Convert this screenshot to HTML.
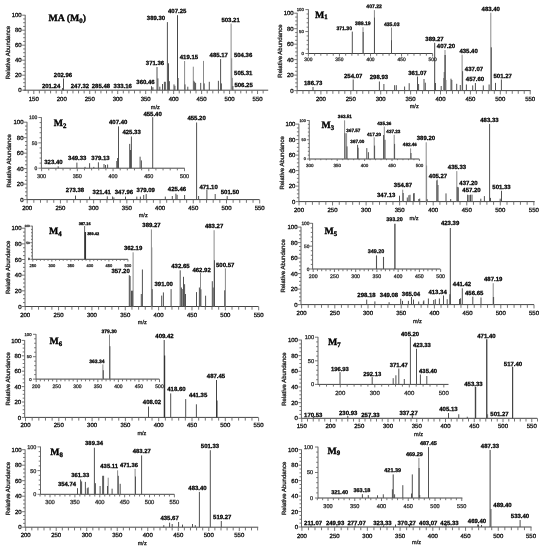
<!DOCTYPE html>
<html><head><meta charset="utf-8"><style>
html,body{margin:0;padding:0;background:#fff;}
svg{display:block;filter:blur(0.3px);}
text{font-family:"Liberation Sans",sans-serif;text-rendering:geometricPrecision;}
</style></head><body>
<svg width="544" height="550" viewBox="0 0 544 550">
<rect width="544" height="550" fill="#fff"/>
<line x1="25.20" y1="14.90" x2="25.20" y2="90.60" stroke="#666" stroke-width="1.0"/>
<line x1="23.50" y1="90.20" x2="268.20" y2="90.20" stroke="#444" stroke-width="1.0"/>
<line x1="22.20" y1="90.20" x2="25.20" y2="90.20" stroke="#666" stroke-width="0.9"/>
<line x1="23.20" y1="86.45" x2="25.20" y2="86.45" stroke="#666" stroke-width="0.9"/>
<line x1="23.20" y1="82.70" x2="25.20" y2="82.70" stroke="#666" stroke-width="0.9"/>
<line x1="23.20" y1="78.95" x2="25.20" y2="78.95" stroke="#666" stroke-width="0.9"/>
<line x1="22.20" y1="75.20" x2="25.20" y2="75.20" stroke="#666" stroke-width="0.9"/>
<line x1="23.20" y1="71.45" x2="25.20" y2="71.45" stroke="#666" stroke-width="0.9"/>
<line x1="23.20" y1="67.70" x2="25.20" y2="67.70" stroke="#666" stroke-width="0.9"/>
<line x1="23.20" y1="63.95" x2="25.20" y2="63.95" stroke="#666" stroke-width="0.9"/>
<line x1="22.20" y1="60.20" x2="25.20" y2="60.20" stroke="#666" stroke-width="0.9"/>
<line x1="23.20" y1="56.45" x2="25.20" y2="56.45" stroke="#666" stroke-width="0.9"/>
<line x1="23.20" y1="52.70" x2="25.20" y2="52.70" stroke="#666" stroke-width="0.9"/>
<line x1="23.20" y1="48.95" x2="25.20" y2="48.95" stroke="#666" stroke-width="0.9"/>
<line x1="22.20" y1="45.20" x2="25.20" y2="45.20" stroke="#666" stroke-width="0.9"/>
<line x1="23.20" y1="41.45" x2="25.20" y2="41.45" stroke="#666" stroke-width="0.9"/>
<line x1="23.20" y1="37.70" x2="25.20" y2="37.70" stroke="#666" stroke-width="0.9"/>
<line x1="23.20" y1="33.95" x2="25.20" y2="33.95" stroke="#666" stroke-width="0.9"/>
<line x1="22.20" y1="30.20" x2="25.20" y2="30.20" stroke="#666" stroke-width="0.9"/>
<line x1="23.20" y1="26.45" x2="25.20" y2="26.45" stroke="#666" stroke-width="0.9"/>
<line x1="23.20" y1="22.70" x2="25.20" y2="22.70" stroke="#666" stroke-width="0.9"/>
<line x1="23.20" y1="18.95" x2="25.20" y2="18.95" stroke="#666" stroke-width="0.9"/>
<line x1="22.20" y1="15.20" x2="25.20" y2="15.20" stroke="#666" stroke-width="0.9"/>
<text x="21.70" y="92.36" font-size="6.0" text-anchor="end" fill="#111" stroke="#111" stroke-width="0.3">0</text>
<text x="21.70" y="77.36" font-size="6.0" text-anchor="end" fill="#111" stroke="#111" stroke-width="0.3">20</text>
<text x="21.70" y="62.36" font-size="6.0" text-anchor="end" fill="#111" stroke="#111" stroke-width="0.3">40</text>
<text x="21.70" y="47.36" font-size="6.0" text-anchor="end" fill="#111" stroke="#111" stroke-width="0.3">60</text>
<text x="21.70" y="32.36" font-size="6.0" text-anchor="end" fill="#111" stroke="#111" stroke-width="0.3">80</text>
<text x="21.70" y="17.36" font-size="6.0" text-anchor="end" fill="#111" stroke="#111" stroke-width="0.3">100</text>
<line x1="28.21" y1="90.20" x2="28.21" y2="93.40" stroke="#666" stroke-width="0.9"/>
<line x1="33.80" y1="90.20" x2="33.80" y2="94.00" stroke="#666" stroke-width="0.9"/>
<line x1="39.39" y1="90.20" x2="39.39" y2="93.40" stroke="#666" stroke-width="0.9"/>
<line x1="44.99" y1="90.20" x2="44.99" y2="93.40" stroke="#666" stroke-width="0.9"/>
<line x1="50.58" y1="90.20" x2="50.58" y2="93.40" stroke="#666" stroke-width="0.9"/>
<line x1="56.18" y1="90.20" x2="56.18" y2="93.40" stroke="#666" stroke-width="0.9"/>
<line x1="61.77" y1="90.20" x2="61.77" y2="94.00" stroke="#666" stroke-width="0.9"/>
<line x1="67.36" y1="90.20" x2="67.36" y2="93.40" stroke="#666" stroke-width="0.9"/>
<line x1="72.96" y1="90.20" x2="72.96" y2="93.40" stroke="#666" stroke-width="0.9"/>
<line x1="78.55" y1="90.20" x2="78.55" y2="93.40" stroke="#666" stroke-width="0.9"/>
<line x1="84.15" y1="90.20" x2="84.15" y2="93.40" stroke="#666" stroke-width="0.9"/>
<line x1="89.74" y1="90.20" x2="89.74" y2="94.00" stroke="#666" stroke-width="0.9"/>
<line x1="95.33" y1="90.20" x2="95.33" y2="93.40" stroke="#666" stroke-width="0.9"/>
<line x1="100.93" y1="90.20" x2="100.93" y2="93.40" stroke="#666" stroke-width="0.9"/>
<line x1="106.52" y1="90.20" x2="106.52" y2="93.40" stroke="#666" stroke-width="0.9"/>
<line x1="112.12" y1="90.20" x2="112.12" y2="93.40" stroke="#666" stroke-width="0.9"/>
<line x1="117.71" y1="90.20" x2="117.71" y2="94.00" stroke="#666" stroke-width="0.9"/>
<line x1="123.30" y1="90.20" x2="123.30" y2="93.40" stroke="#666" stroke-width="0.9"/>
<line x1="128.90" y1="90.20" x2="128.90" y2="93.40" stroke="#666" stroke-width="0.9"/>
<line x1="134.49" y1="90.20" x2="134.49" y2="93.40" stroke="#666" stroke-width="0.9"/>
<line x1="140.09" y1="90.20" x2="140.09" y2="93.40" stroke="#666" stroke-width="0.9"/>
<line x1="145.68" y1="90.20" x2="145.68" y2="94.00" stroke="#666" stroke-width="0.9"/>
<line x1="151.27" y1="90.20" x2="151.27" y2="93.40" stroke="#666" stroke-width="0.9"/>
<line x1="156.87" y1="90.20" x2="156.87" y2="93.40" stroke="#666" stroke-width="0.9"/>
<line x1="162.46" y1="90.20" x2="162.46" y2="93.40" stroke="#666" stroke-width="0.9"/>
<line x1="168.06" y1="90.20" x2="168.06" y2="93.40" stroke="#666" stroke-width="0.9"/>
<line x1="173.65" y1="90.20" x2="173.65" y2="94.00" stroke="#666" stroke-width="0.9"/>
<line x1="179.24" y1="90.20" x2="179.24" y2="93.40" stroke="#666" stroke-width="0.9"/>
<line x1="184.84" y1="90.20" x2="184.84" y2="93.40" stroke="#666" stroke-width="0.9"/>
<line x1="190.43" y1="90.20" x2="190.43" y2="93.40" stroke="#666" stroke-width="0.9"/>
<line x1="196.03" y1="90.20" x2="196.03" y2="93.40" stroke="#666" stroke-width="0.9"/>
<line x1="201.62" y1="90.20" x2="201.62" y2="94.00" stroke="#666" stroke-width="0.9"/>
<line x1="207.21" y1="90.20" x2="207.21" y2="93.40" stroke="#666" stroke-width="0.9"/>
<line x1="212.81" y1="90.20" x2="212.81" y2="93.40" stroke="#666" stroke-width="0.9"/>
<line x1="218.40" y1="90.20" x2="218.40" y2="93.40" stroke="#666" stroke-width="0.9"/>
<line x1="224.00" y1="90.20" x2="224.00" y2="93.40" stroke="#666" stroke-width="0.9"/>
<line x1="229.59" y1="90.20" x2="229.59" y2="94.00" stroke="#666" stroke-width="0.9"/>
<line x1="235.18" y1="90.20" x2="235.18" y2="93.40" stroke="#666" stroke-width="0.9"/>
<line x1="240.78" y1="90.20" x2="240.78" y2="93.40" stroke="#666" stroke-width="0.9"/>
<line x1="246.37" y1="90.20" x2="246.37" y2="93.40" stroke="#666" stroke-width="0.9"/>
<line x1="251.97" y1="90.20" x2="251.97" y2="93.40" stroke="#666" stroke-width="0.9"/>
<line x1="257.56" y1="90.20" x2="257.56" y2="94.00" stroke="#666" stroke-width="0.9"/>
<line x1="263.15" y1="90.20" x2="263.15" y2="93.40" stroke="#666" stroke-width="0.9"/>
<text x="33.80" y="100.66" font-size="6.0" text-anchor="middle" fill="#111" stroke="#111" stroke-width="0.3">150</text>
<text x="61.77" y="100.66" font-size="6.0" text-anchor="middle" fill="#111" stroke="#111" stroke-width="0.3">200</text>
<text x="89.74" y="100.66" font-size="6.0" text-anchor="middle" fill="#111" stroke="#111" stroke-width="0.3">250</text>
<text x="117.71" y="100.66" font-size="6.0" text-anchor="middle" fill="#111" stroke="#111" stroke-width="0.3">300</text>
<text x="145.68" y="100.66" font-size="6.0" text-anchor="middle" fill="#111" stroke="#111" stroke-width="0.3">350</text>
<text x="173.65" y="100.66" font-size="6.0" text-anchor="middle" fill="#111" stroke="#111" stroke-width="0.3">400</text>
<text x="201.62" y="100.66" font-size="6.0" text-anchor="middle" fill="#111" stroke="#111" stroke-width="0.3">450</text>
<text x="229.59" y="100.66" font-size="6.0" text-anchor="middle" fill="#111" stroke="#111" stroke-width="0.3">500</text>
<text x="257.56" y="100.66" font-size="6.0" text-anchor="middle" fill="#111" stroke="#111" stroke-width="0.3">550</text>
<text x="0" y="0" font-size="6.0" text-anchor="middle" fill="#222" stroke="#222" stroke-width="0.3" transform="translate(9.86,52.60) rotate(-90)">Relative Abundance</text>
<text x="155.30" y="108.96" font-size="5.6" text-anchor="middle" fill="#222" stroke="#222" stroke-width="0.3">m/z</text>
<line x1="184.60" y1="61.00" x2="184.60" y2="90.20" stroke="#8a8a8a" stroke-width="1.0"/>
<line x1="193.30" y1="66.70" x2="193.30" y2="90.20" stroke="#8a8a8a" stroke-width="1.0"/>
<line x1="203.50" y1="60.90" x2="203.50" y2="90.20" stroke="#8a8a8a" stroke-width="1.0"/>
<line x1="231.10" y1="23.60" x2="231.10" y2="90.20" stroke="#8a8a8a" stroke-width="1.0"/>
<line x1="231.70" y1="58.30" x2="231.70" y2="90.20" stroke="#8a8a8a" stroke-width="1.0"/>
<line x1="232.30" y1="77.90" x2="232.30" y2="90.20" stroke="#8a8a8a" stroke-width="1.0"/>
<line x1="63.50" y1="78.50" x2="63.50" y2="90.20" stroke="#525252" stroke-width="1.0"/>
<line x1="62.60" y1="88.00" x2="62.60" y2="90.20" stroke="#525252" stroke-width="1.0"/>
<line x1="151.50" y1="86.20" x2="151.50" y2="90.20" stroke="#525252" stroke-width="1.0"/>
<line x1="152.90" y1="87.20" x2="152.90" y2="90.20" stroke="#525252" stroke-width="1.0"/>
<line x1="157.00" y1="67.00" x2="157.00" y2="90.20" stroke="#525252" stroke-width="1.0"/>
<line x1="157.90" y1="78.40" x2="157.90" y2="90.20" stroke="#525252" stroke-width="1.0"/>
<line x1="159.80" y1="86.70" x2="159.80" y2="90.20" stroke="#525252" stroke-width="1.0"/>
<line x1="162.50" y1="84.00" x2="162.50" y2="90.20" stroke="#525252" stroke-width="1.0"/>
<line x1="164.40" y1="81.80" x2="164.40" y2="90.20" stroke="#525252" stroke-width="1.0"/>
<line x1="165.30" y1="81.80" x2="165.30" y2="90.20" stroke="#525252" stroke-width="1.0"/>
<line x1="167.40" y1="22.10" x2="167.40" y2="90.20" stroke="#525252" stroke-width="1.0"/>
<line x1="168.50" y1="63.30" x2="168.50" y2="90.20" stroke="#525252" stroke-width="1.0"/>
<line x1="169.40" y1="81.20" x2="169.40" y2="90.20" stroke="#525252" stroke-width="1.0"/>
<line x1="174.00" y1="84.40" x2="174.00" y2="90.20" stroke="#525252" stroke-width="1.0"/>
<line x1="174.90" y1="85.80" x2="174.90" y2="90.20" stroke="#525252" stroke-width="1.0"/>
<line x1="177.50" y1="15.20" x2="177.50" y2="90.20" stroke="#484848" stroke-width="1.0"/>
<line x1="178.10" y1="78.00" x2="178.10" y2="90.20" stroke="#525252" stroke-width="1.0"/>
<line x1="185.00" y1="84.40" x2="185.00" y2="90.20" stroke="#525252" stroke-width="1.0"/>
<line x1="187.80" y1="86.70" x2="187.80" y2="90.20" stroke="#525252" stroke-width="1.0"/>
<line x1="193.90" y1="80.80" x2="193.90" y2="90.20" stroke="#525252" stroke-width="1.0"/>
<line x1="194.70" y1="82.00" x2="194.70" y2="90.20" stroke="#525252" stroke-width="1.0"/>
<line x1="195.60" y1="83.00" x2="195.60" y2="90.20" stroke="#525252" stroke-width="1.0"/>
<line x1="200.70" y1="82.90" x2="200.70" y2="90.20" stroke="#525252" stroke-width="1.0"/>
<line x1="204.20" y1="83.40" x2="204.20" y2="90.20" stroke="#525252" stroke-width="1.0"/>
<line x1="209.30" y1="81.80" x2="209.30" y2="90.20" stroke="#525252" stroke-width="1.0"/>
<line x1="218.40" y1="80.80" x2="218.40" y2="90.20" stroke="#525252" stroke-width="1.0"/>
<line x1="220.60" y1="59.10" x2="220.60" y2="90.20" stroke="#525252" stroke-width="1.0"/>
<line x1="221.40" y1="83.40" x2="221.40" y2="90.20" stroke="#525252" stroke-width="1.0"/>
<line x1="232.90" y1="86.00" x2="232.90" y2="90.20" stroke="#525252" stroke-width="1.0"/>
<text x="63.00" y="76.96" font-size="6" text-anchor="middle" font-weight="bold" fill="#000" stroke="#000" stroke-width="0.25">202.96</text>
<text x="51.10" y="88.06" font-size="6" text-anchor="middle" font-weight="bold" fill="#000" stroke="#000" stroke-width="0.25">201.24</text>
<text x="79.90" y="87.76" font-size="6" text-anchor="middle" font-weight="bold" fill="#000" stroke="#000" stroke-width="0.25">247.32</text>
<text x="100.90" y="87.76" font-size="6" text-anchor="middle" font-weight="bold" fill="#000" stroke="#000" stroke-width="0.25">285.48</text>
<text x="122.80" y="87.76" font-size="6" text-anchor="middle" font-weight="bold" fill="#000" stroke="#000" stroke-width="0.25">333.16</text>
<text x="145.50" y="84.46" font-size="6" text-anchor="middle" font-weight="bold" fill="#000" stroke="#000" stroke-width="0.25">360.46</text>
<text x="155.00" y="65.36" font-size="6" text-anchor="middle" font-weight="bold" fill="#000" stroke="#000" stroke-width="0.25">371.36</text>
<text x="156.00" y="20.16" font-size="6" text-anchor="middle" font-weight="bold" fill="#000" stroke="#000" stroke-width="0.25">389.30</text>
<text x="177.20" y="13.06" font-size="6" text-anchor="middle" font-weight="bold" fill="#000" stroke="#000" stroke-width="0.25">407.25</text>
<text x="188.90" y="59.26" font-size="6" text-anchor="middle" font-weight="bold" fill="#000" stroke="#000" stroke-width="0.25">419.15</text>
<text x="218.80" y="56.66" font-size="6" text-anchor="middle" font-weight="bold" fill="#000" stroke="#000" stroke-width="0.25">485.17</text>
<text x="230.60" y="21.66" font-size="6" text-anchor="middle" font-weight="bold" fill="#000" stroke="#000" stroke-width="0.25">503.21</text>
<text x="243.10" y="56.76" font-size="6" text-anchor="middle" font-weight="bold" fill="#000" stroke="#000" stroke-width="0.25">504.36</text>
<text x="243.30" y="75.26" font-size="6" text-anchor="middle" font-weight="bold" fill="#000" stroke="#000" stroke-width="0.25">505.31</text>
<text x="243.60" y="87.16" font-size="6" text-anchor="middle" font-weight="bold" fill="#000" stroke="#000" stroke-width="0.25">506.25</text>
<text x="48.6" y="20.7" font-size="9.8" font-weight="bold" font-family="Liberation Serif" fill="#000" stroke="#000" stroke-width="0.35" style="font-family:'Liberation Serif',serif">MA (M<tspan font-size="6.8" dy="1.8">0</tspan><tspan dy="-1.8">)</tspan></text>
<line x1="297.20" y1="12.90" x2="297.20" y2="91.00" stroke="#666" stroke-width="1.0"/>
<line x1="297.20" y1="90.60" x2="530.70" y2="90.60" stroke="#444" stroke-width="1.0"/>
<line x1="294.20" y1="90.60" x2="297.20" y2="90.60" stroke="#666" stroke-width="0.9"/>
<line x1="295.20" y1="86.73" x2="297.20" y2="86.73" stroke="#666" stroke-width="0.9"/>
<line x1="295.20" y1="82.86" x2="297.20" y2="82.86" stroke="#666" stroke-width="0.9"/>
<line x1="295.20" y1="78.99" x2="297.20" y2="78.99" stroke="#666" stroke-width="0.9"/>
<line x1="294.20" y1="75.12" x2="297.20" y2="75.12" stroke="#666" stroke-width="0.9"/>
<line x1="295.20" y1="71.25" x2="297.20" y2="71.25" stroke="#666" stroke-width="0.9"/>
<line x1="295.20" y1="67.38" x2="297.20" y2="67.38" stroke="#666" stroke-width="0.9"/>
<line x1="295.20" y1="63.51" x2="297.20" y2="63.51" stroke="#666" stroke-width="0.9"/>
<line x1="294.20" y1="59.64" x2="297.20" y2="59.64" stroke="#666" stroke-width="0.9"/>
<line x1="295.20" y1="55.77" x2="297.20" y2="55.77" stroke="#666" stroke-width="0.9"/>
<line x1="295.20" y1="51.90" x2="297.20" y2="51.90" stroke="#666" stroke-width="0.9"/>
<line x1="295.20" y1="48.03" x2="297.20" y2="48.03" stroke="#666" stroke-width="0.9"/>
<line x1="294.20" y1="44.16" x2="297.20" y2="44.16" stroke="#666" stroke-width="0.9"/>
<line x1="295.20" y1="40.29" x2="297.20" y2="40.29" stroke="#666" stroke-width="0.9"/>
<line x1="295.20" y1="36.42" x2="297.20" y2="36.42" stroke="#666" stroke-width="0.9"/>
<line x1="295.20" y1="32.55" x2="297.20" y2="32.55" stroke="#666" stroke-width="0.9"/>
<line x1="294.20" y1="28.68" x2="297.20" y2="28.68" stroke="#666" stroke-width="0.9"/>
<line x1="295.20" y1="24.81" x2="297.20" y2="24.81" stroke="#666" stroke-width="0.9"/>
<line x1="295.20" y1="20.94" x2="297.20" y2="20.94" stroke="#666" stroke-width="0.9"/>
<line x1="295.20" y1="17.07" x2="297.20" y2="17.07" stroke="#666" stroke-width="0.9"/>
<line x1="294.20" y1="13.20" x2="297.20" y2="13.20" stroke="#666" stroke-width="0.9"/>
<text x="293.70" y="92.76" font-size="6.0" text-anchor="end" fill="#111" stroke="#111" stroke-width="0.3">0</text>
<text x="293.70" y="77.28" font-size="6.0" text-anchor="end" fill="#111" stroke="#111" stroke-width="0.3">20</text>
<text x="293.70" y="61.80" font-size="6.0" text-anchor="end" fill="#111" stroke="#111" stroke-width="0.3">40</text>
<text x="293.70" y="46.32" font-size="6.0" text-anchor="end" fill="#111" stroke="#111" stroke-width="0.3">60</text>
<text x="293.70" y="30.84" font-size="6.0" text-anchor="end" fill="#111" stroke="#111" stroke-width="0.3">80</text>
<text x="293.70" y="15.36" font-size="6.0" text-anchor="end" fill="#111" stroke="#111" stroke-width="0.3">100</text>
<line x1="296.98" y1="90.60" x2="296.98" y2="93.80" stroke="#666" stroke-width="0.9"/>
<line x1="302.96" y1="90.60" x2="302.96" y2="93.80" stroke="#666" stroke-width="0.9"/>
<line x1="308.94" y1="90.60" x2="308.94" y2="93.80" stroke="#666" stroke-width="0.9"/>
<line x1="314.92" y1="90.60" x2="314.92" y2="93.80" stroke="#666" stroke-width="0.9"/>
<line x1="320.90" y1="90.60" x2="320.90" y2="94.40" stroke="#666" stroke-width="0.9"/>
<line x1="326.88" y1="90.60" x2="326.88" y2="93.80" stroke="#666" stroke-width="0.9"/>
<line x1="332.86" y1="90.60" x2="332.86" y2="93.80" stroke="#666" stroke-width="0.9"/>
<line x1="338.84" y1="90.60" x2="338.84" y2="93.80" stroke="#666" stroke-width="0.9"/>
<line x1="344.82" y1="90.60" x2="344.82" y2="93.80" stroke="#666" stroke-width="0.9"/>
<line x1="350.80" y1="90.60" x2="350.80" y2="94.40" stroke="#666" stroke-width="0.9"/>
<line x1="356.78" y1="90.60" x2="356.78" y2="93.80" stroke="#666" stroke-width="0.9"/>
<line x1="362.76" y1="90.60" x2="362.76" y2="93.80" stroke="#666" stroke-width="0.9"/>
<line x1="368.74" y1="90.60" x2="368.74" y2="93.80" stroke="#666" stroke-width="0.9"/>
<line x1="374.72" y1="90.60" x2="374.72" y2="93.80" stroke="#666" stroke-width="0.9"/>
<line x1="380.70" y1="90.60" x2="380.70" y2="94.40" stroke="#666" stroke-width="0.9"/>
<line x1="386.68" y1="90.60" x2="386.68" y2="93.80" stroke="#666" stroke-width="0.9"/>
<line x1="392.66" y1="90.60" x2="392.66" y2="93.80" stroke="#666" stroke-width="0.9"/>
<line x1="398.64" y1="90.60" x2="398.64" y2="93.80" stroke="#666" stroke-width="0.9"/>
<line x1="404.62" y1="90.60" x2="404.62" y2="93.80" stroke="#666" stroke-width="0.9"/>
<line x1="410.60" y1="90.60" x2="410.60" y2="94.40" stroke="#666" stroke-width="0.9"/>
<line x1="416.58" y1="90.60" x2="416.58" y2="93.80" stroke="#666" stroke-width="0.9"/>
<line x1="422.56" y1="90.60" x2="422.56" y2="93.80" stroke="#666" stroke-width="0.9"/>
<line x1="428.54" y1="90.60" x2="428.54" y2="93.80" stroke="#666" stroke-width="0.9"/>
<line x1="434.52" y1="90.60" x2="434.52" y2="93.80" stroke="#666" stroke-width="0.9"/>
<line x1="440.50" y1="90.60" x2="440.50" y2="94.40" stroke="#666" stroke-width="0.9"/>
<line x1="446.48" y1="90.60" x2="446.48" y2="93.80" stroke="#666" stroke-width="0.9"/>
<line x1="452.46" y1="90.60" x2="452.46" y2="93.80" stroke="#666" stroke-width="0.9"/>
<line x1="458.44" y1="90.60" x2="458.44" y2="93.80" stroke="#666" stroke-width="0.9"/>
<line x1="464.42" y1="90.60" x2="464.42" y2="93.80" stroke="#666" stroke-width="0.9"/>
<line x1="470.40" y1="90.60" x2="470.40" y2="94.40" stroke="#666" stroke-width="0.9"/>
<line x1="476.38" y1="90.60" x2="476.38" y2="93.80" stroke="#666" stroke-width="0.9"/>
<line x1="482.36" y1="90.60" x2="482.36" y2="93.80" stroke="#666" stroke-width="0.9"/>
<line x1="488.34" y1="90.60" x2="488.34" y2="93.80" stroke="#666" stroke-width="0.9"/>
<line x1="494.32" y1="90.60" x2="494.32" y2="93.80" stroke="#666" stroke-width="0.9"/>
<line x1="500.30" y1="90.60" x2="500.30" y2="94.40" stroke="#666" stroke-width="0.9"/>
<line x1="506.28" y1="90.60" x2="506.28" y2="93.80" stroke="#666" stroke-width="0.9"/>
<line x1="512.26" y1="90.60" x2="512.26" y2="93.80" stroke="#666" stroke-width="0.9"/>
<line x1="518.24" y1="90.60" x2="518.24" y2="93.80" stroke="#666" stroke-width="0.9"/>
<line x1="524.22" y1="90.60" x2="524.22" y2="93.80" stroke="#666" stroke-width="0.9"/>
<line x1="530.20" y1="90.60" x2="530.20" y2="94.40" stroke="#666" stroke-width="0.9"/>
<text x="320.90" y="101.06" font-size="6.0" text-anchor="middle" fill="#111" stroke="#111" stroke-width="0.3">200</text>
<text x="350.80" y="101.06" font-size="6.0" text-anchor="middle" fill="#111" stroke="#111" stroke-width="0.3">250</text>
<text x="380.70" y="101.06" font-size="6.0" text-anchor="middle" fill="#111" stroke="#111" stroke-width="0.3">300</text>
<text x="410.60" y="101.06" font-size="6.0" text-anchor="middle" fill="#111" stroke="#111" stroke-width="0.3">350</text>
<text x="440.50" y="101.06" font-size="6.0" text-anchor="middle" fill="#111" stroke="#111" stroke-width="0.3">400</text>
<text x="470.40" y="101.06" font-size="6.0" text-anchor="middle" fill="#111" stroke="#111" stroke-width="0.3">450</text>
<text x="500.30" y="101.06" font-size="6.0" text-anchor="middle" fill="#111" stroke="#111" stroke-width="0.3">500</text>
<text x="530.20" y="101.06" font-size="6.0" text-anchor="middle" fill="#111" stroke="#111" stroke-width="0.3">550</text>
<text x="0" y="0" font-size="6.0" text-anchor="middle" fill="#222" stroke="#222" stroke-width="0.3" transform="translate(281.86,51.00) rotate(-90)">Relative Abundance</text>
<text x="414.20" y="107.96" font-size="5.6" text-anchor="middle" fill="#222" stroke="#222" stroke-width="0.3">m/z</text>
<line x1="443.60" y1="78.00" x2="443.60" y2="90.60" stroke="#888" stroke-width="1"/>
<line x1="445.00" y1="50.00" x2="445.00" y2="90.60" stroke="#8a8a8a" stroke-width="1"/>
<line x1="462.10" y1="54.60" x2="462.10" y2="90.60" stroke="#8a8a8a" stroke-width="1.0"/>
<line x1="490.80" y1="12.70" x2="490.80" y2="90.60" stroke="#8a8a8a" stroke-width="1.0"/>
<line x1="313.00" y1="87.00" x2="313.00" y2="90.60" stroke="#525252" stroke-width="1.0"/>
<line x1="353.20" y1="79.50" x2="353.20" y2="90.60" stroke="#525252" stroke-width="1.0"/>
<line x1="379.40" y1="81.50" x2="379.40" y2="90.60" stroke="#525252" stroke-width="1.0"/>
<line x1="383.90" y1="84.00" x2="383.90" y2="90.60" stroke="#525252" stroke-width="1.0"/>
<line x1="394.60" y1="85.20" x2="394.60" y2="90.60" stroke="#525252" stroke-width="1.0"/>
<line x1="396.30" y1="85.20" x2="396.30" y2="90.60" stroke="#525252" stroke-width="1.0"/>
<line x1="404.60" y1="86.50" x2="404.60" y2="90.60" stroke="#525252" stroke-width="1.0"/>
<line x1="409.20" y1="83.20" x2="409.20" y2="90.60" stroke="#525252" stroke-width="1.0"/>
<line x1="417.50" y1="76.60" x2="417.50" y2="90.60" stroke="#525252" stroke-width="1.0"/>
<line x1="418.60" y1="84.00" x2="418.60" y2="90.60" stroke="#525252" stroke-width="1.0"/>
<line x1="424.00" y1="79.00" x2="424.00" y2="90.60" stroke="#525252" stroke-width="1.0"/>
<line x1="425.30" y1="82.70" x2="425.30" y2="90.60" stroke="#525252" stroke-width="1.0"/>
<line x1="434.70" y1="42.80" x2="434.70" y2="90.60" stroke="#444" stroke-width="1.0"/>
<line x1="435.50" y1="83.00" x2="435.50" y2="90.60" stroke="#525252" stroke-width="1.0"/>
<line x1="441.20" y1="86.00" x2="441.20" y2="90.60" stroke="#525252" stroke-width="1.0"/>
<line x1="444.20" y1="72.00" x2="444.20" y2="90.60" stroke="#777" stroke-width="1"/>
<line x1="445.10" y1="55.00" x2="445.10" y2="90.60" stroke="#333" stroke-width="1"/>
<line x1="445.90" y1="80.00" x2="445.90" y2="90.60" stroke="#777" stroke-width="1"/>
<line x1="451.00" y1="78.70" x2="451.00" y2="90.60" stroke="#525252" stroke-width="1.0"/>
<line x1="451.80" y1="80.00" x2="451.80" y2="90.60" stroke="#525252" stroke-width="1.0"/>
<line x1="456.70" y1="83.80" x2="456.70" y2="90.60" stroke="#525252" stroke-width="1.0"/>
<line x1="460.30" y1="85.00" x2="460.30" y2="90.60" stroke="#525252" stroke-width="1.0"/>
<line x1="462.60" y1="71.20" x2="462.60" y2="90.60" stroke="#525252" stroke-width="1.0"/>
<line x1="466.40" y1="84.50" x2="466.40" y2="90.60" stroke="#525252" stroke-width="1.0"/>
<line x1="472.70" y1="85.40" x2="472.70" y2="90.60" stroke="#525252" stroke-width="1.0"/>
<line x1="475.40" y1="83.00" x2="475.40" y2="90.60" stroke="#525252" stroke-width="1.0"/>
<line x1="483.30" y1="85.40" x2="483.30" y2="90.60" stroke="#525252" stroke-width="1.0"/>
<line x1="489.10" y1="84.50" x2="489.10" y2="90.60" stroke="#525252" stroke-width="1.0"/>
<line x1="491.30" y1="47.30" x2="491.30" y2="90.60" stroke="#525252" stroke-width="1.0"/>
<line x1="495.50" y1="82.90" x2="495.50" y2="90.60" stroke="#525252" stroke-width="1.0"/>
<line x1="501.40" y1="79.50" x2="501.40" y2="90.60" stroke="#525252" stroke-width="1.0"/>
<text x="313.20" y="84.96" font-size="6" text-anchor="middle" font-weight="bold" fill="#000" stroke="#000" stroke-width="0.25">186.73</text>
<text x="353.20" y="77.86" font-size="6" text-anchor="middle" font-weight="bold" fill="#000" stroke="#000" stroke-width="0.25">254.07</text>
<text x="378.90" y="79.16" font-size="6" text-anchor="middle" font-weight="bold" fill="#000" stroke="#000" stroke-width="0.25">298.93</text>
<text x="417.40" y="74.56" font-size="6" text-anchor="middle" font-weight="bold" fill="#000" stroke="#000" stroke-width="0.25">361.07</text>
<text x="434.50" y="40.76" font-size="6" text-anchor="middle" font-weight="bold" fill="#000" stroke="#000" stroke-width="0.25">389.27</text>
<text x="446.00" y="48.16" font-size="6" text-anchor="middle" font-weight="bold" fill="#000" stroke="#000" stroke-width="0.25">407.20</text>
<text x="468.60" y="52.76" font-size="6" text-anchor="middle" font-weight="bold" fill="#000" stroke="#000" stroke-width="0.25">435.40</text>
<text x="474.00" y="70.86" font-size="6" text-anchor="middle" font-weight="bold" fill="#000" stroke="#000" stroke-width="0.25">437.07</text>
<text x="475.00" y="80.96" font-size="6" text-anchor="middle" font-weight="bold" fill="#000" stroke="#000" stroke-width="0.25">457.60</text>
<text x="490.80" y="10.96" font-size="6" text-anchor="middle" font-weight="bold" fill="#000" stroke="#000" stroke-width="0.25">483.40</text>
<text x="502.70" y="77.91" font-size="6" text-anchor="middle" font-weight="bold" fill="#000" stroke="#000" stroke-width="0.25">501.27</text>
<text x="315.1" y="17.5" font-size="9.8" font-weight="bold" font-family="Liberation Serif" fill="#000" stroke="#000" stroke-width="0.35" style="font-family:'Liberation Serif',serif">M<tspan font-size="6.8" dy="1.8">1</tspan></text>
<line x1="308.40" y1="9.30" x2="308.40" y2="53.90" stroke="#666" stroke-width="1.0"/>
<line x1="308.40" y1="53.50" x2="432.60" y2="53.50" stroke="#444" stroke-width="1.0"/>
<line x1="305.40" y1="53.50" x2="308.40" y2="53.50" stroke="#666" stroke-width="0.9"/>
<line x1="306.60" y1="49.11" x2="308.40" y2="49.11" stroke="#666" stroke-width="0.9"/>
<line x1="306.60" y1="44.72" x2="308.40" y2="44.72" stroke="#666" stroke-width="0.9"/>
<line x1="306.60" y1="40.33" x2="308.40" y2="40.33" stroke="#666" stroke-width="0.9"/>
<line x1="306.60" y1="35.94" x2="308.40" y2="35.94" stroke="#666" stroke-width="0.9"/>
<line x1="305.40" y1="31.55" x2="308.40" y2="31.55" stroke="#666" stroke-width="0.9"/>
<line x1="306.60" y1="27.16" x2="308.40" y2="27.16" stroke="#666" stroke-width="0.9"/>
<line x1="306.60" y1="22.77" x2="308.40" y2="22.77" stroke="#666" stroke-width="0.9"/>
<line x1="306.60" y1="18.38" x2="308.40" y2="18.38" stroke="#666" stroke-width="0.9"/>
<line x1="306.60" y1="13.99" x2="308.40" y2="13.99" stroke="#666" stroke-width="0.9"/>
<line x1="305.40" y1="9.60" x2="308.40" y2="9.60" stroke="#666" stroke-width="0.9"/>
<text x="303.90" y="55.05" font-size="4.3" text-anchor="end" fill="#333" stroke="#333" stroke-width="0.3">0</text>
<text x="303.90" y="33.10" font-size="4.3" text-anchor="end" fill="#333" stroke="#333" stroke-width="0.3">50</text>
<text x="303.90" y="11.15" font-size="4.3" text-anchor="end" fill="#333" stroke="#333" stroke-width="0.3">100</text>
<line x1="308.40" y1="53.50" x2="308.40" y2="56.50" stroke="#666" stroke-width="0.9"/>
<line x1="314.61" y1="53.50" x2="314.61" y2="55.70" stroke="#666" stroke-width="0.9"/>
<line x1="320.82" y1="53.50" x2="320.82" y2="55.70" stroke="#666" stroke-width="0.9"/>
<line x1="327.03" y1="53.50" x2="327.03" y2="55.70" stroke="#666" stroke-width="0.9"/>
<line x1="333.24" y1="53.50" x2="333.24" y2="55.70" stroke="#666" stroke-width="0.9"/>
<line x1="339.45" y1="53.50" x2="339.45" y2="56.50" stroke="#666" stroke-width="0.9"/>
<line x1="345.66" y1="53.50" x2="345.66" y2="55.70" stroke="#666" stroke-width="0.9"/>
<line x1="351.87" y1="53.50" x2="351.87" y2="55.70" stroke="#666" stroke-width="0.9"/>
<line x1="358.08" y1="53.50" x2="358.08" y2="55.70" stroke="#666" stroke-width="0.9"/>
<line x1="364.29" y1="53.50" x2="364.29" y2="55.70" stroke="#666" stroke-width="0.9"/>
<line x1="370.50" y1="53.50" x2="370.50" y2="56.50" stroke="#666" stroke-width="0.9"/>
<line x1="376.71" y1="53.50" x2="376.71" y2="55.70" stroke="#666" stroke-width="0.9"/>
<line x1="382.92" y1="53.50" x2="382.92" y2="55.70" stroke="#666" stroke-width="0.9"/>
<line x1="389.13" y1="53.50" x2="389.13" y2="55.70" stroke="#666" stroke-width="0.9"/>
<line x1="395.34" y1="53.50" x2="395.34" y2="55.70" stroke="#666" stroke-width="0.9"/>
<line x1="401.55" y1="53.50" x2="401.55" y2="56.50" stroke="#666" stroke-width="0.9"/>
<line x1="407.76" y1="53.50" x2="407.76" y2="55.70" stroke="#666" stroke-width="0.9"/>
<line x1="413.97" y1="53.50" x2="413.97" y2="55.70" stroke="#666" stroke-width="0.9"/>
<line x1="420.18" y1="53.50" x2="420.18" y2="55.70" stroke="#666" stroke-width="0.9"/>
<line x1="426.39" y1="53.50" x2="426.39" y2="55.70" stroke="#666" stroke-width="0.9"/>
<line x1="432.60" y1="53.50" x2="432.60" y2="56.50" stroke="#666" stroke-width="0.9"/>
<text x="308.40" y="61.46" font-size="4.9" text-anchor="middle" fill="#333" stroke="#333" stroke-width="0.3">300</text>
<text x="339.45" y="61.46" font-size="4.9" text-anchor="middle" fill="#333" stroke="#333" stroke-width="0.3">350</text>
<text x="370.50" y="61.46" font-size="4.9" text-anchor="middle" fill="#333" stroke="#333" stroke-width="0.3">400</text>
<text x="401.55" y="61.46" font-size="4.9" text-anchor="middle" fill="#333" stroke="#333" stroke-width="0.3">450</text>
<text x="432.60" y="61.46" font-size="4.9" text-anchor="middle" fill="#333" stroke="#333" stroke-width="0.3">500</text>
<line x1="363.00" y1="27.20" x2="363.00" y2="53.50" stroke="#8a8a8a" stroke-width="1.0"/>
<line x1="374.40" y1="10.10" x2="374.40" y2="53.50" stroke="#8a8a8a" stroke-width="1.0"/>
<line x1="391.50" y1="27.60" x2="391.50" y2="53.50" stroke="#8a8a8a" stroke-width="1.0"/>
<line x1="352.30" y1="31.60" x2="352.30" y2="53.50" stroke="#525252" stroke-width="1.0"/>
<line x1="363.20" y1="32.00" x2="363.20" y2="53.50" stroke="#525252" stroke-width="1.0"/>
<line x1="374.50" y1="17.60" x2="374.50" y2="53.50" stroke="#525252" stroke-width="1.0"/>
<line x1="391.50" y1="40.20" x2="391.50" y2="53.50" stroke="#525252" stroke-width="1.0"/>
<text x="344.20" y="29.84" font-size="5.1" text-anchor="middle" font-weight="bold" fill="#000" stroke="#000" stroke-width="0.25">371.30</text>
<text x="362.90" y="25.34" font-size="5.1" text-anchor="middle" font-weight="bold" fill="#000" stroke="#000" stroke-width="0.25">389.19</text>
<text x="374.10" y="7.94" font-size="5.1" text-anchor="middle" font-weight="bold" fill="#000" stroke="#000" stroke-width="0.25">407.22</text>
<text x="391.70" y="26.14" font-size="5.1" text-anchor="middle" font-weight="bold" fill="#000" stroke="#000" stroke-width="0.25">435.03</text>
<line x1="27.00" y1="121.90" x2="27.00" y2="200.00" stroke="#666" stroke-width="1.0"/>
<line x1="27.00" y1="199.60" x2="259.50" y2="199.60" stroke="#444" stroke-width="1.0"/>
<line x1="24.00" y1="199.60" x2="27.00" y2="199.60" stroke="#666" stroke-width="0.9"/>
<line x1="25.00" y1="195.73" x2="27.00" y2="195.73" stroke="#666" stroke-width="0.9"/>
<line x1="25.00" y1="191.86" x2="27.00" y2="191.86" stroke="#666" stroke-width="0.9"/>
<line x1="25.00" y1="187.99" x2="27.00" y2="187.99" stroke="#666" stroke-width="0.9"/>
<line x1="24.00" y1="184.12" x2="27.00" y2="184.12" stroke="#666" stroke-width="0.9"/>
<line x1="25.00" y1="180.25" x2="27.00" y2="180.25" stroke="#666" stroke-width="0.9"/>
<line x1="25.00" y1="176.38" x2="27.00" y2="176.38" stroke="#666" stroke-width="0.9"/>
<line x1="25.00" y1="172.51" x2="27.00" y2="172.51" stroke="#666" stroke-width="0.9"/>
<line x1="24.00" y1="168.64" x2="27.00" y2="168.64" stroke="#666" stroke-width="0.9"/>
<line x1="25.00" y1="164.77" x2="27.00" y2="164.77" stroke="#666" stroke-width="0.9"/>
<line x1="25.00" y1="160.90" x2="27.00" y2="160.90" stroke="#666" stroke-width="0.9"/>
<line x1="25.00" y1="157.03" x2="27.00" y2="157.03" stroke="#666" stroke-width="0.9"/>
<line x1="24.00" y1="153.16" x2="27.00" y2="153.16" stroke="#666" stroke-width="0.9"/>
<line x1="25.00" y1="149.29" x2="27.00" y2="149.29" stroke="#666" stroke-width="0.9"/>
<line x1="25.00" y1="145.42" x2="27.00" y2="145.42" stroke="#666" stroke-width="0.9"/>
<line x1="25.00" y1="141.55" x2="27.00" y2="141.55" stroke="#666" stroke-width="0.9"/>
<line x1="24.00" y1="137.68" x2="27.00" y2="137.68" stroke="#666" stroke-width="0.9"/>
<line x1="25.00" y1="133.81" x2="27.00" y2="133.81" stroke="#666" stroke-width="0.9"/>
<line x1="25.00" y1="129.94" x2="27.00" y2="129.94" stroke="#666" stroke-width="0.9"/>
<line x1="25.00" y1="126.07" x2="27.00" y2="126.07" stroke="#666" stroke-width="0.9"/>
<line x1="24.00" y1="122.20" x2="27.00" y2="122.20" stroke="#666" stroke-width="0.9"/>
<text x="23.50" y="201.76" font-size="6.0" text-anchor="end" fill="#111" stroke="#111" stroke-width="0.3">0</text>
<text x="23.50" y="186.28" font-size="6.0" text-anchor="end" fill="#111" stroke="#111" stroke-width="0.3">20</text>
<text x="23.50" y="170.80" font-size="6.0" text-anchor="end" fill="#111" stroke="#111" stroke-width="0.3">40</text>
<text x="23.50" y="155.32" font-size="6.0" text-anchor="end" fill="#111" stroke="#111" stroke-width="0.3">60</text>
<text x="23.50" y="139.84" font-size="6.0" text-anchor="end" fill="#111" stroke="#111" stroke-width="0.3">80</text>
<text x="23.50" y="124.36" font-size="6.0" text-anchor="end" fill="#111" stroke="#111" stroke-width="0.3">100</text>
<line x1="27.20" y1="199.60" x2="27.20" y2="203.40" stroke="#666" stroke-width="0.9"/>
<line x1="33.84" y1="199.60" x2="33.84" y2="202.80" stroke="#666" stroke-width="0.9"/>
<line x1="40.49" y1="199.60" x2="40.49" y2="202.80" stroke="#666" stroke-width="0.9"/>
<line x1="47.13" y1="199.60" x2="47.13" y2="202.80" stroke="#666" stroke-width="0.9"/>
<line x1="53.77" y1="199.60" x2="53.77" y2="202.80" stroke="#666" stroke-width="0.9"/>
<line x1="60.42" y1="199.60" x2="60.42" y2="203.40" stroke="#666" stroke-width="0.9"/>
<line x1="67.06" y1="199.60" x2="67.06" y2="202.80" stroke="#666" stroke-width="0.9"/>
<line x1="73.70" y1="199.60" x2="73.70" y2="202.80" stroke="#666" stroke-width="0.9"/>
<line x1="80.34" y1="199.60" x2="80.34" y2="202.80" stroke="#666" stroke-width="0.9"/>
<line x1="86.99" y1="199.60" x2="86.99" y2="202.80" stroke="#666" stroke-width="0.9"/>
<line x1="93.63" y1="199.60" x2="93.63" y2="203.40" stroke="#666" stroke-width="0.9"/>
<line x1="100.27" y1="199.60" x2="100.27" y2="202.80" stroke="#666" stroke-width="0.9"/>
<line x1="106.92" y1="199.60" x2="106.92" y2="202.80" stroke="#666" stroke-width="0.9"/>
<line x1="113.56" y1="199.60" x2="113.56" y2="202.80" stroke="#666" stroke-width="0.9"/>
<line x1="120.20" y1="199.60" x2="120.20" y2="202.80" stroke="#666" stroke-width="0.9"/>
<line x1="126.84" y1="199.60" x2="126.84" y2="203.40" stroke="#666" stroke-width="0.9"/>
<line x1="133.49" y1="199.60" x2="133.49" y2="202.80" stroke="#666" stroke-width="0.9"/>
<line x1="140.13" y1="199.60" x2="140.13" y2="202.80" stroke="#666" stroke-width="0.9"/>
<line x1="146.77" y1="199.60" x2="146.77" y2="202.80" stroke="#666" stroke-width="0.9"/>
<line x1="153.42" y1="199.60" x2="153.42" y2="202.80" stroke="#666" stroke-width="0.9"/>
<line x1="160.06" y1="199.60" x2="160.06" y2="203.40" stroke="#666" stroke-width="0.9"/>
<line x1="166.70" y1="199.60" x2="166.70" y2="202.80" stroke="#666" stroke-width="0.9"/>
<line x1="173.35" y1="199.60" x2="173.35" y2="202.80" stroke="#666" stroke-width="0.9"/>
<line x1="179.99" y1="199.60" x2="179.99" y2="202.80" stroke="#666" stroke-width="0.9"/>
<line x1="186.63" y1="199.60" x2="186.63" y2="202.80" stroke="#666" stroke-width="0.9"/>
<line x1="193.27" y1="199.60" x2="193.27" y2="203.40" stroke="#666" stroke-width="0.9"/>
<line x1="199.92" y1="199.60" x2="199.92" y2="202.80" stroke="#666" stroke-width="0.9"/>
<line x1="206.56" y1="199.60" x2="206.56" y2="202.80" stroke="#666" stroke-width="0.9"/>
<line x1="213.20" y1="199.60" x2="213.20" y2="202.80" stroke="#666" stroke-width="0.9"/>
<line x1="219.85" y1="199.60" x2="219.85" y2="202.80" stroke="#666" stroke-width="0.9"/>
<line x1="226.49" y1="199.60" x2="226.49" y2="203.40" stroke="#666" stroke-width="0.9"/>
<line x1="233.13" y1="199.60" x2="233.13" y2="202.80" stroke="#666" stroke-width="0.9"/>
<line x1="239.78" y1="199.60" x2="239.78" y2="202.80" stroke="#666" stroke-width="0.9"/>
<line x1="246.42" y1="199.60" x2="246.42" y2="202.80" stroke="#666" stroke-width="0.9"/>
<line x1="253.06" y1="199.60" x2="253.06" y2="202.80" stroke="#666" stroke-width="0.9"/>
<line x1="259.70" y1="199.60" x2="259.70" y2="203.40" stroke="#666" stroke-width="0.9"/>
<text x="27.20" y="209.86" font-size="6.0" text-anchor="middle" fill="#111" stroke="#111" stroke-width="0.3">200</text>
<text x="60.42" y="209.86" font-size="6.0" text-anchor="middle" fill="#111" stroke="#111" stroke-width="0.3">250</text>
<text x="93.63" y="209.86" font-size="6.0" text-anchor="middle" fill="#111" stroke="#111" stroke-width="0.3">300</text>
<text x="126.84" y="209.86" font-size="6.0" text-anchor="middle" fill="#111" stroke="#111" stroke-width="0.3">350</text>
<text x="160.06" y="209.86" font-size="6.0" text-anchor="middle" fill="#111" stroke="#111" stroke-width="0.3">400</text>
<text x="193.27" y="209.86" font-size="6.0" text-anchor="middle" fill="#111" stroke="#111" stroke-width="0.3">450</text>
<text x="226.49" y="209.86" font-size="6.0" text-anchor="middle" fill="#111" stroke="#111" stroke-width="0.3">500</text>
<text x="259.70" y="209.86" font-size="6.0" text-anchor="middle" fill="#111" stroke="#111" stroke-width="0.3">550</text>
<text x="0" y="0" font-size="6.0" text-anchor="middle" fill="#222" stroke="#222" stroke-width="0.3" transform="translate(11.16,160.90) rotate(-90)">Relative Abundance</text>
<text x="143.20" y="217.46" font-size="5.6" text-anchor="middle" fill="#222" stroke="#222" stroke-width="0.3">m/z</text>
<line x1="75.50" y1="195.60" x2="75.50" y2="199.60" stroke="#525252" stroke-width="1.0"/>
<line x1="89.60" y1="196.60" x2="89.60" y2="199.60" stroke="#525252" stroke-width="1.0"/>
<line x1="107.30" y1="196.30" x2="107.30" y2="199.60" stroke="#525252" stroke-width="1.0"/>
<line x1="112.60" y1="196.50" x2="112.60" y2="199.60" stroke="#525252" stroke-width="1.0"/>
<line x1="113.90" y1="197.40" x2="113.90" y2="199.60" stroke="#525252" stroke-width="1.0"/>
<line x1="125.50" y1="196.60" x2="125.50" y2="199.60" stroke="#525252" stroke-width="1.0"/>
<line x1="136.80" y1="196.60" x2="136.80" y2="199.60" stroke="#525252" stroke-width="1.0"/>
<line x1="140.40" y1="196.60" x2="140.40" y2="199.60" stroke="#525252" stroke-width="1.0"/>
<line x1="143.70" y1="195.00" x2="143.70" y2="199.60" stroke="#525252" stroke-width="1.0"/>
<line x1="146.20" y1="194.10" x2="146.20" y2="199.60" stroke="#525252" stroke-width="1.0"/>
<line x1="165.30" y1="196.60" x2="165.30" y2="199.60" stroke="#525252" stroke-width="1.0"/>
<line x1="172.30" y1="196.00" x2="172.30" y2="199.60" stroke="#525252" stroke-width="1.0"/>
<line x1="175.90" y1="193.70" x2="175.90" y2="199.60" stroke="#525252" stroke-width="1.0"/>
<line x1="177.10" y1="194.90" x2="177.10" y2="199.60" stroke="#525252" stroke-width="1.0"/>
<line x1="184.60" y1="195.00" x2="184.60" y2="199.60" stroke="#525252" stroke-width="1.0"/>
<line x1="196.60" y1="122.50" x2="196.60" y2="199.60" stroke="#525252" stroke-width="1.0"/>
<line x1="198.60" y1="196.00" x2="198.60" y2="199.60" stroke="#525252" stroke-width="1.0"/>
<line x1="206.90" y1="189.80" x2="206.90" y2="199.60" stroke="#525252" stroke-width="1.0"/>
<line x1="215.20" y1="194.00" x2="215.20" y2="199.60" stroke="#525252" stroke-width="1.0"/>
<line x1="227.20" y1="196.10" x2="227.20" y2="199.60" stroke="#525252" stroke-width="1.0"/>
<text x="75.00" y="191.76" font-size="6" text-anchor="middle" font-weight="bold" fill="#000" stroke="#000" stroke-width="0.25">273.38</text>
<text x="101.80" y="193.76" font-size="6" text-anchor="middle" font-weight="bold" fill="#000" stroke="#000" stroke-width="0.25">321.41</text>
<text x="123.90" y="193.76" font-size="6" text-anchor="middle" font-weight="bold" fill="#000" stroke="#000" stroke-width="0.25">347.96</text>
<text x="145.80" y="191.66" font-size="6" text-anchor="middle" font-weight="bold" fill="#000" stroke="#000" stroke-width="0.25">379.09</text>
<text x="177.00" y="191.06" font-size="6" text-anchor="middle" font-weight="bold" fill="#000" stroke="#000" stroke-width="0.25">425.46</text>
<text x="196.60" y="119.86" font-size="6" text-anchor="middle" font-weight="bold" fill="#000" stroke="#000" stroke-width="0.25">455.20</text>
<text x="208.60" y="189.36" font-size="6" text-anchor="middle" font-weight="bold" fill="#000" stroke="#000" stroke-width="0.25">471.10</text>
<text x="229.90" y="194.06" font-size="6" text-anchor="middle" font-weight="bold" fill="#000" stroke="#000" stroke-width="0.25">501.50</text>
<line x1="41.40" y1="117.20" x2="41.40" y2="168.60" stroke="#666" stroke-width="1.0"/>
<line x1="41.40" y1="168.20" x2="184.60" y2="168.20" stroke="#444" stroke-width="1.0"/>
<line x1="38.40" y1="168.20" x2="41.40" y2="168.20" stroke="#666" stroke-width="0.9"/>
<line x1="39.60" y1="163.13" x2="41.40" y2="163.13" stroke="#666" stroke-width="0.9"/>
<line x1="39.60" y1="158.06" x2="41.40" y2="158.06" stroke="#666" stroke-width="0.9"/>
<line x1="39.60" y1="152.99" x2="41.40" y2="152.99" stroke="#666" stroke-width="0.9"/>
<line x1="39.60" y1="147.92" x2="41.40" y2="147.92" stroke="#666" stroke-width="0.9"/>
<line x1="38.40" y1="142.85" x2="41.40" y2="142.85" stroke="#666" stroke-width="0.9"/>
<line x1="39.60" y1="137.78" x2="41.40" y2="137.78" stroke="#666" stroke-width="0.9"/>
<line x1="39.60" y1="132.71" x2="41.40" y2="132.71" stroke="#666" stroke-width="0.9"/>
<line x1="39.60" y1="127.64" x2="41.40" y2="127.64" stroke="#666" stroke-width="0.9"/>
<line x1="39.60" y1="122.57" x2="41.40" y2="122.57" stroke="#666" stroke-width="0.9"/>
<line x1="38.40" y1="117.50" x2="41.40" y2="117.50" stroke="#666" stroke-width="0.9"/>
<text x="37.30" y="170.00" font-size="5.0" text-anchor="end" fill="#333" stroke="#333" stroke-width="0.3">0</text>
<text x="37.30" y="144.65" font-size="5.0" text-anchor="end" fill="#333" stroke="#333" stroke-width="0.3">50</text>
<text x="37.30" y="119.30" font-size="5.0" text-anchor="end" fill="#333" stroke="#333" stroke-width="0.3">100</text>
<line x1="41.60" y1="168.20" x2="41.60" y2="171.20" stroke="#666" stroke-width="0.9"/>
<line x1="48.75" y1="168.20" x2="48.75" y2="170.40" stroke="#666" stroke-width="0.9"/>
<line x1="55.89" y1="168.20" x2="55.89" y2="170.40" stroke="#666" stroke-width="0.9"/>
<line x1="63.04" y1="168.20" x2="63.04" y2="170.40" stroke="#666" stroke-width="0.9"/>
<line x1="70.18" y1="168.20" x2="70.18" y2="170.40" stroke="#666" stroke-width="0.9"/>
<line x1="77.33" y1="168.20" x2="77.33" y2="171.20" stroke="#666" stroke-width="0.9"/>
<line x1="84.47" y1="168.20" x2="84.47" y2="170.40" stroke="#666" stroke-width="0.9"/>
<line x1="91.62" y1="168.20" x2="91.62" y2="170.40" stroke="#666" stroke-width="0.9"/>
<line x1="98.76" y1="168.20" x2="98.76" y2="170.40" stroke="#666" stroke-width="0.9"/>
<line x1="105.91" y1="168.20" x2="105.91" y2="170.40" stroke="#666" stroke-width="0.9"/>
<line x1="113.05" y1="168.20" x2="113.05" y2="171.20" stroke="#666" stroke-width="0.9"/>
<line x1="120.19" y1="168.20" x2="120.19" y2="170.40" stroke="#666" stroke-width="0.9"/>
<line x1="127.34" y1="168.20" x2="127.34" y2="170.40" stroke="#666" stroke-width="0.9"/>
<line x1="134.49" y1="168.20" x2="134.49" y2="170.40" stroke="#666" stroke-width="0.9"/>
<line x1="141.63" y1="168.20" x2="141.63" y2="170.40" stroke="#666" stroke-width="0.9"/>
<line x1="148.78" y1="168.20" x2="148.78" y2="171.20" stroke="#666" stroke-width="0.9"/>
<line x1="155.92" y1="168.20" x2="155.92" y2="170.40" stroke="#666" stroke-width="0.9"/>
<line x1="163.06" y1="168.20" x2="163.06" y2="170.40" stroke="#666" stroke-width="0.9"/>
<line x1="170.21" y1="168.20" x2="170.21" y2="170.40" stroke="#666" stroke-width="0.9"/>
<line x1="177.35" y1="168.20" x2="177.35" y2="170.40" stroke="#666" stroke-width="0.9"/>
<line x1="184.50" y1="168.20" x2="184.50" y2="171.20" stroke="#666" stroke-width="0.9"/>
<text x="41.60" y="178.18" font-size="5.5" text-anchor="middle" fill="#333" stroke="#333" stroke-width="0.3">300</text>
<text x="77.33" y="178.18" font-size="5.5" text-anchor="middle" fill="#333" stroke="#333" stroke-width="0.3">350</text>
<text x="113.05" y="178.18" font-size="5.5" text-anchor="middle" fill="#333" stroke="#333" stroke-width="0.3">400</text>
<text x="148.78" y="178.18" font-size="5.5" text-anchor="middle" fill="#333" stroke="#333" stroke-width="0.3">450</text>
<text x="184.50" y="178.18" font-size="5.5" text-anchor="middle" fill="#333" stroke="#333" stroke-width="0.3">500</text>
<line x1="58.20" y1="166.30" x2="58.20" y2="168.20" stroke="#525252" stroke-width="1.0"/>
<line x1="76.90" y1="162.60" x2="76.90" y2="168.20" stroke="#525252" stroke-width="1.0"/>
<line x1="85.00" y1="166.90" x2="85.00" y2="168.20" stroke="#525252" stroke-width="1.0"/>
<line x1="89.60" y1="163.20" x2="89.60" y2="168.20" stroke="#525252" stroke-width="1.0"/>
<line x1="93.80" y1="166.90" x2="93.80" y2="168.20" stroke="#525252" stroke-width="1.0"/>
<line x1="98.40" y1="162.30" x2="98.40" y2="168.20" stroke="#525252" stroke-width="1.0"/>
<line x1="104.00" y1="164.00" x2="104.00" y2="168.20" stroke="#525252" stroke-width="1.0"/>
<line x1="105.50" y1="165.00" x2="105.50" y2="168.20" stroke="#525252" stroke-width="1.0"/>
<line x1="107.60" y1="164.50" x2="107.60" y2="168.20" stroke="#525252" stroke-width="1.0"/>
<line x1="116.80" y1="161.00" x2="116.80" y2="168.20" stroke="#525252" stroke-width="1.0"/>
<line x1="117.60" y1="158.00" x2="117.60" y2="168.20" stroke="#525252" stroke-width="1.0"/>
<line x1="118.50" y1="126.40" x2="118.50" y2="168.20" stroke="#525252" stroke-width="1.0"/>
<line x1="129.70" y1="143.90" x2="129.70" y2="168.20" stroke="#525252" stroke-width="1.0"/>
<line x1="130.50" y1="150.00" x2="130.50" y2="168.20" stroke="#525252" stroke-width="1.0"/>
<line x1="131.40" y1="136.50" x2="131.40" y2="168.20" stroke="#525252" stroke-width="1.0"/>
<line x1="140.10" y1="156.70" x2="140.10" y2="168.20" stroke="#525252" stroke-width="1.0"/>
<line x1="141.40" y1="160.40" x2="141.40" y2="168.20" stroke="#525252" stroke-width="1.0"/>
<line x1="152.70" y1="117.20" x2="152.70" y2="168.20" stroke="#525252" stroke-width="1.0"/>
<text x="53.40" y="164.06" font-size="6" text-anchor="middle" font-weight="bold" fill="#000" stroke="#000" stroke-width="0.25">323.40</text>
<text x="77.30" y="160.36" font-size="6" text-anchor="middle" font-weight="bold" fill="#000" stroke="#000" stroke-width="0.25">349.33</text>
<text x="100.50" y="160.36" font-size="6" text-anchor="middle" font-weight="bold" fill="#000" stroke="#000" stroke-width="0.25">379.13</text>
<text x="118.20" y="123.96" font-size="6" text-anchor="middle" font-weight="bold" fill="#000" stroke="#000" stroke-width="0.25">407.40</text>
<text x="131.60" y="134.16" font-size="6" text-anchor="middle" font-weight="bold" fill="#000" stroke="#000" stroke-width="0.25">425.33</text>
<text x="152.60" y="115.66" font-size="6" text-anchor="middle" font-weight="bold" fill="#000" stroke="#000" stroke-width="0.25">455.40</text>
<text x="53.8" y="126.1" font-size="9.8" font-weight="bold" font-family="Liberation Serif" fill="#000" stroke="#000" stroke-width="0.35" style="font-family:'Liberation Serif',serif">M<tspan font-size="6.8" dy="1.8">2</tspan></text>
<line x1="298.90" y1="123.80" x2="298.90" y2="202.00" stroke="#666" stroke-width="1.0"/>
<line x1="298.90" y1="201.60" x2="534.70" y2="201.60" stroke="#444" stroke-width="1.0"/>
<line x1="295.90" y1="201.60" x2="298.90" y2="201.60" stroke="#666" stroke-width="0.9"/>
<line x1="296.90" y1="197.72" x2="298.90" y2="197.72" stroke="#666" stroke-width="0.9"/>
<line x1="296.90" y1="193.85" x2="298.90" y2="193.85" stroke="#666" stroke-width="0.9"/>
<line x1="296.90" y1="189.97" x2="298.90" y2="189.97" stroke="#666" stroke-width="0.9"/>
<line x1="295.90" y1="186.10" x2="298.90" y2="186.10" stroke="#666" stroke-width="0.9"/>
<line x1="296.90" y1="182.22" x2="298.90" y2="182.22" stroke="#666" stroke-width="0.9"/>
<line x1="296.90" y1="178.35" x2="298.90" y2="178.35" stroke="#666" stroke-width="0.9"/>
<line x1="296.90" y1="174.47" x2="298.90" y2="174.47" stroke="#666" stroke-width="0.9"/>
<line x1="295.90" y1="170.60" x2="298.90" y2="170.60" stroke="#666" stroke-width="0.9"/>
<line x1="296.90" y1="166.72" x2="298.90" y2="166.72" stroke="#666" stroke-width="0.9"/>
<line x1="296.90" y1="162.85" x2="298.90" y2="162.85" stroke="#666" stroke-width="0.9"/>
<line x1="296.90" y1="158.97" x2="298.90" y2="158.97" stroke="#666" stroke-width="0.9"/>
<line x1="295.90" y1="155.10" x2="298.90" y2="155.10" stroke="#666" stroke-width="0.9"/>
<line x1="296.90" y1="151.22" x2="298.90" y2="151.22" stroke="#666" stroke-width="0.9"/>
<line x1="296.90" y1="147.35" x2="298.90" y2="147.35" stroke="#666" stroke-width="0.9"/>
<line x1="296.90" y1="143.47" x2="298.90" y2="143.47" stroke="#666" stroke-width="0.9"/>
<line x1="295.90" y1="139.60" x2="298.90" y2="139.60" stroke="#666" stroke-width="0.9"/>
<line x1="296.90" y1="135.72" x2="298.90" y2="135.72" stroke="#666" stroke-width="0.9"/>
<line x1="296.90" y1="131.85" x2="298.90" y2="131.85" stroke="#666" stroke-width="0.9"/>
<line x1="296.90" y1="127.97" x2="298.90" y2="127.97" stroke="#666" stroke-width="0.9"/>
<line x1="295.90" y1="124.10" x2="298.90" y2="124.10" stroke="#666" stroke-width="0.9"/>
<text x="295.40" y="203.76" font-size="6.0" text-anchor="end" fill="#111" stroke="#111" stroke-width="0.3">0</text>
<text x="295.40" y="188.26" font-size="6.0" text-anchor="end" fill="#111" stroke="#111" stroke-width="0.3">20</text>
<text x="295.40" y="172.76" font-size="6.0" text-anchor="end" fill="#111" stroke="#111" stroke-width="0.3">40</text>
<text x="295.40" y="157.26" font-size="6.0" text-anchor="end" fill="#111" stroke="#111" stroke-width="0.3">60</text>
<text x="295.40" y="141.76" font-size="6.0" text-anchor="end" fill="#111" stroke="#111" stroke-width="0.3">80</text>
<text x="295.40" y="126.26" font-size="6.0" text-anchor="end" fill="#111" stroke="#111" stroke-width="0.3">100</text>
<line x1="299.00" y1="201.60" x2="299.00" y2="205.40" stroke="#666" stroke-width="0.9"/>
<line x1="305.71" y1="201.60" x2="305.71" y2="204.80" stroke="#666" stroke-width="0.9"/>
<line x1="312.42" y1="201.60" x2="312.42" y2="204.80" stroke="#666" stroke-width="0.9"/>
<line x1="319.13" y1="201.60" x2="319.13" y2="204.80" stroke="#666" stroke-width="0.9"/>
<line x1="325.84" y1="201.60" x2="325.84" y2="204.80" stroke="#666" stroke-width="0.9"/>
<line x1="332.55" y1="201.60" x2="332.55" y2="205.40" stroke="#666" stroke-width="0.9"/>
<line x1="339.26" y1="201.60" x2="339.26" y2="204.80" stroke="#666" stroke-width="0.9"/>
<line x1="345.97" y1="201.60" x2="345.97" y2="204.80" stroke="#666" stroke-width="0.9"/>
<line x1="352.68" y1="201.60" x2="352.68" y2="204.80" stroke="#666" stroke-width="0.9"/>
<line x1="359.39" y1="201.60" x2="359.39" y2="204.80" stroke="#666" stroke-width="0.9"/>
<line x1="366.10" y1="201.60" x2="366.10" y2="205.40" stroke="#666" stroke-width="0.9"/>
<line x1="372.81" y1="201.60" x2="372.81" y2="204.80" stroke="#666" stroke-width="0.9"/>
<line x1="379.52" y1="201.60" x2="379.52" y2="204.80" stroke="#666" stroke-width="0.9"/>
<line x1="386.23" y1="201.60" x2="386.23" y2="204.80" stroke="#666" stroke-width="0.9"/>
<line x1="392.94" y1="201.60" x2="392.94" y2="204.80" stroke="#666" stroke-width="0.9"/>
<line x1="399.65" y1="201.60" x2="399.65" y2="205.40" stroke="#666" stroke-width="0.9"/>
<line x1="406.36" y1="201.60" x2="406.36" y2="204.80" stroke="#666" stroke-width="0.9"/>
<line x1="413.07" y1="201.60" x2="413.07" y2="204.80" stroke="#666" stroke-width="0.9"/>
<line x1="419.78" y1="201.60" x2="419.78" y2="204.80" stroke="#666" stroke-width="0.9"/>
<line x1="426.49" y1="201.60" x2="426.49" y2="204.80" stroke="#666" stroke-width="0.9"/>
<line x1="433.20" y1="201.60" x2="433.20" y2="205.40" stroke="#666" stroke-width="0.9"/>
<line x1="439.91" y1="201.60" x2="439.91" y2="204.80" stroke="#666" stroke-width="0.9"/>
<line x1="446.62" y1="201.60" x2="446.62" y2="204.80" stroke="#666" stroke-width="0.9"/>
<line x1="453.33" y1="201.60" x2="453.33" y2="204.80" stroke="#666" stroke-width="0.9"/>
<line x1="460.04" y1="201.60" x2="460.04" y2="204.80" stroke="#666" stroke-width="0.9"/>
<line x1="466.75" y1="201.60" x2="466.75" y2="205.40" stroke="#666" stroke-width="0.9"/>
<line x1="473.46" y1="201.60" x2="473.46" y2="204.80" stroke="#666" stroke-width="0.9"/>
<line x1="480.17" y1="201.60" x2="480.17" y2="204.80" stroke="#666" stroke-width="0.9"/>
<line x1="486.88" y1="201.60" x2="486.88" y2="204.80" stroke="#666" stroke-width="0.9"/>
<line x1="493.59" y1="201.60" x2="493.59" y2="204.80" stroke="#666" stroke-width="0.9"/>
<line x1="500.30" y1="201.60" x2="500.30" y2="205.40" stroke="#666" stroke-width="0.9"/>
<line x1="507.01" y1="201.60" x2="507.01" y2="204.80" stroke="#666" stroke-width="0.9"/>
<line x1="513.72" y1="201.60" x2="513.72" y2="204.80" stroke="#666" stroke-width="0.9"/>
<line x1="520.43" y1="201.60" x2="520.43" y2="204.80" stroke="#666" stroke-width="0.9"/>
<line x1="527.14" y1="201.60" x2="527.14" y2="204.80" stroke="#666" stroke-width="0.9"/>
<line x1="533.85" y1="201.60" x2="533.85" y2="205.40" stroke="#666" stroke-width="0.9"/>
<text x="299.00" y="211.56" font-size="6.0" text-anchor="middle" fill="#111" stroke="#111" stroke-width="0.3">200</text>
<text x="332.55" y="211.56" font-size="6.0" text-anchor="middle" fill="#111" stroke="#111" stroke-width="0.3">250</text>
<text x="366.10" y="211.56" font-size="6.0" text-anchor="middle" fill="#111" stroke="#111" stroke-width="0.3">300</text>
<text x="399.65" y="211.56" font-size="6.0" text-anchor="middle" fill="#111" stroke="#111" stroke-width="0.3">350</text>
<text x="433.20" y="211.56" font-size="6.0" text-anchor="middle" fill="#111" stroke="#111" stroke-width="0.3">400</text>
<text x="466.75" y="211.56" font-size="6.0" text-anchor="middle" fill="#111" stroke="#111" stroke-width="0.3">450</text>
<text x="500.30" y="211.56" font-size="6.0" text-anchor="middle" fill="#111" stroke="#111" stroke-width="0.3">500</text>
<text x="533.85" y="211.56" font-size="6.0" text-anchor="middle" fill="#111" stroke="#111" stroke-width="0.3">550</text>
<text x="0" y="0" font-size="6.0" text-anchor="middle" fill="#222" stroke="#222" stroke-width="0.3" transform="translate(283.66,162.90) rotate(-90)">Relative Abundance</text>
<text x="414.00" y="219.76" font-size="5.6" text-anchor="middle" fill="#222" stroke="#222" stroke-width="0.3">m/z</text>
<line x1="402.70" y1="189.70" x2="402.70" y2="201.60" stroke="#8a8a8a" stroke-width="1.0"/>
<line x1="426.20" y1="142.30" x2="426.20" y2="201.60" stroke="#8a8a8a" stroke-width="1.0"/>
<line x1="426.60" y1="165.50" x2="426.60" y2="201.60" stroke="#8a8a8a" stroke-width="1.0"/>
<line x1="437.30" y1="179.50" x2="437.30" y2="201.60" stroke="#8a8a8a" stroke-width="1.0"/>
<line x1="456.80" y1="171.10" x2="456.80" y2="201.60" stroke="#8a8a8a" stroke-width="1.0"/>
<line x1="399.50" y1="195.70" x2="399.50" y2="201.60" stroke="#525252" stroke-width="1.0"/>
<line x1="403.20" y1="193.00" x2="403.20" y2="201.60" stroke="#525252" stroke-width="1.0"/>
<line x1="407.30" y1="197.50" x2="407.30" y2="201.60" stroke="#525252" stroke-width="1.0"/>
<line x1="408.90" y1="195.20" x2="408.90" y2="201.60" stroke="#525252" stroke-width="1.0"/>
<line x1="410.00" y1="194.80" x2="410.00" y2="201.60" stroke="#525252" stroke-width="1.0"/>
<line x1="413.60" y1="193.40" x2="413.60" y2="201.60" stroke="#525252" stroke-width="1.0"/>
<line x1="414.20" y1="193.10" x2="414.20" y2="201.60" stroke="#525252" stroke-width="1.0"/>
<line x1="418.80" y1="199.00" x2="418.80" y2="201.60" stroke="#525252" stroke-width="1.0"/>
<line x1="419.70" y1="198.60" x2="419.70" y2="201.60" stroke="#525252" stroke-width="1.0"/>
<line x1="427.20" y1="199.20" x2="427.20" y2="201.60" stroke="#525252" stroke-width="1.0"/>
<line x1="436.80" y1="180.40" x2="436.80" y2="201.60" stroke="#525252" stroke-width="1.0"/>
<line x1="438.00" y1="185.00" x2="438.00" y2="201.60" stroke="#525252" stroke-width="1.0"/>
<line x1="446.00" y1="193.40" x2="446.00" y2="201.60" stroke="#525252" stroke-width="1.0"/>
<line x1="450.70" y1="199.00" x2="450.70" y2="201.60" stroke="#525252" stroke-width="1.0"/>
<line x1="457.30" y1="186.90" x2="457.30" y2="201.60" stroke="#525252" stroke-width="1.0"/>
<line x1="458.30" y1="187.30" x2="458.30" y2="201.60" stroke="#525252" stroke-width="1.0"/>
<line x1="467.60" y1="194.70" x2="467.60" y2="201.60" stroke="#525252" stroke-width="1.0"/>
<line x1="469.00" y1="195.00" x2="469.00" y2="201.60" stroke="#525252" stroke-width="1.0"/>
<line x1="470.50" y1="194.70" x2="470.50" y2="201.60" stroke="#525252" stroke-width="1.0"/>
<line x1="472.00" y1="194.70" x2="472.00" y2="201.60" stroke="#525252" stroke-width="1.0"/>
<line x1="480.80" y1="198.70" x2="480.80" y2="201.60" stroke="#525252" stroke-width="1.0"/>
<line x1="484.40" y1="196.10" x2="484.40" y2="201.60" stroke="#525252" stroke-width="1.0"/>
<line x1="489.60" y1="123.90" x2="489.60" y2="201.60" stroke="#525252" stroke-width="1.0"/>
<line x1="490.50" y1="197.90" x2="490.50" y2="201.60" stroke="#525252" stroke-width="1.0"/>
<line x1="500.20" y1="198.70" x2="500.20" y2="201.60" stroke="#525252" stroke-width="1.0"/>
<line x1="501.50" y1="190.80" x2="501.50" y2="201.60" stroke="#525252" stroke-width="1.0"/>
<text x="386.20" y="197.36" font-size="6" text-anchor="middle" font-weight="bold" fill="#000" stroke="#000" stroke-width="0.25">347.13</text>
<text x="403.00" y="187.46" font-size="6" text-anchor="middle" font-weight="bold" fill="#000" stroke="#000" stroke-width="0.25">354.87</text>
<text x="425.90" y="140.46" font-size="6" text-anchor="middle" font-weight="bold" fill="#000" stroke="#000" stroke-width="0.25">389.20</text>
<text x="438.00" y="177.96" font-size="6" text-anchor="middle" font-weight="bold" fill="#000" stroke="#000" stroke-width="0.25">405.27</text>
<text x="457.00" y="168.96" font-size="6" text-anchor="middle" font-weight="bold" fill="#000" stroke="#000" stroke-width="0.25">435.33</text>
<text x="468.50" y="184.66" font-size="6" text-anchor="middle" font-weight="bold" fill="#000" stroke="#000" stroke-width="0.25">437.20</text>
<text x="471.50" y="191.56" font-size="6" text-anchor="middle" font-weight="bold" fill="#000" stroke="#000" stroke-width="0.25">457.20</text>
<text x="489.40" y="122.46" font-size="6" text-anchor="middle" font-weight="bold" fill="#000" stroke="#000" stroke-width="0.25">483.33</text>
<text x="501.50" y="189.16" font-size="6" text-anchor="middle" font-weight="bold" fill="#000" stroke="#000" stroke-width="0.25">501.33</text>
<line x1="309.25" y1="120.20" x2="309.25" y2="159.40" stroke="#666" stroke-width="1.0"/>
<line x1="309.25" y1="159.00" x2="419.40" y2="159.00" stroke="#444" stroke-width="1.0"/>
<line x1="306.85" y1="159.00" x2="309.25" y2="159.00" stroke="#666" stroke-width="0.9"/>
<line x1="307.85" y1="155.15" x2="309.25" y2="155.15" stroke="#666" stroke-width="0.9"/>
<line x1="307.85" y1="151.30" x2="309.25" y2="151.30" stroke="#666" stroke-width="0.9"/>
<line x1="307.85" y1="147.45" x2="309.25" y2="147.45" stroke="#666" stroke-width="0.9"/>
<line x1="307.85" y1="143.60" x2="309.25" y2="143.60" stroke="#666" stroke-width="0.9"/>
<line x1="306.85" y1="139.75" x2="309.25" y2="139.75" stroke="#666" stroke-width="0.9"/>
<line x1="307.85" y1="135.90" x2="309.25" y2="135.90" stroke="#666" stroke-width="0.9"/>
<line x1="307.85" y1="132.05" x2="309.25" y2="132.05" stroke="#666" stroke-width="0.9"/>
<line x1="307.85" y1="128.20" x2="309.25" y2="128.20" stroke="#666" stroke-width="0.9"/>
<line x1="307.85" y1="124.35" x2="309.25" y2="124.35" stroke="#666" stroke-width="0.9"/>
<line x1="306.85" y1="120.50" x2="309.25" y2="120.50" stroke="#666" stroke-width="0.9"/>
<text x="305.75" y="160.37" font-size="3.8" text-anchor="end" fill="#333" stroke="#333" stroke-width="0.3">0</text>
<text x="305.75" y="141.12" font-size="3.8" text-anchor="end" fill="#333" stroke="#333" stroke-width="0.3">50</text>
<text x="305.75" y="121.87" font-size="3.8" text-anchor="end" fill="#333" stroke="#333" stroke-width="0.3">100</text>
<line x1="309.80" y1="159.00" x2="309.80" y2="161.00" stroke="#666" stroke-width="0.9"/>
<line x1="315.28" y1="159.00" x2="315.28" y2="160.20" stroke="#666" stroke-width="0.9"/>
<line x1="320.76" y1="159.00" x2="320.76" y2="160.20" stroke="#666" stroke-width="0.9"/>
<line x1="326.24" y1="159.00" x2="326.24" y2="160.20" stroke="#666" stroke-width="0.9"/>
<line x1="331.72" y1="159.00" x2="331.72" y2="160.20" stroke="#666" stroke-width="0.9"/>
<line x1="337.20" y1="159.00" x2="337.20" y2="161.00" stroke="#666" stroke-width="0.9"/>
<line x1="342.68" y1="159.00" x2="342.68" y2="160.20" stroke="#666" stroke-width="0.9"/>
<line x1="348.16" y1="159.00" x2="348.16" y2="160.20" stroke="#666" stroke-width="0.9"/>
<line x1="353.64" y1="159.00" x2="353.64" y2="160.20" stroke="#666" stroke-width="0.9"/>
<line x1="359.12" y1="159.00" x2="359.12" y2="160.20" stroke="#666" stroke-width="0.9"/>
<line x1="364.60" y1="159.00" x2="364.60" y2="161.00" stroke="#666" stroke-width="0.9"/>
<line x1="370.08" y1="159.00" x2="370.08" y2="160.20" stroke="#666" stroke-width="0.9"/>
<line x1="375.56" y1="159.00" x2="375.56" y2="160.20" stroke="#666" stroke-width="0.9"/>
<line x1="381.04" y1="159.00" x2="381.04" y2="160.20" stroke="#666" stroke-width="0.9"/>
<line x1="386.52" y1="159.00" x2="386.52" y2="160.20" stroke="#666" stroke-width="0.9"/>
<line x1="392.00" y1="159.00" x2="392.00" y2="161.00" stroke="#666" stroke-width="0.9"/>
<line x1="397.48" y1="159.00" x2="397.48" y2="160.20" stroke="#666" stroke-width="0.9"/>
<line x1="402.96" y1="159.00" x2="402.96" y2="160.20" stroke="#666" stroke-width="0.9"/>
<line x1="408.44" y1="159.00" x2="408.44" y2="160.20" stroke="#666" stroke-width="0.9"/>
<line x1="413.92" y1="159.00" x2="413.92" y2="160.20" stroke="#666" stroke-width="0.9"/>
<line x1="419.40" y1="159.00" x2="419.40" y2="161.00" stroke="#666" stroke-width="0.9"/>
<text x="309.80" y="166.82" font-size="4.5" text-anchor="middle" fill="#333" stroke="#333" stroke-width="0.3">300</text>
<text x="337.20" y="166.82" font-size="4.5" text-anchor="middle" fill="#333" stroke="#333" stroke-width="0.3">350</text>
<text x="364.60" y="166.82" font-size="4.5" text-anchor="middle" fill="#333" stroke="#333" stroke-width="0.3">400</text>
<text x="392.00" y="166.82" font-size="4.5" text-anchor="middle" fill="#333" stroke="#333" stroke-width="0.3">450</text>
<text x="419.40" y="166.82" font-size="4.5" text-anchor="middle" fill="#333" stroke="#333" stroke-width="0.3">500</text>
<line x1="344.60" y1="120.30" x2="344.60" y2="159.00" stroke="#8a8a8a" stroke-width="1.0"/>
<line x1="346.60" y1="133.20" x2="346.60" y2="159.00" stroke="#8a8a8a" stroke-width="1.0"/>
<line x1="374.20" y1="137.30" x2="374.20" y2="159.00" stroke="#8a8a8a" stroke-width="1.0"/>
<line x1="384.30" y1="126.60" x2="384.30" y2="159.00" stroke="#8a8a8a" stroke-width="1.0"/>
<line x1="394.20" y1="134.80" x2="394.20" y2="159.00" stroke="#8a8a8a" stroke-width="1.0"/>
<line x1="410.60" y1="148.40" x2="410.60" y2="159.00" stroke="#8a8a8a" stroke-width="1.0"/>
<line x1="345.00" y1="133.20" x2="345.00" y2="159.00" stroke="#525252" stroke-width="1.0"/>
<line x1="347.00" y1="146.40" x2="347.00" y2="159.00" stroke="#525252" stroke-width="1.0"/>
<line x1="357.60" y1="144.80" x2="357.60" y2="159.00" stroke="#525252" stroke-width="1.0"/>
<line x1="358.10" y1="147.70" x2="358.10" y2="159.00" stroke="#525252" stroke-width="1.0"/>
<line x1="366.80" y1="148.10" x2="366.80" y2="159.00" stroke="#525252" stroke-width="1.0"/>
<line x1="368.40" y1="152.20" x2="368.40" y2="159.00" stroke="#525252" stroke-width="1.0"/>
<line x1="374.60" y1="145.60" x2="374.60" y2="159.00" stroke="#525252" stroke-width="1.0"/>
<line x1="383.60" y1="135.00" x2="383.60" y2="159.00" stroke="#525252" stroke-width="1.0"/>
<line x1="385.00" y1="139.80" x2="385.00" y2="159.00" stroke="#525252" stroke-width="1.0"/>
<line x1="394.60" y1="143.90" x2="394.60" y2="159.00" stroke="#525252" stroke-width="1.0"/>
<line x1="411.00" y1="153.00" x2="411.00" y2="159.00" stroke="#525252" stroke-width="1.0"/>
<text x="344.90" y="118.26" font-size="4.6" text-anchor="middle" font-weight="bold" fill="#000" stroke="#000" stroke-width="0.25">363.51</text>
<text x="353.40" y="131.56" font-size="4.6" text-anchor="middle" font-weight="bold" fill="#000" stroke="#000" stroke-width="0.25">367.57</text>
<text x="357.40" y="142.76" font-size="4.6" text-anchor="middle" font-weight="bold" fill="#000" stroke="#000" stroke-width="0.25">387.00</text>
<text x="374.10" y="136.16" font-size="4.6" text-anchor="middle" font-weight="bold" fill="#000" stroke="#000" stroke-width="0.25">417.20</text>
<text x="384.30" y="125.26" font-size="4.6" text-anchor="middle" font-weight="bold" fill="#000" stroke="#000" stroke-width="0.25">435.36</text>
<text x="393.40" y="132.86" font-size="4.6" text-anchor="middle" font-weight="bold" fill="#000" stroke="#000" stroke-width="0.25">437.23</text>
<text x="409.90" y="145.56" font-size="4.6" text-anchor="middle" font-weight="bold" fill="#000" stroke="#000" stroke-width="0.25">482.46</text>
<text x="321.4" y="128" font-size="9.8" font-weight="bold" font-family="Liberation Serif" fill="#000" stroke="#000" stroke-width="0.35" style="font-family:'Liberation Serif',serif">M<tspan font-size="6.8" dy="1.8">3</tspan></text>
<line x1="25.00" y1="227.90" x2="25.00" y2="306.90" stroke="#666" stroke-width="1.0"/>
<line x1="25.00" y1="306.50" x2="258.50" y2="306.50" stroke="#444" stroke-width="1.0"/>
<line x1="22.00" y1="306.50" x2="25.00" y2="306.50" stroke="#666" stroke-width="0.9"/>
<line x1="23.00" y1="302.58" x2="25.00" y2="302.58" stroke="#666" stroke-width="0.9"/>
<line x1="23.00" y1="298.67" x2="25.00" y2="298.67" stroke="#666" stroke-width="0.9"/>
<line x1="23.00" y1="294.75" x2="25.00" y2="294.75" stroke="#666" stroke-width="0.9"/>
<line x1="22.00" y1="290.84" x2="25.00" y2="290.84" stroke="#666" stroke-width="0.9"/>
<line x1="23.00" y1="286.93" x2="25.00" y2="286.93" stroke="#666" stroke-width="0.9"/>
<line x1="23.00" y1="283.01" x2="25.00" y2="283.01" stroke="#666" stroke-width="0.9"/>
<line x1="23.00" y1="279.09" x2="25.00" y2="279.09" stroke="#666" stroke-width="0.9"/>
<line x1="22.00" y1="275.18" x2="25.00" y2="275.18" stroke="#666" stroke-width="0.9"/>
<line x1="23.00" y1="271.26" x2="25.00" y2="271.26" stroke="#666" stroke-width="0.9"/>
<line x1="23.00" y1="267.35" x2="25.00" y2="267.35" stroke="#666" stroke-width="0.9"/>
<line x1="23.00" y1="263.44" x2="25.00" y2="263.44" stroke="#666" stroke-width="0.9"/>
<line x1="22.00" y1="259.52" x2="25.00" y2="259.52" stroke="#666" stroke-width="0.9"/>
<line x1="23.00" y1="255.60" x2="25.00" y2="255.60" stroke="#666" stroke-width="0.9"/>
<line x1="23.00" y1="251.69" x2="25.00" y2="251.69" stroke="#666" stroke-width="0.9"/>
<line x1="23.00" y1="247.77" x2="25.00" y2="247.77" stroke="#666" stroke-width="0.9"/>
<line x1="22.00" y1="243.86" x2="25.00" y2="243.86" stroke="#666" stroke-width="0.9"/>
<line x1="23.00" y1="239.94" x2="25.00" y2="239.94" stroke="#666" stroke-width="0.9"/>
<line x1="23.00" y1="236.03" x2="25.00" y2="236.03" stroke="#666" stroke-width="0.9"/>
<line x1="23.00" y1="232.12" x2="25.00" y2="232.12" stroke="#666" stroke-width="0.9"/>
<line x1="22.00" y1="228.20" x2="25.00" y2="228.20" stroke="#666" stroke-width="0.9"/>
<text x="21.50" y="308.66" font-size="6.0" text-anchor="end" fill="#111" stroke="#111" stroke-width="0.3">0</text>
<text x="21.50" y="293.00" font-size="6.0" text-anchor="end" fill="#111" stroke="#111" stroke-width="0.3">20</text>
<text x="21.50" y="277.34" font-size="6.0" text-anchor="end" fill="#111" stroke="#111" stroke-width="0.3">40</text>
<text x="21.50" y="261.68" font-size="6.0" text-anchor="end" fill="#111" stroke="#111" stroke-width="0.3">60</text>
<text x="21.50" y="246.02" font-size="6.0" text-anchor="end" fill="#111" stroke="#111" stroke-width="0.3">80</text>
<text x="21.50" y="230.36" font-size="6.0" text-anchor="end" fill="#111" stroke="#111" stroke-width="0.3">100</text>
<line x1="25.20" y1="306.50" x2="25.20" y2="310.30" stroke="#666" stroke-width="0.9"/>
<line x1="31.87" y1="306.50" x2="31.87" y2="309.70" stroke="#666" stroke-width="0.9"/>
<line x1="38.54" y1="306.50" x2="38.54" y2="309.70" stroke="#666" stroke-width="0.9"/>
<line x1="45.21" y1="306.50" x2="45.21" y2="309.70" stroke="#666" stroke-width="0.9"/>
<line x1="51.88" y1="306.50" x2="51.88" y2="309.70" stroke="#666" stroke-width="0.9"/>
<line x1="58.56" y1="306.50" x2="58.56" y2="310.30" stroke="#666" stroke-width="0.9"/>
<line x1="65.23" y1="306.50" x2="65.23" y2="309.70" stroke="#666" stroke-width="0.9"/>
<line x1="71.90" y1="306.50" x2="71.90" y2="309.70" stroke="#666" stroke-width="0.9"/>
<line x1="78.57" y1="306.50" x2="78.57" y2="309.70" stroke="#666" stroke-width="0.9"/>
<line x1="85.24" y1="306.50" x2="85.24" y2="309.70" stroke="#666" stroke-width="0.9"/>
<line x1="91.91" y1="306.50" x2="91.91" y2="310.30" stroke="#666" stroke-width="0.9"/>
<line x1="98.58" y1="306.50" x2="98.58" y2="309.70" stroke="#666" stroke-width="0.9"/>
<line x1="105.25" y1="306.50" x2="105.25" y2="309.70" stroke="#666" stroke-width="0.9"/>
<line x1="111.92" y1="306.50" x2="111.92" y2="309.70" stroke="#666" stroke-width="0.9"/>
<line x1="118.59" y1="306.50" x2="118.59" y2="309.70" stroke="#666" stroke-width="0.9"/>
<line x1="125.27" y1="306.50" x2="125.27" y2="310.30" stroke="#666" stroke-width="0.9"/>
<line x1="131.94" y1="306.50" x2="131.94" y2="309.70" stroke="#666" stroke-width="0.9"/>
<line x1="138.61" y1="306.50" x2="138.61" y2="309.70" stroke="#666" stroke-width="0.9"/>
<line x1="145.28" y1="306.50" x2="145.28" y2="309.70" stroke="#666" stroke-width="0.9"/>
<line x1="151.95" y1="306.50" x2="151.95" y2="309.70" stroke="#666" stroke-width="0.9"/>
<line x1="158.62" y1="306.50" x2="158.62" y2="310.30" stroke="#666" stroke-width="0.9"/>
<line x1="165.29" y1="306.50" x2="165.29" y2="309.70" stroke="#666" stroke-width="0.9"/>
<line x1="171.96" y1="306.50" x2="171.96" y2="309.70" stroke="#666" stroke-width="0.9"/>
<line x1="178.63" y1="306.50" x2="178.63" y2="309.70" stroke="#666" stroke-width="0.9"/>
<line x1="185.30" y1="306.50" x2="185.30" y2="309.70" stroke="#666" stroke-width="0.9"/>
<line x1="191.97" y1="306.50" x2="191.97" y2="310.30" stroke="#666" stroke-width="0.9"/>
<line x1="198.65" y1="306.50" x2="198.65" y2="309.70" stroke="#666" stroke-width="0.9"/>
<line x1="205.32" y1="306.50" x2="205.32" y2="309.70" stroke="#666" stroke-width="0.9"/>
<line x1="211.99" y1="306.50" x2="211.99" y2="309.70" stroke="#666" stroke-width="0.9"/>
<line x1="218.66" y1="306.50" x2="218.66" y2="309.70" stroke="#666" stroke-width="0.9"/>
<line x1="225.33" y1="306.50" x2="225.33" y2="310.30" stroke="#666" stroke-width="0.9"/>
<line x1="232.00" y1="306.50" x2="232.00" y2="309.70" stroke="#666" stroke-width="0.9"/>
<line x1="238.67" y1="306.50" x2="238.67" y2="309.70" stroke="#666" stroke-width="0.9"/>
<line x1="245.34" y1="306.50" x2="245.34" y2="309.70" stroke="#666" stroke-width="0.9"/>
<line x1="252.01" y1="306.50" x2="252.01" y2="309.70" stroke="#666" stroke-width="0.9"/>
<line x1="258.69" y1="306.50" x2="258.69" y2="310.30" stroke="#666" stroke-width="0.9"/>
<text x="25.20" y="316.66" font-size="6.0" text-anchor="middle" fill="#111" stroke="#111" stroke-width="0.3">200</text>
<text x="58.56" y="316.66" font-size="6.0" text-anchor="middle" fill="#111" stroke="#111" stroke-width="0.3">250</text>
<text x="91.91" y="316.66" font-size="6.0" text-anchor="middle" fill="#111" stroke="#111" stroke-width="0.3">300</text>
<text x="125.27" y="316.66" font-size="6.0" text-anchor="middle" fill="#111" stroke="#111" stroke-width="0.3">350</text>
<text x="158.62" y="316.66" font-size="6.0" text-anchor="middle" fill="#111" stroke="#111" stroke-width="0.3">400</text>
<text x="191.97" y="316.66" font-size="6.0" text-anchor="middle" fill="#111" stroke="#111" stroke-width="0.3">450</text>
<text x="225.33" y="316.66" font-size="6.0" text-anchor="middle" fill="#111" stroke="#111" stroke-width="0.3">500</text>
<text x="258.69" y="316.66" font-size="6.0" text-anchor="middle" fill="#111" stroke="#111" stroke-width="0.3">550</text>
<text x="0" y="0" font-size="6.0" text-anchor="middle" fill="#222" stroke="#222" stroke-width="0.3" transform="translate(9.86,267.40) rotate(-90)">Relative Abundance</text>
<text x="142.30" y="324.46" font-size="5.6" text-anchor="middle" fill="#222" stroke="#222" stroke-width="0.3">m/z</text>
<line x1="133.10" y1="252.30" x2="133.10" y2="306.50" stroke="#8a8a8a" stroke-width="1.0"/>
<line x1="151.40" y1="229.40" x2="151.40" y2="306.50" stroke="#8a8a8a" stroke-width="1.0"/>
<line x1="151.80" y1="247.40" x2="151.80" y2="306.50" stroke="#8a8a8a" stroke-width="1.0"/>
<line x1="200.50" y1="273.00" x2="200.50" y2="306.50" stroke="#8a8a8a" stroke-width="1.0"/>
<line x1="214.10" y1="230.20" x2="214.10" y2="306.50" stroke="#8a8a8a" stroke-width="1.0"/>
<line x1="225.40" y1="268.40" x2="225.40" y2="306.50" stroke="#8a8a8a" stroke-width="1.0"/>
<line x1="129.30" y1="275.20" x2="129.30" y2="306.50" stroke="#525252" stroke-width="1.0"/>
<line x1="130.10" y1="276.00" x2="130.10" y2="306.50" stroke="#525252" stroke-width="1.0"/>
<line x1="131.50" y1="290.70" x2="131.50" y2="306.50" stroke="#525252" stroke-width="1.0"/>
<line x1="132.60" y1="290.70" x2="132.60" y2="306.50" stroke="#525252" stroke-width="1.0"/>
<line x1="141.30" y1="294.00" x2="141.30" y2="306.50" stroke="#525252" stroke-width="1.0"/>
<line x1="142.40" y1="269.50" x2="142.40" y2="306.50" stroke="#525252" stroke-width="1.0"/>
<line x1="152.20" y1="289.10" x2="152.20" y2="306.50" stroke="#525252" stroke-width="1.0"/>
<line x1="161.70" y1="295.60" x2="161.70" y2="306.50" stroke="#525252" stroke-width="1.0"/>
<line x1="163.40" y1="292.40" x2="163.40" y2="306.50" stroke="#525252" stroke-width="1.0"/>
<line x1="171.10" y1="289.10" x2="171.10" y2="306.50" stroke="#525252" stroke-width="1.0"/>
<line x1="180.20" y1="270.30" x2="180.20" y2="306.50" stroke="#525252" stroke-width="1.0"/>
<line x1="181.40" y1="287.50" x2="181.40" y2="306.50" stroke="#525252" stroke-width="1.0"/>
<line x1="182.20" y1="289.00" x2="182.20" y2="306.50" stroke="#525252" stroke-width="1.0"/>
<line x1="183.50" y1="276.80" x2="183.50" y2="306.50" stroke="#525252" stroke-width="1.0"/>
<line x1="184.60" y1="284.20" x2="184.60" y2="306.50" stroke="#525252" stroke-width="1.0"/>
<line x1="185.50" y1="294.00" x2="185.50" y2="306.50" stroke="#525252" stroke-width="1.0"/>
<line x1="196.50" y1="292.10" x2="196.50" y2="306.50" stroke="#525252" stroke-width="1.0"/>
<line x1="199.40" y1="287.50" x2="199.40" y2="306.50" stroke="#525252" stroke-width="1.0"/>
<line x1="200.90" y1="289.30" x2="200.90" y2="306.50" stroke="#525252" stroke-width="1.0"/>
<line x1="205.60" y1="295.70" x2="205.60" y2="306.50" stroke="#525252" stroke-width="1.0"/>
<line x1="212.30" y1="281.20" x2="212.30" y2="306.50" stroke="#525252" stroke-width="1.0"/>
<line x1="213.20" y1="287.50" x2="213.20" y2="306.50" stroke="#525252" stroke-width="1.0"/>
<line x1="214.50" y1="260.20" x2="214.50" y2="306.50" stroke="#525252" stroke-width="1.0"/>
<line x1="224.70" y1="290.30" x2="224.70" y2="306.50" stroke="#525252" stroke-width="1.0"/>
<text x="120.60" y="273.46" font-size="6" text-anchor="middle" font-weight="bold" fill="#000" stroke="#000" stroke-width="0.25">357.20</text>
<text x="133.10" y="249.86" font-size="6" text-anchor="middle" font-weight="bold" fill="#000" stroke="#000" stroke-width="0.25">362.19</text>
<text x="151.50" y="227.06" font-size="6" text-anchor="middle" font-weight="bold" fill="#000" stroke="#000" stroke-width="0.25">389.27</text>
<text x="163.70" y="286.36" font-size="6" text-anchor="middle" font-weight="bold" fill="#000" stroke="#000" stroke-width="0.25">391.00</text>
<text x="180.40" y="268.06" font-size="6" text-anchor="middle" font-weight="bold" fill="#000" stroke="#000" stroke-width="0.25">432.65</text>
<text x="201.60" y="272.06" font-size="6" text-anchor="middle" font-weight="bold" fill="#000" stroke="#000" stroke-width="0.25">462.92</text>
<text x="214.10" y="228.16" font-size="6" text-anchor="middle" font-weight="bold" fill="#000" stroke="#000" stroke-width="0.25">483.27</text>
<text x="225.20" y="266.56" font-size="6" text-anchor="middle" font-weight="bold" fill="#000" stroke="#000" stroke-width="0.25">500.57</text>
<line x1="32.30" y1="225.80" x2="32.30" y2="259.70" stroke="#666" stroke-width="1.0"/>
<line x1="32.30" y1="259.30" x2="127.90" y2="259.30" stroke="#444" stroke-width="1.0"/>
<line x1="30.30" y1="259.30" x2="32.30" y2="259.30" stroke="#666" stroke-width="0.9"/>
<line x1="31.00" y1="255.98" x2="32.30" y2="255.98" stroke="#666" stroke-width="0.9"/>
<line x1="31.00" y1="252.66" x2="32.30" y2="252.66" stroke="#666" stroke-width="0.9"/>
<line x1="31.00" y1="249.34" x2="32.30" y2="249.34" stroke="#666" stroke-width="0.9"/>
<line x1="31.00" y1="246.02" x2="32.30" y2="246.02" stroke="#666" stroke-width="0.9"/>
<line x1="30.30" y1="242.70" x2="32.30" y2="242.70" stroke="#666" stroke-width="0.9"/>
<line x1="31.00" y1="239.38" x2="32.30" y2="239.38" stroke="#666" stroke-width="0.9"/>
<line x1="31.00" y1="236.06" x2="32.30" y2="236.06" stroke="#666" stroke-width="0.9"/>
<line x1="31.00" y1="232.74" x2="32.30" y2="232.74" stroke="#666" stroke-width="0.9"/>
<line x1="31.00" y1="229.42" x2="32.30" y2="229.42" stroke="#666" stroke-width="0.9"/>
<line x1="30.30" y1="226.10" x2="32.30" y2="226.10" stroke="#666" stroke-width="0.9"/>
<text x="29.80" y="260.45" font-size="3.2" text-anchor="end" fill="#333" stroke="#333" stroke-width="0.3">0</text>
<text x="29.80" y="243.85" font-size="3.2" text-anchor="end" fill="#333" stroke="#333" stroke-width="0.3">50</text>
<text x="29.80" y="227.25" font-size="3.2" text-anchor="end" fill="#333" stroke="#333" stroke-width="0.3">100</text>
<line x1="32.80" y1="259.30" x2="32.80" y2="261.50" stroke="#666" stroke-width="0.9"/>
<line x1="36.60" y1="259.30" x2="36.60" y2="260.80" stroke="#666" stroke-width="0.9"/>
<line x1="40.41" y1="259.30" x2="40.41" y2="260.80" stroke="#666" stroke-width="0.9"/>
<line x1="44.21" y1="259.30" x2="44.21" y2="260.80" stroke="#666" stroke-width="0.9"/>
<line x1="48.02" y1="259.30" x2="48.02" y2="260.80" stroke="#666" stroke-width="0.9"/>
<line x1="51.82" y1="259.30" x2="51.82" y2="261.50" stroke="#666" stroke-width="0.9"/>
<line x1="55.63" y1="259.30" x2="55.63" y2="260.80" stroke="#666" stroke-width="0.9"/>
<line x1="59.44" y1="259.30" x2="59.44" y2="260.80" stroke="#666" stroke-width="0.9"/>
<line x1="63.24" y1="259.30" x2="63.24" y2="260.80" stroke="#666" stroke-width="0.9"/>
<line x1="67.04" y1="259.30" x2="67.04" y2="260.80" stroke="#666" stroke-width="0.9"/>
<line x1="70.85" y1="259.30" x2="70.85" y2="261.50" stroke="#666" stroke-width="0.9"/>
<line x1="74.66" y1="259.30" x2="74.66" y2="260.80" stroke="#666" stroke-width="0.9"/>
<line x1="78.46" y1="259.30" x2="78.46" y2="260.80" stroke="#666" stroke-width="0.9"/>
<line x1="82.27" y1="259.30" x2="82.27" y2="260.80" stroke="#666" stroke-width="0.9"/>
<line x1="86.07" y1="259.30" x2="86.07" y2="260.80" stroke="#666" stroke-width="0.9"/>
<line x1="89.88" y1="259.30" x2="89.88" y2="261.50" stroke="#666" stroke-width="0.9"/>
<line x1="93.68" y1="259.30" x2="93.68" y2="260.80" stroke="#666" stroke-width="0.9"/>
<line x1="97.48" y1="259.30" x2="97.48" y2="260.80" stroke="#666" stroke-width="0.9"/>
<line x1="101.29" y1="259.30" x2="101.29" y2="260.80" stroke="#666" stroke-width="0.9"/>
<line x1="105.09" y1="259.30" x2="105.09" y2="260.80" stroke="#666" stroke-width="0.9"/>
<line x1="108.90" y1="259.30" x2="108.90" y2="261.50" stroke="#666" stroke-width="0.9"/>
<line x1="112.70" y1="259.30" x2="112.70" y2="260.80" stroke="#666" stroke-width="0.9"/>
<line x1="116.51" y1="259.30" x2="116.51" y2="260.80" stroke="#666" stroke-width="0.9"/>
<line x1="120.31" y1="259.30" x2="120.31" y2="260.80" stroke="#666" stroke-width="0.9"/>
<line x1="124.12" y1="259.30" x2="124.12" y2="260.80" stroke="#666" stroke-width="0.9"/>
<line x1="127.92" y1="259.30" x2="127.92" y2="261.50" stroke="#666" stroke-width="0.9"/>
<text x="32.80" y="267.14" font-size="4.0" text-anchor="middle" fill="#333" stroke="#333" stroke-width="0.3">250</text>
<text x="51.82" y="267.14" font-size="4.0" text-anchor="middle" fill="#333" stroke="#333" stroke-width="0.3">300</text>
<text x="70.85" y="267.14" font-size="4.0" text-anchor="middle" fill="#333" stroke="#333" stroke-width="0.3">350</text>
<text x="89.88" y="267.14" font-size="4.0" text-anchor="middle" fill="#333" stroke="#333" stroke-width="0.3">400</text>
<text x="108.90" y="267.14" font-size="4.0" text-anchor="middle" fill="#333" stroke="#333" stroke-width="0.3">450</text>
<text x="127.92" y="267.14" font-size="4.0" text-anchor="middle" fill="#333" stroke="#333" stroke-width="0.3">500</text>
<line x1="84.60" y1="226.00" x2="84.60" y2="259.30" stroke="#666" stroke-width="1.0"/>
<line x1="85.30" y1="232.00" x2="85.30" y2="259.30" stroke="#333" stroke-width="1.5"/>
<text x="84.70" y="224.50" font-size="3.9" text-anchor="middle" font-weight="bold" fill="#000" stroke="#000" stroke-width="0.25">387.16</text>
<text x="93.10" y="235.40" font-size="3.9" text-anchor="middle" font-weight="bold" fill="#000" stroke="#000" stroke-width="0.25">389.42</text>
<text x="48.9" y="234.2" font-size="9.8" font-weight="bold" font-family="Liberation Serif" fill="#000" stroke="#000" stroke-width="0.35" style="font-family:'Liberation Serif',serif">M<tspan font-size="6.8" dy="1.8">4</tspan></text>
<line x1="301.00" y1="226.80" x2="301.00" y2="305.00" stroke="#666" stroke-width="1.0"/>
<line x1="301.00" y1="304.60" x2="534.00" y2="304.60" stroke="#444" stroke-width="1.0"/>
<line x1="298.00" y1="304.60" x2="301.00" y2="304.60" stroke="#666" stroke-width="0.9"/>
<line x1="299.00" y1="300.73" x2="301.00" y2="300.73" stroke="#666" stroke-width="0.9"/>
<line x1="299.00" y1="296.85" x2="301.00" y2="296.85" stroke="#666" stroke-width="0.9"/>
<line x1="299.00" y1="292.98" x2="301.00" y2="292.98" stroke="#666" stroke-width="0.9"/>
<line x1="298.00" y1="289.10" x2="301.00" y2="289.10" stroke="#666" stroke-width="0.9"/>
<line x1="299.00" y1="285.23" x2="301.00" y2="285.23" stroke="#666" stroke-width="0.9"/>
<line x1="299.00" y1="281.35" x2="301.00" y2="281.35" stroke="#666" stroke-width="0.9"/>
<line x1="299.00" y1="277.48" x2="301.00" y2="277.48" stroke="#666" stroke-width="0.9"/>
<line x1="298.00" y1="273.60" x2="301.00" y2="273.60" stroke="#666" stroke-width="0.9"/>
<line x1="299.00" y1="269.73" x2="301.00" y2="269.73" stroke="#666" stroke-width="0.9"/>
<line x1="299.00" y1="265.85" x2="301.00" y2="265.85" stroke="#666" stroke-width="0.9"/>
<line x1="299.00" y1="261.98" x2="301.00" y2="261.98" stroke="#666" stroke-width="0.9"/>
<line x1="298.00" y1="258.10" x2="301.00" y2="258.10" stroke="#666" stroke-width="0.9"/>
<line x1="299.00" y1="254.22" x2="301.00" y2="254.22" stroke="#666" stroke-width="0.9"/>
<line x1="299.00" y1="250.35" x2="301.00" y2="250.35" stroke="#666" stroke-width="0.9"/>
<line x1="299.00" y1="246.47" x2="301.00" y2="246.47" stroke="#666" stroke-width="0.9"/>
<line x1="298.00" y1="242.60" x2="301.00" y2="242.60" stroke="#666" stroke-width="0.9"/>
<line x1="299.00" y1="238.72" x2="301.00" y2="238.72" stroke="#666" stroke-width="0.9"/>
<line x1="299.00" y1="234.85" x2="301.00" y2="234.85" stroke="#666" stroke-width="0.9"/>
<line x1="299.00" y1="230.97" x2="301.00" y2="230.97" stroke="#666" stroke-width="0.9"/>
<line x1="298.00" y1="227.10" x2="301.00" y2="227.10" stroke="#666" stroke-width="0.9"/>
<text x="297.50" y="306.76" font-size="6.0" text-anchor="end" fill="#111" stroke="#111" stroke-width="0.3">0</text>
<text x="297.50" y="291.26" font-size="6.0" text-anchor="end" fill="#111" stroke="#111" stroke-width="0.3">20</text>
<text x="297.50" y="275.76" font-size="6.0" text-anchor="end" fill="#111" stroke="#111" stroke-width="0.3">40</text>
<text x="297.50" y="260.26" font-size="6.0" text-anchor="end" fill="#111" stroke="#111" stroke-width="0.3">60</text>
<text x="297.50" y="244.76" font-size="6.0" text-anchor="end" fill="#111" stroke="#111" stroke-width="0.3">80</text>
<text x="297.50" y="229.26" font-size="6.0" text-anchor="end" fill="#111" stroke="#111" stroke-width="0.3">100</text>
<line x1="301.60" y1="304.60" x2="301.60" y2="308.40" stroke="#666" stroke-width="0.9"/>
<line x1="308.24" y1="304.60" x2="308.24" y2="307.80" stroke="#666" stroke-width="0.9"/>
<line x1="314.88" y1="304.60" x2="314.88" y2="307.80" stroke="#666" stroke-width="0.9"/>
<line x1="321.52" y1="304.60" x2="321.52" y2="307.80" stroke="#666" stroke-width="0.9"/>
<line x1="328.16" y1="304.60" x2="328.16" y2="307.80" stroke="#666" stroke-width="0.9"/>
<line x1="334.80" y1="304.60" x2="334.80" y2="308.40" stroke="#666" stroke-width="0.9"/>
<line x1="341.44" y1="304.60" x2="341.44" y2="307.80" stroke="#666" stroke-width="0.9"/>
<line x1="348.08" y1="304.60" x2="348.08" y2="307.80" stroke="#666" stroke-width="0.9"/>
<line x1="354.72" y1="304.60" x2="354.72" y2="307.80" stroke="#666" stroke-width="0.9"/>
<line x1="361.36" y1="304.60" x2="361.36" y2="307.80" stroke="#666" stroke-width="0.9"/>
<line x1="368.00" y1="304.60" x2="368.00" y2="308.40" stroke="#666" stroke-width="0.9"/>
<line x1="374.64" y1="304.60" x2="374.64" y2="307.80" stroke="#666" stroke-width="0.9"/>
<line x1="381.28" y1="304.60" x2="381.28" y2="307.80" stroke="#666" stroke-width="0.9"/>
<line x1="387.92" y1="304.60" x2="387.92" y2="307.80" stroke="#666" stroke-width="0.9"/>
<line x1="394.56" y1="304.60" x2="394.56" y2="307.80" stroke="#666" stroke-width="0.9"/>
<line x1="401.20" y1="304.60" x2="401.20" y2="308.40" stroke="#666" stroke-width="0.9"/>
<line x1="407.84" y1="304.60" x2="407.84" y2="307.80" stroke="#666" stroke-width="0.9"/>
<line x1="414.48" y1="304.60" x2="414.48" y2="307.80" stroke="#666" stroke-width="0.9"/>
<line x1="421.12" y1="304.60" x2="421.12" y2="307.80" stroke="#666" stroke-width="0.9"/>
<line x1="427.76" y1="304.60" x2="427.76" y2="307.80" stroke="#666" stroke-width="0.9"/>
<line x1="434.40" y1="304.60" x2="434.40" y2="308.40" stroke="#666" stroke-width="0.9"/>
<line x1="441.04" y1="304.60" x2="441.04" y2="307.80" stroke="#666" stroke-width="0.9"/>
<line x1="447.68" y1="304.60" x2="447.68" y2="307.80" stroke="#666" stroke-width="0.9"/>
<line x1="454.32" y1="304.60" x2="454.32" y2="307.80" stroke="#666" stroke-width="0.9"/>
<line x1="460.96" y1="304.60" x2="460.96" y2="307.80" stroke="#666" stroke-width="0.9"/>
<line x1="467.60" y1="304.60" x2="467.60" y2="308.40" stroke="#666" stroke-width="0.9"/>
<line x1="474.24" y1="304.60" x2="474.24" y2="307.80" stroke="#666" stroke-width="0.9"/>
<line x1="480.88" y1="304.60" x2="480.88" y2="307.80" stroke="#666" stroke-width="0.9"/>
<line x1="487.52" y1="304.60" x2="487.52" y2="307.80" stroke="#666" stroke-width="0.9"/>
<line x1="494.16" y1="304.60" x2="494.16" y2="307.80" stroke="#666" stroke-width="0.9"/>
<line x1="500.80" y1="304.60" x2="500.80" y2="308.40" stroke="#666" stroke-width="0.9"/>
<line x1="507.44" y1="304.60" x2="507.44" y2="307.80" stroke="#666" stroke-width="0.9"/>
<line x1="514.08" y1="304.60" x2="514.08" y2="307.80" stroke="#666" stroke-width="0.9"/>
<line x1="520.72" y1="304.60" x2="520.72" y2="307.80" stroke="#666" stroke-width="0.9"/>
<line x1="527.36" y1="304.60" x2="527.36" y2="307.80" stroke="#666" stroke-width="0.9"/>
<line x1="534.00" y1="304.60" x2="534.00" y2="308.40" stroke="#666" stroke-width="0.9"/>
<text x="301.60" y="314.66" font-size="6.0" text-anchor="middle" fill="#111" stroke="#111" stroke-width="0.3">200</text>
<text x="334.80" y="314.66" font-size="6.0" text-anchor="middle" fill="#111" stroke="#111" stroke-width="0.3">250</text>
<text x="368.00" y="314.66" font-size="6.0" text-anchor="middle" fill="#111" stroke="#111" stroke-width="0.3">300</text>
<text x="401.20" y="314.66" font-size="6.0" text-anchor="middle" fill="#111" stroke="#111" stroke-width="0.3">350</text>
<text x="434.40" y="314.66" font-size="6.0" text-anchor="middle" fill="#111" stroke="#111" stroke-width="0.3">400</text>
<text x="467.60" y="314.66" font-size="6.0" text-anchor="middle" fill="#111" stroke="#111" stroke-width="0.3">450</text>
<text x="500.80" y="314.66" font-size="6.0" text-anchor="middle" fill="#111" stroke="#111" stroke-width="0.3">500</text>
<text x="534.00" y="314.66" font-size="6.0" text-anchor="middle" fill="#111" stroke="#111" stroke-width="0.3">550</text>
<text x="0" y="0" font-size="6.0" text-anchor="middle" fill="#222" stroke="#222" stroke-width="0.3" transform="translate(285.46,265.90) rotate(-90)">Relative Abundance</text>
<text x="417.40" y="322.96" font-size="5.6" text-anchor="middle" fill="#222" stroke="#222" stroke-width="0.3">m/z</text>
<line x1="493.20" y1="283.20" x2="493.20" y2="304.60" stroke="#8a8a8a" stroke-width="1.0"/>
<line x1="366.70" y1="299.60" x2="366.70" y2="304.60" stroke="#525252" stroke-width="1.0"/>
<line x1="374.90" y1="301.40" x2="374.90" y2="304.60" stroke="#525252" stroke-width="1.0"/>
<line x1="389.10" y1="302.20" x2="389.10" y2="304.60" stroke="#525252" stroke-width="1.0"/>
<line x1="400.70" y1="298.80" x2="400.70" y2="304.60" stroke="#525252" stroke-width="1.0"/>
<line x1="402.50" y1="300.90" x2="402.50" y2="304.60" stroke="#525252" stroke-width="1.0"/>
<line x1="408.40" y1="300.90" x2="408.40" y2="304.60" stroke="#525252" stroke-width="1.0"/>
<line x1="411.50" y1="297.00" x2="411.50" y2="304.60" stroke="#525252" stroke-width="1.0"/>
<line x1="413.50" y1="299.60" x2="413.50" y2="304.60" stroke="#525252" stroke-width="1.0"/>
<line x1="418.70" y1="301.50" x2="418.70" y2="304.60" stroke="#525252" stroke-width="1.0"/>
<line x1="423.40" y1="301.40" x2="423.40" y2="304.60" stroke="#525252" stroke-width="1.0"/>
<line x1="423.80" y1="300.40" x2="423.80" y2="304.60" stroke="#525252" stroke-width="1.0"/>
<line x1="428.40" y1="298.50" x2="428.40" y2="304.60" stroke="#525252" stroke-width="1.0"/>
<line x1="433.70" y1="300.00" x2="433.70" y2="304.60" stroke="#525252" stroke-width="1.0"/>
<line x1="435.30" y1="299.20" x2="435.30" y2="304.60" stroke="#525252" stroke-width="1.0"/>
<line x1="439.40" y1="298.50" x2="439.40" y2="304.60" stroke="#525252" stroke-width="1.0"/>
<line x1="443.50" y1="295.50" x2="443.50" y2="304.60" stroke="#525252" stroke-width="1.0"/>
<line x1="447.20" y1="299.20" x2="447.20" y2="304.60" stroke="#525252" stroke-width="1.0"/>
<line x1="449.90" y1="294.20" x2="449.90" y2="304.60" stroke="#525252" stroke-width="1.0"/>
<line x1="450.30" y1="228.00" x2="450.30" y2="304.60" stroke="#444" stroke-width="1.0"/>
<line x1="459.50" y1="299.00" x2="459.50" y2="304.60" stroke="#525252" stroke-width="1.0"/>
<line x1="460.60" y1="298.30" x2="460.60" y2="304.60" stroke="#525252" stroke-width="1.0"/>
<line x1="462.30" y1="288.30" x2="462.30" y2="304.60" stroke="#525252" stroke-width="1.0"/>
<line x1="472.80" y1="296.70" x2="472.80" y2="304.60" stroke="#525252" stroke-width="1.0"/>
<line x1="481.00" y1="297.50" x2="481.00" y2="304.60" stroke="#525252" stroke-width="1.0"/>
<line x1="493.50" y1="297.00" x2="493.50" y2="304.60" stroke="#525252" stroke-width="1.2"/>
<text x="366.50" y="297.36" font-size="6" text-anchor="middle" font-weight="bold" fill="#000" stroke="#000" stroke-width="0.25">298.18</text>
<text x="389.00" y="296.56" font-size="6" text-anchor="middle" font-weight="bold" fill="#000" stroke="#000" stroke-width="0.25">349.08</text>
<text x="411.00" y="295.86" font-size="6" text-anchor="middle" font-weight="bold" fill="#000" stroke="#000" stroke-width="0.25">365.04</text>
<text x="437.60" y="293.76" font-size="6" text-anchor="middle" font-weight="bold" fill="#000" stroke="#000" stroke-width="0.25">413.34</text>
<text x="450.10" y="225.16" font-size="6" text-anchor="middle" font-weight="bold" fill="#000" stroke="#000" stroke-width="0.25">423.39</text>
<text x="462.00" y="286.26" font-size="6" text-anchor="middle" font-weight="bold" fill="#000" stroke="#000" stroke-width="0.25">441.42</text>
<text x="474.20" y="295.46" font-size="6" text-anchor="middle" font-weight="bold" fill="#000" stroke="#000" stroke-width="0.25">456.65</text>
<text x="493.20" y="281.26" font-size="6" text-anchor="middle" font-weight="bold" fill="#000" stroke="#000" stroke-width="0.25">487.19</text>
<line x1="312.60" y1="223.00" x2="312.60" y2="269.40" stroke="#666" stroke-width="1.0"/>
<line x1="312.60" y1="269.00" x2="440.30" y2="269.00" stroke="#444" stroke-width="1.0"/>
<line x1="309.60" y1="269.00" x2="312.60" y2="269.00" stroke="#666" stroke-width="0.9"/>
<line x1="310.80" y1="264.43" x2="312.60" y2="264.43" stroke="#666" stroke-width="0.9"/>
<line x1="310.80" y1="259.86" x2="312.60" y2="259.86" stroke="#666" stroke-width="0.9"/>
<line x1="310.80" y1="255.29" x2="312.60" y2="255.29" stroke="#666" stroke-width="0.9"/>
<line x1="310.80" y1="250.72" x2="312.60" y2="250.72" stroke="#666" stroke-width="0.9"/>
<line x1="309.60" y1="246.15" x2="312.60" y2="246.15" stroke="#666" stroke-width="0.9"/>
<line x1="310.80" y1="241.58" x2="312.60" y2="241.58" stroke="#666" stroke-width="0.9"/>
<line x1="310.80" y1="237.01" x2="312.60" y2="237.01" stroke="#666" stroke-width="0.9"/>
<line x1="310.80" y1="232.44" x2="312.60" y2="232.44" stroke="#666" stroke-width="0.9"/>
<line x1="310.80" y1="227.87" x2="312.60" y2="227.87" stroke="#666" stroke-width="0.9"/>
<line x1="309.60" y1="223.30" x2="312.60" y2="223.30" stroke="#666" stroke-width="0.9"/>
<text x="309.40" y="270.73" font-size="4.8" text-anchor="end" fill="#333" stroke="#333" stroke-width="0.3">0</text>
<text x="309.40" y="247.88" font-size="4.8" text-anchor="end" fill="#333" stroke="#333" stroke-width="0.3">50</text>
<text x="309.40" y="225.03" font-size="4.8" text-anchor="end" fill="#333" stroke="#333" stroke-width="0.3">100</text>
<line x1="313.20" y1="269.00" x2="313.20" y2="272.00" stroke="#666" stroke-width="0.9"/>
<line x1="317.45" y1="269.00" x2="317.45" y2="271.20" stroke="#666" stroke-width="0.9"/>
<line x1="321.70" y1="269.00" x2="321.70" y2="271.20" stroke="#666" stroke-width="0.9"/>
<line x1="325.94" y1="269.00" x2="325.94" y2="271.20" stroke="#666" stroke-width="0.9"/>
<line x1="330.19" y1="269.00" x2="330.19" y2="271.20" stroke="#666" stroke-width="0.9"/>
<line x1="334.44" y1="269.00" x2="334.44" y2="272.00" stroke="#666" stroke-width="0.9"/>
<line x1="338.69" y1="269.00" x2="338.69" y2="271.20" stroke="#666" stroke-width="0.9"/>
<line x1="342.94" y1="269.00" x2="342.94" y2="271.20" stroke="#666" stroke-width="0.9"/>
<line x1="347.18" y1="269.00" x2="347.18" y2="271.20" stroke="#666" stroke-width="0.9"/>
<line x1="351.43" y1="269.00" x2="351.43" y2="271.20" stroke="#666" stroke-width="0.9"/>
<line x1="355.68" y1="269.00" x2="355.68" y2="272.00" stroke="#666" stroke-width="0.9"/>
<line x1="359.93" y1="269.00" x2="359.93" y2="271.20" stroke="#666" stroke-width="0.9"/>
<line x1="364.18" y1="269.00" x2="364.18" y2="271.20" stroke="#666" stroke-width="0.9"/>
<line x1="368.42" y1="269.00" x2="368.42" y2="271.20" stroke="#666" stroke-width="0.9"/>
<line x1="372.67" y1="269.00" x2="372.67" y2="271.20" stroke="#666" stroke-width="0.9"/>
<line x1="376.92" y1="269.00" x2="376.92" y2="272.00" stroke="#666" stroke-width="0.9"/>
<line x1="381.17" y1="269.00" x2="381.17" y2="271.20" stroke="#666" stroke-width="0.9"/>
<line x1="385.42" y1="269.00" x2="385.42" y2="271.20" stroke="#666" stroke-width="0.9"/>
<line x1="389.66" y1="269.00" x2="389.66" y2="271.20" stroke="#666" stroke-width="0.9"/>
<line x1="393.91" y1="269.00" x2="393.91" y2="271.20" stroke="#666" stroke-width="0.9"/>
<line x1="398.16" y1="269.00" x2="398.16" y2="272.00" stroke="#666" stroke-width="0.9"/>
<line x1="402.41" y1="269.00" x2="402.41" y2="271.20" stroke="#666" stroke-width="0.9"/>
<line x1="406.66" y1="269.00" x2="406.66" y2="271.20" stroke="#666" stroke-width="0.9"/>
<line x1="410.90" y1="269.00" x2="410.90" y2="271.20" stroke="#666" stroke-width="0.9"/>
<line x1="415.15" y1="269.00" x2="415.15" y2="271.20" stroke="#666" stroke-width="0.9"/>
<line x1="419.40" y1="269.00" x2="419.40" y2="272.00" stroke="#666" stroke-width="0.9"/>
<line x1="423.65" y1="269.00" x2="423.65" y2="271.20" stroke="#666" stroke-width="0.9"/>
<line x1="427.90" y1="269.00" x2="427.90" y2="271.20" stroke="#666" stroke-width="0.9"/>
<line x1="432.14" y1="269.00" x2="432.14" y2="271.20" stroke="#666" stroke-width="0.9"/>
<line x1="436.39" y1="269.00" x2="436.39" y2="271.20" stroke="#666" stroke-width="0.9"/>
<line x1="440.64" y1="269.00" x2="440.64" y2="272.00" stroke="#666" stroke-width="0.9"/>
<text x="313.20" y="277.67" font-size="5.2" text-anchor="middle" fill="#333" stroke="#333" stroke-width="0.3">200</text>
<text x="334.44" y="277.67" font-size="5.2" text-anchor="middle" fill="#333" stroke="#333" stroke-width="0.3">250</text>
<text x="355.68" y="277.67" font-size="5.2" text-anchor="middle" fill="#333" stroke="#333" stroke-width="0.3">300</text>
<text x="376.92" y="277.67" font-size="5.2" text-anchor="middle" fill="#333" stroke="#333" stroke-width="0.3">350</text>
<text x="398.16" y="277.67" font-size="5.2" text-anchor="middle" fill="#333" stroke="#333" stroke-width="0.3">400</text>
<text x="419.40" y="277.67" font-size="5.2" text-anchor="middle" fill="#333" stroke="#333" stroke-width="0.3">450</text>
<text x="440.64" y="277.67" font-size="5.2" text-anchor="middle" fill="#333" stroke="#333" stroke-width="0.3">500</text>
<line x1="376.50" y1="255.40" x2="376.50" y2="269.00" stroke="#525252" stroke-width="1.1"/>
<line x1="383.50" y1="256.90" x2="383.50" y2="269.00" stroke="#525252" stroke-width="1.1"/>
<line x1="394.90" y1="223.80" x2="394.90" y2="269.00" stroke="#444" stroke-width="1.3"/>
<text x="375.90" y="252.94" font-size="5.4" text-anchor="middle" font-weight="bold" fill="#000" stroke="#000" stroke-width="0.25">349.20</text>
<text x="394.50" y="221.34" font-size="5.4" text-anchor="middle" font-weight="bold" fill="#000" stroke="#000" stroke-width="0.25">393.20</text>
<text x="324.5" y="234" font-size="9.8" font-weight="bold" font-family="Liberation Serif" fill="#000" stroke="#000" stroke-width="0.35" style="font-family:'Liberation Serif',serif">M<tspan font-size="6.8" dy="1.8">5</tspan></text>
<line x1="24.70" y1="340.10" x2="24.70" y2="417.80" stroke="#666" stroke-width="1.0"/>
<line x1="24.70" y1="417.40" x2="258.30" y2="417.40" stroke="#444" stroke-width="1.0"/>
<line x1="21.70" y1="417.40" x2="24.70" y2="417.40" stroke="#666" stroke-width="0.9"/>
<line x1="22.70" y1="413.55" x2="24.70" y2="413.55" stroke="#666" stroke-width="0.9"/>
<line x1="22.70" y1="409.70" x2="24.70" y2="409.70" stroke="#666" stroke-width="0.9"/>
<line x1="22.70" y1="405.85" x2="24.70" y2="405.85" stroke="#666" stroke-width="0.9"/>
<line x1="21.70" y1="402.00" x2="24.70" y2="402.00" stroke="#666" stroke-width="0.9"/>
<line x1="22.70" y1="398.15" x2="24.70" y2="398.15" stroke="#666" stroke-width="0.9"/>
<line x1="22.70" y1="394.30" x2="24.70" y2="394.30" stroke="#666" stroke-width="0.9"/>
<line x1="22.70" y1="390.45" x2="24.70" y2="390.45" stroke="#666" stroke-width="0.9"/>
<line x1="21.70" y1="386.60" x2="24.70" y2="386.60" stroke="#666" stroke-width="0.9"/>
<line x1="22.70" y1="382.75" x2="24.70" y2="382.75" stroke="#666" stroke-width="0.9"/>
<line x1="22.70" y1="378.90" x2="24.70" y2="378.90" stroke="#666" stroke-width="0.9"/>
<line x1="22.70" y1="375.05" x2="24.70" y2="375.05" stroke="#666" stroke-width="0.9"/>
<line x1="21.70" y1="371.20" x2="24.70" y2="371.20" stroke="#666" stroke-width="0.9"/>
<line x1="22.70" y1="367.35" x2="24.70" y2="367.35" stroke="#666" stroke-width="0.9"/>
<line x1="22.70" y1="363.50" x2="24.70" y2="363.50" stroke="#666" stroke-width="0.9"/>
<line x1="22.70" y1="359.65" x2="24.70" y2="359.65" stroke="#666" stroke-width="0.9"/>
<line x1="21.70" y1="355.80" x2="24.70" y2="355.80" stroke="#666" stroke-width="0.9"/>
<line x1="22.70" y1="351.95" x2="24.70" y2="351.95" stroke="#666" stroke-width="0.9"/>
<line x1="22.70" y1="348.10" x2="24.70" y2="348.10" stroke="#666" stroke-width="0.9"/>
<line x1="22.70" y1="344.25" x2="24.70" y2="344.25" stroke="#666" stroke-width="0.9"/>
<line x1="21.70" y1="340.40" x2="24.70" y2="340.40" stroke="#666" stroke-width="0.9"/>
<text x="21.20" y="419.56" font-size="6.0" text-anchor="end" fill="#111" stroke="#111" stroke-width="0.3">0</text>
<text x="21.20" y="404.16" font-size="6.0" text-anchor="end" fill="#111" stroke="#111" stroke-width="0.3">20</text>
<text x="21.20" y="388.76" font-size="6.0" text-anchor="end" fill="#111" stroke="#111" stroke-width="0.3">40</text>
<text x="21.20" y="373.36" font-size="6.0" text-anchor="end" fill="#111" stroke="#111" stroke-width="0.3">60</text>
<text x="21.20" y="357.96" font-size="6.0" text-anchor="end" fill="#111" stroke="#111" stroke-width="0.3">80</text>
<text x="21.20" y="342.56" font-size="6.0" text-anchor="end" fill="#111" stroke="#111" stroke-width="0.3">100</text>
<line x1="25.50" y1="417.40" x2="25.50" y2="421.20" stroke="#666" stroke-width="0.9"/>
<line x1="32.16" y1="417.40" x2="32.16" y2="420.60" stroke="#666" stroke-width="0.9"/>
<line x1="38.82" y1="417.40" x2="38.82" y2="420.60" stroke="#666" stroke-width="0.9"/>
<line x1="45.48" y1="417.40" x2="45.48" y2="420.60" stroke="#666" stroke-width="0.9"/>
<line x1="52.14" y1="417.40" x2="52.14" y2="420.60" stroke="#666" stroke-width="0.9"/>
<line x1="58.80" y1="417.40" x2="58.80" y2="421.20" stroke="#666" stroke-width="0.9"/>
<line x1="65.46" y1="417.40" x2="65.46" y2="420.60" stroke="#666" stroke-width="0.9"/>
<line x1="72.12" y1="417.40" x2="72.12" y2="420.60" stroke="#666" stroke-width="0.9"/>
<line x1="78.78" y1="417.40" x2="78.78" y2="420.60" stroke="#666" stroke-width="0.9"/>
<line x1="85.44" y1="417.40" x2="85.44" y2="420.60" stroke="#666" stroke-width="0.9"/>
<line x1="92.10" y1="417.40" x2="92.10" y2="421.20" stroke="#666" stroke-width="0.9"/>
<line x1="98.76" y1="417.40" x2="98.76" y2="420.60" stroke="#666" stroke-width="0.9"/>
<line x1="105.42" y1="417.40" x2="105.42" y2="420.60" stroke="#666" stroke-width="0.9"/>
<line x1="112.08" y1="417.40" x2="112.08" y2="420.60" stroke="#666" stroke-width="0.9"/>
<line x1="118.74" y1="417.40" x2="118.74" y2="420.60" stroke="#666" stroke-width="0.9"/>
<line x1="125.40" y1="417.40" x2="125.40" y2="421.20" stroke="#666" stroke-width="0.9"/>
<line x1="132.06" y1="417.40" x2="132.06" y2="420.60" stroke="#666" stroke-width="0.9"/>
<line x1="138.72" y1="417.40" x2="138.72" y2="420.60" stroke="#666" stroke-width="0.9"/>
<line x1="145.38" y1="417.40" x2="145.38" y2="420.60" stroke="#666" stroke-width="0.9"/>
<line x1="152.04" y1="417.40" x2="152.04" y2="420.60" stroke="#666" stroke-width="0.9"/>
<line x1="158.70" y1="417.40" x2="158.70" y2="421.20" stroke="#666" stroke-width="0.9"/>
<line x1="165.36" y1="417.40" x2="165.36" y2="420.60" stroke="#666" stroke-width="0.9"/>
<line x1="172.02" y1="417.40" x2="172.02" y2="420.60" stroke="#666" stroke-width="0.9"/>
<line x1="178.68" y1="417.40" x2="178.68" y2="420.60" stroke="#666" stroke-width="0.9"/>
<line x1="185.34" y1="417.40" x2="185.34" y2="420.60" stroke="#666" stroke-width="0.9"/>
<line x1="192.00" y1="417.40" x2="192.00" y2="421.20" stroke="#666" stroke-width="0.9"/>
<line x1="198.66" y1="417.40" x2="198.66" y2="420.60" stroke="#666" stroke-width="0.9"/>
<line x1="205.32" y1="417.40" x2="205.32" y2="420.60" stroke="#666" stroke-width="0.9"/>
<line x1="211.98" y1="417.40" x2="211.98" y2="420.60" stroke="#666" stroke-width="0.9"/>
<line x1="218.64" y1="417.40" x2="218.64" y2="420.60" stroke="#666" stroke-width="0.9"/>
<line x1="225.30" y1="417.40" x2="225.30" y2="421.20" stroke="#666" stroke-width="0.9"/>
<line x1="231.96" y1="417.40" x2="231.96" y2="420.60" stroke="#666" stroke-width="0.9"/>
<line x1="238.62" y1="417.40" x2="238.62" y2="420.60" stroke="#666" stroke-width="0.9"/>
<line x1="245.28" y1="417.40" x2="245.28" y2="420.60" stroke="#666" stroke-width="0.9"/>
<line x1="251.94" y1="417.40" x2="251.94" y2="420.60" stroke="#666" stroke-width="0.9"/>
<line x1="258.60" y1="417.40" x2="258.60" y2="421.20" stroke="#666" stroke-width="0.9"/>
<text x="25.50" y="427.46" font-size="6.0" text-anchor="middle" fill="#111" stroke="#111" stroke-width="0.3">200</text>
<text x="58.80" y="427.46" font-size="6.0" text-anchor="middle" fill="#111" stroke="#111" stroke-width="0.3">250</text>
<text x="92.10" y="427.46" font-size="6.0" text-anchor="middle" fill="#111" stroke="#111" stroke-width="0.3">300</text>
<text x="125.40" y="427.46" font-size="6.0" text-anchor="middle" fill="#111" stroke="#111" stroke-width="0.3">350</text>
<text x="158.70" y="427.46" font-size="6.0" text-anchor="middle" fill="#111" stroke="#111" stroke-width="0.3">400</text>
<text x="192.00" y="427.46" font-size="6.0" text-anchor="middle" fill="#111" stroke="#111" stroke-width="0.3">450</text>
<text x="225.30" y="427.46" font-size="6.0" text-anchor="middle" fill="#111" stroke="#111" stroke-width="0.3">500</text>
<text x="258.60" y="427.46" font-size="6.0" text-anchor="middle" fill="#111" stroke="#111" stroke-width="0.3">550</text>
<text x="0" y="0" font-size="6.0" text-anchor="middle" fill="#222" stroke="#222" stroke-width="0.3" transform="translate(9.86,378.90) rotate(-90)">Relative Abundance</text>
<text x="141.90" y="434.96" font-size="5.6" text-anchor="middle" fill="#222" stroke="#222" stroke-width="0.3">m/z</text>
<line x1="148.50" y1="406.50" x2="148.50" y2="417.40" stroke="#525252" stroke-width="1.0"/>
<line x1="164.20" y1="340.00" x2="164.20" y2="417.40" stroke="#444" stroke-width="1.0"/>
<line x1="164.60" y1="355.50" x2="164.60" y2="417.40" stroke="#333" stroke-width="1.2"/>
<line x1="170.70" y1="393.40" x2="170.70" y2="417.40" stroke="#525252" stroke-width="1.0"/>
<line x1="185.70" y1="399.10" x2="185.70" y2="417.40" stroke="#525252" stroke-width="1.0"/>
<line x1="196.40" y1="404.30" x2="196.40" y2="417.40" stroke="#525252" stroke-width="1.0"/>
<line x1="216.50" y1="380.00" x2="216.50" y2="417.40" stroke="#444" stroke-width="1.0"/>
<line x1="216.90" y1="400.50" x2="216.90" y2="417.40" stroke="#333" stroke-width="1.2"/>
<text x="152.00" y="403.56" font-size="6" text-anchor="middle" font-weight="bold" fill="#000" stroke="#000" stroke-width="0.25">408.02</text>
<text x="164.50" y="338.41" font-size="6" text-anchor="middle" font-weight="bold" fill="#000" stroke="#000" stroke-width="0.25">409.42</text>
<text x="176.40" y="390.91" font-size="6" text-anchor="middle" font-weight="bold" fill="#000" stroke="#000" stroke-width="0.25">418.60</text>
<text x="198.10" y="397.16" font-size="6" text-anchor="middle" font-weight="bold" fill="#000" stroke="#000" stroke-width="0.25">441.35</text>
<text x="216.00" y="377.66" font-size="6" text-anchor="middle" font-weight="bold" fill="#000" stroke="#000" stroke-width="0.25">487.45</text>
<line x1="36.00" y1="334.00" x2="36.00" y2="379.50" stroke="#666" stroke-width="1.0"/>
<line x1="36.00" y1="379.10" x2="159.40" y2="379.10" stroke="#444" stroke-width="1.0"/>
<line x1="33.00" y1="379.10" x2="36.00" y2="379.10" stroke="#666" stroke-width="0.9"/>
<line x1="34.20" y1="374.62" x2="36.00" y2="374.62" stroke="#666" stroke-width="0.9"/>
<line x1="34.20" y1="370.14" x2="36.00" y2="370.14" stroke="#666" stroke-width="0.9"/>
<line x1="34.20" y1="365.66" x2="36.00" y2="365.66" stroke="#666" stroke-width="0.9"/>
<line x1="34.20" y1="361.18" x2="36.00" y2="361.18" stroke="#666" stroke-width="0.9"/>
<line x1="33.00" y1="356.70" x2="36.00" y2="356.70" stroke="#666" stroke-width="0.9"/>
<line x1="34.20" y1="352.22" x2="36.00" y2="352.22" stroke="#666" stroke-width="0.9"/>
<line x1="34.20" y1="347.74" x2="36.00" y2="347.74" stroke="#666" stroke-width="0.9"/>
<line x1="34.20" y1="343.26" x2="36.00" y2="343.26" stroke="#666" stroke-width="0.9"/>
<line x1="34.20" y1="338.78" x2="36.00" y2="338.78" stroke="#666" stroke-width="0.9"/>
<line x1="33.00" y1="334.30" x2="36.00" y2="334.30" stroke="#666" stroke-width="0.9"/>
<text x="31.50" y="380.61" font-size="4.2" text-anchor="end" fill="#333" stroke="#333" stroke-width="0.3">0</text>
<text x="31.50" y="358.21" font-size="4.2" text-anchor="end" fill="#333" stroke="#333" stroke-width="0.3">50</text>
<text x="31.50" y="335.81" font-size="4.2" text-anchor="end" fill="#333" stroke="#333" stroke-width="0.3">100</text>
<line x1="36.20" y1="379.10" x2="36.20" y2="382.10" stroke="#666" stroke-width="0.9"/>
<line x1="40.31" y1="379.10" x2="40.31" y2="381.30" stroke="#666" stroke-width="0.9"/>
<line x1="44.42" y1="379.10" x2="44.42" y2="381.30" stroke="#666" stroke-width="0.9"/>
<line x1="48.53" y1="379.10" x2="48.53" y2="381.30" stroke="#666" stroke-width="0.9"/>
<line x1="52.64" y1="379.10" x2="52.64" y2="381.30" stroke="#666" stroke-width="0.9"/>
<line x1="56.75" y1="379.10" x2="56.75" y2="382.10" stroke="#666" stroke-width="0.9"/>
<line x1="60.86" y1="379.10" x2="60.86" y2="381.30" stroke="#666" stroke-width="0.9"/>
<line x1="64.97" y1="379.10" x2="64.97" y2="381.30" stroke="#666" stroke-width="0.9"/>
<line x1="69.08" y1="379.10" x2="69.08" y2="381.30" stroke="#666" stroke-width="0.9"/>
<line x1="73.19" y1="379.10" x2="73.19" y2="381.30" stroke="#666" stroke-width="0.9"/>
<line x1="77.30" y1="379.10" x2="77.30" y2="382.10" stroke="#666" stroke-width="0.9"/>
<line x1="81.41" y1="379.10" x2="81.41" y2="381.30" stroke="#666" stroke-width="0.9"/>
<line x1="85.52" y1="379.10" x2="85.52" y2="381.30" stroke="#666" stroke-width="0.9"/>
<line x1="89.63" y1="379.10" x2="89.63" y2="381.30" stroke="#666" stroke-width="0.9"/>
<line x1="93.74" y1="379.10" x2="93.74" y2="381.30" stroke="#666" stroke-width="0.9"/>
<line x1="97.85" y1="379.10" x2="97.85" y2="382.10" stroke="#666" stroke-width="0.9"/>
<line x1="101.96" y1="379.10" x2="101.96" y2="381.30" stroke="#666" stroke-width="0.9"/>
<line x1="106.07" y1="379.10" x2="106.07" y2="381.30" stroke="#666" stroke-width="0.9"/>
<line x1="110.18" y1="379.10" x2="110.18" y2="381.30" stroke="#666" stroke-width="0.9"/>
<line x1="114.29" y1="379.10" x2="114.29" y2="381.30" stroke="#666" stroke-width="0.9"/>
<line x1="118.40" y1="379.10" x2="118.40" y2="382.10" stroke="#666" stroke-width="0.9"/>
<line x1="122.51" y1="379.10" x2="122.51" y2="381.30" stroke="#666" stroke-width="0.9"/>
<line x1="126.62" y1="379.10" x2="126.62" y2="381.30" stroke="#666" stroke-width="0.9"/>
<line x1="130.73" y1="379.10" x2="130.73" y2="381.30" stroke="#666" stroke-width="0.9"/>
<line x1="134.84" y1="379.10" x2="134.84" y2="381.30" stroke="#666" stroke-width="0.9"/>
<line x1="138.95" y1="379.10" x2="138.95" y2="382.10" stroke="#666" stroke-width="0.9"/>
<line x1="143.06" y1="379.10" x2="143.06" y2="381.30" stroke="#666" stroke-width="0.9"/>
<line x1="147.17" y1="379.10" x2="147.17" y2="381.30" stroke="#666" stroke-width="0.9"/>
<line x1="151.28" y1="379.10" x2="151.28" y2="381.30" stroke="#666" stroke-width="0.9"/>
<line x1="155.39" y1="379.10" x2="155.39" y2="381.30" stroke="#666" stroke-width="0.9"/>
<line x1="159.50" y1="379.10" x2="159.50" y2="382.10" stroke="#666" stroke-width="0.9"/>
<text x="36.20" y="388.10" font-size="5.0" text-anchor="middle" fill="#333" stroke="#333" stroke-width="0.3">200</text>
<text x="56.75" y="388.10" font-size="5.0" text-anchor="middle" fill="#333" stroke="#333" stroke-width="0.3">250</text>
<text x="77.30" y="388.10" font-size="5.0" text-anchor="middle" fill="#333" stroke="#333" stroke-width="0.3">300</text>
<text x="97.85" y="388.10" font-size="5.0" text-anchor="middle" fill="#333" stroke="#333" stroke-width="0.3">350</text>
<text x="118.40" y="388.10" font-size="5.0" text-anchor="middle" fill="#333" stroke="#333" stroke-width="0.3">400</text>
<text x="138.95" y="388.10" font-size="5.0" text-anchor="middle" fill="#333" stroke="#333" stroke-width="0.3">450</text>
<text x="159.50" y="388.10" font-size="5.0" text-anchor="middle" fill="#333" stroke="#333" stroke-width="0.3">500</text>
<line x1="102.90" y1="364.40" x2="102.90" y2="379.10" stroke="#8a8a8a" stroke-width="1.0"/>
<line x1="109.50" y1="334.60" x2="109.50" y2="379.10" stroke="#8a8a8a" stroke-width="1.0"/>
<line x1="103.30" y1="370.20" x2="103.30" y2="379.10" stroke="#525252" stroke-width="1.0"/>
<line x1="109.90" y1="346.20" x2="109.90" y2="379.10" stroke="#525252" stroke-width="1.0"/>
<text x="96.90" y="362.90" font-size="5" text-anchor="middle" font-weight="bold" fill="#000" stroke="#000" stroke-width="0.25">363.34</text>
<text x="109.10" y="332.60" font-size="5" text-anchor="middle" font-weight="bold" fill="#000" stroke="#000" stroke-width="0.25">379.30</text>
<text x="49.5" y="344" font-size="9.8" font-weight="bold" font-family="Liberation Serif" fill="#000" stroke="#000" stroke-width="0.35" style="font-family:'Liberation Serif',serif">M<tspan font-size="6.8" dy="1.8">6</tspan></text>
<line x1="301.40" y1="339.70" x2="301.40" y2="418.70" stroke="#666" stroke-width="1.0"/>
<line x1="301.40" y1="418.30" x2="537.20" y2="418.30" stroke="#444" stroke-width="1.0"/>
<line x1="298.40" y1="418.30" x2="301.40" y2="418.30" stroke="#666" stroke-width="0.9"/>
<line x1="299.40" y1="414.38" x2="301.40" y2="414.38" stroke="#666" stroke-width="0.9"/>
<line x1="299.40" y1="410.47" x2="301.40" y2="410.47" stroke="#666" stroke-width="0.9"/>
<line x1="299.40" y1="406.56" x2="301.40" y2="406.56" stroke="#666" stroke-width="0.9"/>
<line x1="298.40" y1="402.64" x2="301.40" y2="402.64" stroke="#666" stroke-width="0.9"/>
<line x1="299.40" y1="398.73" x2="301.40" y2="398.73" stroke="#666" stroke-width="0.9"/>
<line x1="299.40" y1="394.81" x2="301.40" y2="394.81" stroke="#666" stroke-width="0.9"/>
<line x1="299.40" y1="390.89" x2="301.40" y2="390.89" stroke="#666" stroke-width="0.9"/>
<line x1="298.40" y1="386.98" x2="301.40" y2="386.98" stroke="#666" stroke-width="0.9"/>
<line x1="299.40" y1="383.06" x2="301.40" y2="383.06" stroke="#666" stroke-width="0.9"/>
<line x1="299.40" y1="379.15" x2="301.40" y2="379.15" stroke="#666" stroke-width="0.9"/>
<line x1="299.40" y1="375.24" x2="301.40" y2="375.24" stroke="#666" stroke-width="0.9"/>
<line x1="298.40" y1="371.32" x2="301.40" y2="371.32" stroke="#666" stroke-width="0.9"/>
<line x1="299.40" y1="367.40" x2="301.40" y2="367.40" stroke="#666" stroke-width="0.9"/>
<line x1="299.40" y1="363.49" x2="301.40" y2="363.49" stroke="#666" stroke-width="0.9"/>
<line x1="299.40" y1="359.57" x2="301.40" y2="359.57" stroke="#666" stroke-width="0.9"/>
<line x1="298.40" y1="355.66" x2="301.40" y2="355.66" stroke="#666" stroke-width="0.9"/>
<line x1="299.40" y1="351.75" x2="301.40" y2="351.75" stroke="#666" stroke-width="0.9"/>
<line x1="299.40" y1="347.83" x2="301.40" y2="347.83" stroke="#666" stroke-width="0.9"/>
<line x1="299.40" y1="343.92" x2="301.40" y2="343.92" stroke="#666" stroke-width="0.9"/>
<line x1="298.40" y1="340.00" x2="301.40" y2="340.00" stroke="#666" stroke-width="0.9"/>
<text x="297.90" y="420.46" font-size="6.0" text-anchor="end" fill="#111" stroke="#111" stroke-width="0.3">0</text>
<text x="297.90" y="404.80" font-size="6.0" text-anchor="end" fill="#111" stroke="#111" stroke-width="0.3">20</text>
<text x="297.90" y="389.14" font-size="6.0" text-anchor="end" fill="#111" stroke="#111" stroke-width="0.3">40</text>
<text x="297.90" y="373.48" font-size="6.0" text-anchor="end" fill="#111" stroke="#111" stroke-width="0.3">60</text>
<text x="297.90" y="357.82" font-size="6.0" text-anchor="end" fill="#111" stroke="#111" stroke-width="0.3">80</text>
<text x="297.90" y="342.16" font-size="6.0" text-anchor="end" fill="#111" stroke="#111" stroke-width="0.3">100</text>
<line x1="301.75" y1="418.30" x2="301.75" y2="422.10" stroke="#666" stroke-width="0.9"/>
<line x1="307.50" y1="418.30" x2="307.50" y2="421.50" stroke="#666" stroke-width="0.9"/>
<line x1="313.25" y1="418.30" x2="313.25" y2="421.50" stroke="#666" stroke-width="0.9"/>
<line x1="319.00" y1="418.30" x2="319.00" y2="421.50" stroke="#666" stroke-width="0.9"/>
<line x1="324.75" y1="418.30" x2="324.75" y2="421.50" stroke="#666" stroke-width="0.9"/>
<line x1="330.50" y1="418.30" x2="330.50" y2="422.10" stroke="#666" stroke-width="0.9"/>
<line x1="336.25" y1="418.30" x2="336.25" y2="421.50" stroke="#666" stroke-width="0.9"/>
<line x1="342.00" y1="418.30" x2="342.00" y2="421.50" stroke="#666" stroke-width="0.9"/>
<line x1="347.75" y1="418.30" x2="347.75" y2="421.50" stroke="#666" stroke-width="0.9"/>
<line x1="353.50" y1="418.30" x2="353.50" y2="421.50" stroke="#666" stroke-width="0.9"/>
<line x1="359.25" y1="418.30" x2="359.25" y2="422.10" stroke="#666" stroke-width="0.9"/>
<line x1="365.00" y1="418.30" x2="365.00" y2="421.50" stroke="#666" stroke-width="0.9"/>
<line x1="370.75" y1="418.30" x2="370.75" y2="421.50" stroke="#666" stroke-width="0.9"/>
<line x1="376.50" y1="418.30" x2="376.50" y2="421.50" stroke="#666" stroke-width="0.9"/>
<line x1="382.25" y1="418.30" x2="382.25" y2="421.50" stroke="#666" stroke-width="0.9"/>
<line x1="388.00" y1="418.30" x2="388.00" y2="422.10" stroke="#666" stroke-width="0.9"/>
<line x1="393.75" y1="418.30" x2="393.75" y2="421.50" stroke="#666" stroke-width="0.9"/>
<line x1="399.50" y1="418.30" x2="399.50" y2="421.50" stroke="#666" stroke-width="0.9"/>
<line x1="405.25" y1="418.30" x2="405.25" y2="421.50" stroke="#666" stroke-width="0.9"/>
<line x1="411.00" y1="418.30" x2="411.00" y2="421.50" stroke="#666" stroke-width="0.9"/>
<line x1="416.75" y1="418.30" x2="416.75" y2="422.10" stroke="#666" stroke-width="0.9"/>
<line x1="422.50" y1="418.30" x2="422.50" y2="421.50" stroke="#666" stroke-width="0.9"/>
<line x1="428.25" y1="418.30" x2="428.25" y2="421.50" stroke="#666" stroke-width="0.9"/>
<line x1="434.00" y1="418.30" x2="434.00" y2="421.50" stroke="#666" stroke-width="0.9"/>
<line x1="439.75" y1="418.30" x2="439.75" y2="421.50" stroke="#666" stroke-width="0.9"/>
<line x1="445.50" y1="418.30" x2="445.50" y2="422.10" stroke="#666" stroke-width="0.9"/>
<line x1="451.25" y1="418.30" x2="451.25" y2="421.50" stroke="#666" stroke-width="0.9"/>
<line x1="457.00" y1="418.30" x2="457.00" y2="421.50" stroke="#666" stroke-width="0.9"/>
<line x1="462.75" y1="418.30" x2="462.75" y2="421.50" stroke="#666" stroke-width="0.9"/>
<line x1="468.50" y1="418.30" x2="468.50" y2="421.50" stroke="#666" stroke-width="0.9"/>
<line x1="474.25" y1="418.30" x2="474.25" y2="422.10" stroke="#666" stroke-width="0.9"/>
<line x1="480.00" y1="418.30" x2="480.00" y2="421.50" stroke="#666" stroke-width="0.9"/>
<line x1="485.75" y1="418.30" x2="485.75" y2="421.50" stroke="#666" stroke-width="0.9"/>
<line x1="491.50" y1="418.30" x2="491.50" y2="421.50" stroke="#666" stroke-width="0.9"/>
<line x1="497.25" y1="418.30" x2="497.25" y2="421.50" stroke="#666" stroke-width="0.9"/>
<line x1="503.00" y1="418.30" x2="503.00" y2="422.10" stroke="#666" stroke-width="0.9"/>
<line x1="508.75" y1="418.30" x2="508.75" y2="421.50" stroke="#666" stroke-width="0.9"/>
<line x1="514.50" y1="418.30" x2="514.50" y2="421.50" stroke="#666" stroke-width="0.9"/>
<line x1="520.25" y1="418.30" x2="520.25" y2="421.50" stroke="#666" stroke-width="0.9"/>
<line x1="526.00" y1="418.30" x2="526.00" y2="421.50" stroke="#666" stroke-width="0.9"/>
<line x1="531.75" y1="418.30" x2="531.75" y2="422.10" stroke="#666" stroke-width="0.9"/>
<line x1="537.50" y1="418.30" x2="537.50" y2="421.50" stroke="#666" stroke-width="0.9"/>
<text x="301.75" y="428.46" font-size="6.0" text-anchor="middle" fill="#111" stroke="#111" stroke-width="0.3">150</text>
<text x="330.50" y="428.46" font-size="6.0" text-anchor="middle" fill="#111" stroke="#111" stroke-width="0.3">200</text>
<text x="359.25" y="428.46" font-size="6.0" text-anchor="middle" fill="#111" stroke="#111" stroke-width="0.3">250</text>
<text x="388.00" y="428.46" font-size="6.0" text-anchor="middle" fill="#111" stroke="#111" stroke-width="0.3">300</text>
<text x="416.75" y="428.46" font-size="6.0" text-anchor="middle" fill="#111" stroke="#111" stroke-width="0.3">350</text>
<text x="445.50" y="428.46" font-size="6.0" text-anchor="middle" fill="#111" stroke="#111" stroke-width="0.3">400</text>
<text x="474.25" y="428.46" font-size="6.0" text-anchor="middle" fill="#111" stroke="#111" stroke-width="0.3">450</text>
<text x="503.00" y="428.46" font-size="6.0" text-anchor="middle" fill="#111" stroke="#111" stroke-width="0.3">500</text>
<text x="531.75" y="428.46" font-size="6.0" text-anchor="middle" fill="#111" stroke="#111" stroke-width="0.3">550</text>
<text x="0" y="0" font-size="6.0" text-anchor="middle" fill="#222" stroke="#222" stroke-width="0.3" transform="translate(285.66,379.10) rotate(-90)">Relative Abundance</text>
<text x="418.50" y="436.46" font-size="5.6" text-anchor="middle" fill="#222" stroke="#222" stroke-width="0.3">m/z</text>
<line x1="313.50" y1="417.00" x2="313.50" y2="418.30" stroke="#525252" stroke-width="1.0"/>
<line x1="347.80" y1="416.00" x2="347.80" y2="418.30" stroke="#525252" stroke-width="1.0"/>
<line x1="369.60" y1="416.50" x2="369.60" y2="418.30" stroke="#525252" stroke-width="1.0"/>
<line x1="412.30" y1="415.30" x2="412.30" y2="418.30" stroke="#525252" stroke-width="1.0"/>
<line x1="448.50" y1="413.00" x2="448.50" y2="418.30" stroke="#525252" stroke-width="1.0"/>
<line x1="458.75" y1="414.25" x2="458.75" y2="418.30" stroke="#525252" stroke-width="1.0"/>
<line x1="467.25" y1="416.75" x2="467.25" y2="418.30" stroke="#525252" stroke-width="1.0"/>
<line x1="475.50" y1="386.75" x2="475.50" y2="418.30" stroke="#444" stroke-width="1.4"/>
<line x1="486.75" y1="339.25" x2="486.75" y2="418.30" stroke="#404040" stroke-width="1.3"/>
<line x1="487.60" y1="414.25" x2="487.60" y2="418.30" stroke="#666" stroke-width="1"/>
<line x1="512.60" y1="366.75" x2="512.60" y2="418.30" stroke="#454545" stroke-width="1.2"/>
<text x="313.30" y="416.76" font-size="6" text-anchor="middle" font-weight="bold" fill="#000" stroke="#000" stroke-width="0.25">170.53</text>
<text x="348.20" y="415.06" font-size="6" text-anchor="middle" font-weight="bold" fill="#000" stroke="#000" stroke-width="0.25">230.93</text>
<text x="370.40" y="416.76" font-size="6" text-anchor="middle" font-weight="bold" fill="#000" stroke="#000" stroke-width="0.25">257.33</text>
<text x="408.60" y="415.06" font-size="6" text-anchor="middle" font-weight="bold" fill="#000" stroke="#000" stroke-width="0.25">337.27</text>
<text x="448.40" y="410.91" font-size="6" text-anchor="middle" font-weight="bold" fill="#000" stroke="#000" stroke-width="0.25">405.13</text>
<text x="473.40" y="385.66" font-size="6" text-anchor="middle" font-weight="bold" fill="#000" stroke="#000" stroke-width="0.25">453.33</text>
<text x="486.40" y="338.16" font-size="6" text-anchor="middle" font-weight="bold" fill="#000" stroke="#000" stroke-width="0.25">471.40</text>
<text x="499.50" y="415.91" font-size="6" text-anchor="middle" font-weight="bold" fill="#000" stroke="#000" stroke-width="0.25">501.27</text>
<text x="513.00" y="365.66" font-size="6" text-anchor="middle" font-weight="bold" fill="#000" stroke="#000" stroke-width="0.25">517.40</text>
<line x1="318.00" y1="336.90" x2="318.00" y2="384.80" stroke="#666" stroke-width="1.0"/>
<line x1="318.00" y1="384.40" x2="448.50" y2="384.40" stroke="#444" stroke-width="1.0"/>
<line x1="315.00" y1="384.40" x2="318.00" y2="384.40" stroke="#666" stroke-width="0.9"/>
<line x1="316.20" y1="379.68" x2="318.00" y2="379.68" stroke="#666" stroke-width="0.9"/>
<line x1="316.20" y1="374.96" x2="318.00" y2="374.96" stroke="#666" stroke-width="0.9"/>
<line x1="316.20" y1="370.24" x2="318.00" y2="370.24" stroke="#666" stroke-width="0.9"/>
<line x1="316.20" y1="365.52" x2="318.00" y2="365.52" stroke="#666" stroke-width="0.9"/>
<line x1="315.00" y1="360.80" x2="318.00" y2="360.80" stroke="#666" stroke-width="0.9"/>
<line x1="316.20" y1="356.08" x2="318.00" y2="356.08" stroke="#666" stroke-width="0.9"/>
<line x1="316.20" y1="351.36" x2="318.00" y2="351.36" stroke="#666" stroke-width="0.9"/>
<line x1="316.20" y1="346.64" x2="318.00" y2="346.64" stroke="#666" stroke-width="0.9"/>
<line x1="316.20" y1="341.92" x2="318.00" y2="341.92" stroke="#666" stroke-width="0.9"/>
<line x1="315.00" y1="337.20" x2="318.00" y2="337.20" stroke="#666" stroke-width="0.9"/>
<text x="314.20" y="386.45" font-size="5.7" text-anchor="end" fill="#333" stroke="#333" stroke-width="0.3">0</text>
<text x="314.20" y="362.85" font-size="5.7" text-anchor="end" fill="#333" stroke="#333" stroke-width="0.3">50</text>
<text x="314.20" y="339.25" font-size="5.7" text-anchor="end" fill="#333" stroke="#333" stroke-width="0.3">100</text>
<line x1="319.60" y1="384.40" x2="319.60" y2="386.60" stroke="#666" stroke-width="0.9"/>
<line x1="326.50" y1="384.40" x2="326.50" y2="386.60" stroke="#666" stroke-width="0.9"/>
<line x1="333.40" y1="384.40" x2="333.40" y2="386.60" stroke="#666" stroke-width="0.9"/>
<line x1="340.30" y1="384.40" x2="340.30" y2="387.40" stroke="#666" stroke-width="0.9"/>
<line x1="347.20" y1="384.40" x2="347.20" y2="386.60" stroke="#666" stroke-width="0.9"/>
<line x1="354.10" y1="384.40" x2="354.10" y2="386.60" stroke="#666" stroke-width="0.9"/>
<line x1="361.00" y1="384.40" x2="361.00" y2="386.60" stroke="#666" stroke-width="0.9"/>
<line x1="367.90" y1="384.40" x2="367.90" y2="386.60" stroke="#666" stroke-width="0.9"/>
<line x1="374.80" y1="384.40" x2="374.80" y2="387.40" stroke="#666" stroke-width="0.9"/>
<line x1="381.70" y1="384.40" x2="381.70" y2="386.60" stroke="#666" stroke-width="0.9"/>
<line x1="388.60" y1="384.40" x2="388.60" y2="386.60" stroke="#666" stroke-width="0.9"/>
<line x1="395.50" y1="384.40" x2="395.50" y2="386.60" stroke="#666" stroke-width="0.9"/>
<line x1="402.40" y1="384.40" x2="402.40" y2="386.60" stroke="#666" stroke-width="0.9"/>
<line x1="409.30" y1="384.40" x2="409.30" y2="387.40" stroke="#666" stroke-width="0.9"/>
<line x1="416.20" y1="384.40" x2="416.20" y2="386.60" stroke="#666" stroke-width="0.9"/>
<line x1="423.10" y1="384.40" x2="423.10" y2="386.60" stroke="#666" stroke-width="0.9"/>
<line x1="430.00" y1="384.40" x2="430.00" y2="386.60" stroke="#666" stroke-width="0.9"/>
<line x1="436.90" y1="384.40" x2="436.90" y2="386.60" stroke="#666" stroke-width="0.9"/>
<line x1="443.80" y1="384.40" x2="443.80" y2="387.40" stroke="#666" stroke-width="0.9"/>
<text x="340.30" y="394.76" font-size="6.0" text-anchor="middle" fill="#333" stroke="#333" stroke-width="0.3">200</text>
<text x="374.80" y="394.76" font-size="6.0" text-anchor="middle" fill="#333" stroke="#333" stroke-width="0.3">300</text>
<text x="409.30" y="394.76" font-size="6.0" text-anchor="middle" fill="#333" stroke="#333" stroke-width="0.3">400</text>
<text x="443.80" y="394.76" font-size="6.0" text-anchor="middle" fill="#333" stroke="#333" stroke-width="0.3">500</text>
<line x1="340.00" y1="372.10" x2="340.00" y2="384.40" stroke="#525252" stroke-width="1.0"/>
<line x1="372.20" y1="377.10" x2="372.20" y2="384.40" stroke="#525252" stroke-width="1.0"/>
<line x1="393.20" y1="378.20" x2="393.20" y2="384.40" stroke="#525252" stroke-width="1.0"/>
<line x1="395.90" y1="375.30" x2="395.90" y2="384.40" stroke="#525252" stroke-width="1.0"/>
<line x1="398.80" y1="368.60" x2="398.80" y2="384.40" stroke="#525252" stroke-width="1.0"/>
<line x1="404.30" y1="379.00" x2="404.30" y2="384.40" stroke="#525252" stroke-width="1.0"/>
<line x1="410.40" y1="337.00" x2="410.40" y2="384.40" stroke="#525252" stroke-width="1.0"/>
<line x1="416.50" y1="348.80" x2="416.50" y2="384.40" stroke="#525252" stroke-width="1.0"/>
<line x1="420.40" y1="374.50" x2="420.40" y2="384.40" stroke="#525252" stroke-width="1.0"/>
<line x1="426.80" y1="376.00" x2="426.80" y2="384.40" stroke="#525252" stroke-width="1.0"/>
<text x="339.90" y="370.52" font-size="5.9" text-anchor="middle" font-weight="bold" fill="#000" stroke="#000" stroke-width="0.25">196.93</text>
<text x="372.20" y="376.22" font-size="5.9" text-anchor="middle" font-weight="bold" fill="#000" stroke="#000" stroke-width="0.25">292.13</text>
<text x="398.80" y="367.12" font-size="5.9" text-anchor="middle" font-weight="bold" fill="#000" stroke="#000" stroke-width="0.25">371.47</text>
<text x="410.10" y="335.62" font-size="5.9" text-anchor="middle" font-weight="bold" fill="#000" stroke="#000" stroke-width="0.25">405.20</text>
<text x="421.90" y="347.22" font-size="5.9" text-anchor="middle" font-weight="bold" fill="#000" stroke="#000" stroke-width="0.25">423.33</text>
<text x="428.10" y="373.02" font-size="5.9" text-anchor="middle" font-weight="bold" fill="#000" stroke="#000" stroke-width="0.25">435.40</text>
<text x="328" y="344.7" font-size="9.8" font-weight="bold" font-family="Liberation Serif" fill="#000" stroke="#000" stroke-width="0.35" style="font-family:'Liberation Serif',serif">M<tspan font-size="6.8" dy="1.8">7</tspan></text>
<line x1="25.10" y1="449.40" x2="25.10" y2="527.60" stroke="#666" stroke-width="1.0"/>
<line x1="25.10" y1="527.20" x2="258.20" y2="527.20" stroke="#444" stroke-width="1.0"/>
<line x1="22.10" y1="527.20" x2="25.10" y2="527.20" stroke="#666" stroke-width="0.9"/>
<line x1="23.10" y1="523.33" x2="25.10" y2="523.33" stroke="#666" stroke-width="0.9"/>
<line x1="23.10" y1="519.45" x2="25.10" y2="519.45" stroke="#666" stroke-width="0.9"/>
<line x1="23.10" y1="515.58" x2="25.10" y2="515.58" stroke="#666" stroke-width="0.9"/>
<line x1="22.10" y1="511.70" x2="25.10" y2="511.70" stroke="#666" stroke-width="0.9"/>
<line x1="23.10" y1="507.83" x2="25.10" y2="507.83" stroke="#666" stroke-width="0.9"/>
<line x1="23.10" y1="503.95" x2="25.10" y2="503.95" stroke="#666" stroke-width="0.9"/>
<line x1="23.10" y1="500.08" x2="25.10" y2="500.08" stroke="#666" stroke-width="0.9"/>
<line x1="22.10" y1="496.20" x2="25.10" y2="496.20" stroke="#666" stroke-width="0.9"/>
<line x1="23.10" y1="492.33" x2="25.10" y2="492.33" stroke="#666" stroke-width="0.9"/>
<line x1="23.10" y1="488.45" x2="25.10" y2="488.45" stroke="#666" stroke-width="0.9"/>
<line x1="23.10" y1="484.58" x2="25.10" y2="484.58" stroke="#666" stroke-width="0.9"/>
<line x1="22.10" y1="480.70" x2="25.10" y2="480.70" stroke="#666" stroke-width="0.9"/>
<line x1="23.10" y1="476.82" x2="25.10" y2="476.82" stroke="#666" stroke-width="0.9"/>
<line x1="23.10" y1="472.95" x2="25.10" y2="472.95" stroke="#666" stroke-width="0.9"/>
<line x1="23.10" y1="469.07" x2="25.10" y2="469.07" stroke="#666" stroke-width="0.9"/>
<line x1="22.10" y1="465.20" x2="25.10" y2="465.20" stroke="#666" stroke-width="0.9"/>
<line x1="23.10" y1="461.32" x2="25.10" y2="461.32" stroke="#666" stroke-width="0.9"/>
<line x1="23.10" y1="457.45" x2="25.10" y2="457.45" stroke="#666" stroke-width="0.9"/>
<line x1="23.10" y1="453.57" x2="25.10" y2="453.57" stroke="#666" stroke-width="0.9"/>
<line x1="22.10" y1="449.70" x2="25.10" y2="449.70" stroke="#666" stroke-width="0.9"/>
<text x="21.60" y="529.36" font-size="6.0" text-anchor="end" fill="#111" stroke="#111" stroke-width="0.3">0</text>
<text x="21.60" y="513.86" font-size="6.0" text-anchor="end" fill="#111" stroke="#111" stroke-width="0.3">20</text>
<text x="21.60" y="498.36" font-size="6.0" text-anchor="end" fill="#111" stroke="#111" stroke-width="0.3">40</text>
<text x="21.60" y="482.86" font-size="6.0" text-anchor="end" fill="#111" stroke="#111" stroke-width="0.3">60</text>
<text x="21.60" y="467.36" font-size="6.0" text-anchor="end" fill="#111" stroke="#111" stroke-width="0.3">80</text>
<text x="21.60" y="451.86" font-size="6.0" text-anchor="end" fill="#111" stroke="#111" stroke-width="0.3">100</text>
<line x1="25.70" y1="527.20" x2="25.70" y2="531.00" stroke="#666" stroke-width="0.9"/>
<line x1="31.80" y1="527.20" x2="31.80" y2="530.40" stroke="#666" stroke-width="0.9"/>
<line x1="37.91" y1="527.20" x2="37.91" y2="530.40" stroke="#666" stroke-width="0.9"/>
<line x1="44.01" y1="527.20" x2="44.01" y2="530.40" stroke="#666" stroke-width="0.9"/>
<line x1="50.11" y1="527.20" x2="50.11" y2="530.40" stroke="#666" stroke-width="0.9"/>
<line x1="56.21" y1="527.20" x2="56.21" y2="531.00" stroke="#666" stroke-width="0.9"/>
<line x1="62.32" y1="527.20" x2="62.32" y2="530.40" stroke="#666" stroke-width="0.9"/>
<line x1="68.42" y1="527.20" x2="68.42" y2="530.40" stroke="#666" stroke-width="0.9"/>
<line x1="74.52" y1="527.20" x2="74.52" y2="530.40" stroke="#666" stroke-width="0.9"/>
<line x1="80.63" y1="527.20" x2="80.63" y2="530.40" stroke="#666" stroke-width="0.9"/>
<line x1="86.73" y1="527.20" x2="86.73" y2="531.00" stroke="#666" stroke-width="0.9"/>
<line x1="92.83" y1="527.20" x2="92.83" y2="530.40" stroke="#666" stroke-width="0.9"/>
<line x1="98.94" y1="527.20" x2="98.94" y2="530.40" stroke="#666" stroke-width="0.9"/>
<line x1="105.04" y1="527.20" x2="105.04" y2="530.40" stroke="#666" stroke-width="0.9"/>
<line x1="111.14" y1="527.20" x2="111.14" y2="530.40" stroke="#666" stroke-width="0.9"/>
<line x1="117.24" y1="527.20" x2="117.24" y2="531.00" stroke="#666" stroke-width="0.9"/>
<line x1="123.35" y1="527.20" x2="123.35" y2="530.40" stroke="#666" stroke-width="0.9"/>
<line x1="129.45" y1="527.20" x2="129.45" y2="530.40" stroke="#666" stroke-width="0.9"/>
<line x1="135.55" y1="527.20" x2="135.55" y2="530.40" stroke="#666" stroke-width="0.9"/>
<line x1="141.66" y1="527.20" x2="141.66" y2="530.40" stroke="#666" stroke-width="0.9"/>
<line x1="147.76" y1="527.20" x2="147.76" y2="531.00" stroke="#666" stroke-width="0.9"/>
<line x1="153.86" y1="527.20" x2="153.86" y2="530.40" stroke="#666" stroke-width="0.9"/>
<line x1="159.97" y1="527.20" x2="159.97" y2="530.40" stroke="#666" stroke-width="0.9"/>
<line x1="166.07" y1="527.20" x2="166.07" y2="530.40" stroke="#666" stroke-width="0.9"/>
<line x1="172.17" y1="527.20" x2="172.17" y2="530.40" stroke="#666" stroke-width="0.9"/>
<line x1="178.27" y1="527.20" x2="178.27" y2="531.00" stroke="#666" stroke-width="0.9"/>
<line x1="184.38" y1="527.20" x2="184.38" y2="530.40" stroke="#666" stroke-width="0.9"/>
<line x1="190.48" y1="527.20" x2="190.48" y2="530.40" stroke="#666" stroke-width="0.9"/>
<line x1="196.58" y1="527.20" x2="196.58" y2="530.40" stroke="#666" stroke-width="0.9"/>
<line x1="202.69" y1="527.20" x2="202.69" y2="530.40" stroke="#666" stroke-width="0.9"/>
<line x1="208.79" y1="527.20" x2="208.79" y2="531.00" stroke="#666" stroke-width="0.9"/>
<line x1="214.89" y1="527.20" x2="214.89" y2="530.40" stroke="#666" stroke-width="0.9"/>
<line x1="221.00" y1="527.20" x2="221.00" y2="530.40" stroke="#666" stroke-width="0.9"/>
<line x1="227.10" y1="527.20" x2="227.10" y2="530.40" stroke="#666" stroke-width="0.9"/>
<line x1="233.20" y1="527.20" x2="233.20" y2="530.40" stroke="#666" stroke-width="0.9"/>
<line x1="239.30" y1="527.20" x2="239.30" y2="531.00" stroke="#666" stroke-width="0.9"/>
<line x1="245.41" y1="527.20" x2="245.41" y2="530.40" stroke="#666" stroke-width="0.9"/>
<line x1="251.51" y1="527.20" x2="251.51" y2="530.40" stroke="#666" stroke-width="0.9"/>
<line x1="257.61" y1="527.20" x2="257.61" y2="530.40" stroke="#666" stroke-width="0.9"/>
<text x="25.70" y="537.16" font-size="6.0" text-anchor="middle" fill="#111" stroke="#111" stroke-width="0.3">200</text>
<text x="56.21" y="537.16" font-size="6.0" text-anchor="middle" fill="#111" stroke="#111" stroke-width="0.3">250</text>
<text x="86.73" y="537.16" font-size="6.0" text-anchor="middle" fill="#111" stroke="#111" stroke-width="0.3">300</text>
<text x="117.24" y="537.16" font-size="6.0" text-anchor="middle" fill="#111" stroke="#111" stroke-width="0.3">350</text>
<text x="147.76" y="537.16" font-size="6.0" text-anchor="middle" fill="#111" stroke="#111" stroke-width="0.3">400</text>
<text x="178.27" y="537.16" font-size="6.0" text-anchor="middle" fill="#111" stroke="#111" stroke-width="0.3">450</text>
<text x="208.79" y="537.16" font-size="6.0" text-anchor="middle" fill="#111" stroke="#111" stroke-width="0.3">500</text>
<text x="239.30" y="537.16" font-size="6.0" text-anchor="middle" fill="#111" stroke="#111" stroke-width="0.3">550</text>
<text x="0" y="0" font-size="6.0" text-anchor="middle" fill="#222" stroke="#222" stroke-width="0.3" transform="translate(9.86,488.50) rotate(-90)">Relative Abundance</text>
<text x="142.20" y="545.16" font-size="5.6" text-anchor="middle" fill="#222" stroke="#222" stroke-width="0.3">m/z</text>
<line x1="163.80" y1="525.20" x2="163.80" y2="527.20" stroke="#525252" stroke-width="1.0"/>
<line x1="169.60" y1="522.70" x2="169.60" y2="527.20" stroke="#525252" stroke-width="1.0"/>
<line x1="172.20" y1="524.00" x2="172.20" y2="527.20" stroke="#525252" stroke-width="1.0"/>
<line x1="178.60" y1="522.00" x2="178.60" y2="527.20" stroke="#525252" stroke-width="1.0"/>
<line x1="182.50" y1="524.60" x2="182.50" y2="527.20" stroke="#525252" stroke-width="1.0"/>
<line x1="192.50" y1="524.00" x2="192.50" y2="527.20" stroke="#525252" stroke-width="1.0"/>
<line x1="195.30" y1="525.20" x2="195.30" y2="527.20" stroke="#525252" stroke-width="1.0"/>
<line x1="199.40" y1="491.90" x2="199.40" y2="527.20" stroke="#525252" stroke-width="1.0"/>
<line x1="210.30" y1="450.20" x2="210.30" y2="527.20" stroke="#525252" stroke-width="1.0"/>
<line x1="221.30" y1="521.00" x2="221.30" y2="527.20" stroke="#525252" stroke-width="1.0"/>
<text x="169.60" y="520.36" font-size="6" text-anchor="middle" font-weight="bold" fill="#000" stroke="#000" stroke-width="0.25">435.67</text>
<text x="197.50" y="490.06" font-size="6" text-anchor="middle" font-weight="bold" fill="#000" stroke="#000" stroke-width="0.25">483.40</text>
<text x="210.00" y="447.86" font-size="6" text-anchor="middle" font-weight="bold" fill="#000" stroke="#000" stroke-width="0.25">501.33</text>
<text x="222.30" y="518.56" font-size="6" text-anchor="middle" font-weight="bold" fill="#000" stroke="#000" stroke-width="0.25">519.27</text>
<line x1="40.50" y1="446.60" x2="40.50" y2="494.70" stroke="#666" stroke-width="1.0"/>
<line x1="40.50" y1="494.30" x2="174.40" y2="494.30" stroke="#444" stroke-width="1.0"/>
<line x1="37.50" y1="494.30" x2="40.50" y2="494.30" stroke="#666" stroke-width="0.9"/>
<line x1="38.70" y1="489.56" x2="40.50" y2="489.56" stroke="#666" stroke-width="0.9"/>
<line x1="38.70" y1="484.82" x2="40.50" y2="484.82" stroke="#666" stroke-width="0.9"/>
<line x1="38.70" y1="480.08" x2="40.50" y2="480.08" stroke="#666" stroke-width="0.9"/>
<line x1="38.70" y1="475.34" x2="40.50" y2="475.34" stroke="#666" stroke-width="0.9"/>
<line x1="37.50" y1="470.60" x2="40.50" y2="470.60" stroke="#666" stroke-width="0.9"/>
<line x1="38.70" y1="465.86" x2="40.50" y2="465.86" stroke="#666" stroke-width="0.9"/>
<line x1="38.70" y1="461.12" x2="40.50" y2="461.12" stroke="#666" stroke-width="0.9"/>
<line x1="38.70" y1="456.38" x2="40.50" y2="456.38" stroke="#666" stroke-width="0.9"/>
<line x1="38.70" y1="451.64" x2="40.50" y2="451.64" stroke="#666" stroke-width="0.9"/>
<line x1="37.50" y1="446.90" x2="40.50" y2="446.90" stroke="#666" stroke-width="0.9"/>
<text x="36.40" y="496.28" font-size="5.5" text-anchor="end" fill="#333" stroke="#333" stroke-width="0.3">0</text>
<text x="36.40" y="472.58" font-size="5.5" text-anchor="end" fill="#333" stroke="#333" stroke-width="0.3">50</text>
<text x="36.40" y="448.88" font-size="5.5" text-anchor="end" fill="#333" stroke="#333" stroke-width="0.3">100</text>
<line x1="40.05" y1="494.30" x2="40.05" y2="496.50" stroke="#666" stroke-width="0.9"/>
<line x1="45.02" y1="494.30" x2="45.02" y2="496.50" stroke="#666" stroke-width="0.9"/>
<line x1="50.00" y1="494.30" x2="50.00" y2="497.30" stroke="#666" stroke-width="0.9"/>
<line x1="54.98" y1="494.30" x2="54.98" y2="496.50" stroke="#666" stroke-width="0.9"/>
<line x1="59.95" y1="494.30" x2="59.95" y2="496.50" stroke="#666" stroke-width="0.9"/>
<line x1="64.93" y1="494.30" x2="64.93" y2="496.50" stroke="#666" stroke-width="0.9"/>
<line x1="69.90" y1="494.30" x2="69.90" y2="496.50" stroke="#666" stroke-width="0.9"/>
<line x1="74.88" y1="494.30" x2="74.88" y2="497.30" stroke="#666" stroke-width="0.9"/>
<line x1="79.86" y1="494.30" x2="79.86" y2="496.50" stroke="#666" stroke-width="0.9"/>
<line x1="84.83" y1="494.30" x2="84.83" y2="496.50" stroke="#666" stroke-width="0.9"/>
<line x1="89.81" y1="494.30" x2="89.81" y2="496.50" stroke="#666" stroke-width="0.9"/>
<line x1="94.78" y1="494.30" x2="94.78" y2="496.50" stroke="#666" stroke-width="0.9"/>
<line x1="99.76" y1="494.30" x2="99.76" y2="497.30" stroke="#666" stroke-width="0.9"/>
<line x1="104.74" y1="494.30" x2="104.74" y2="496.50" stroke="#666" stroke-width="0.9"/>
<line x1="109.71" y1="494.30" x2="109.71" y2="496.50" stroke="#666" stroke-width="0.9"/>
<line x1="114.69" y1="494.30" x2="114.69" y2="496.50" stroke="#666" stroke-width="0.9"/>
<line x1="119.66" y1="494.30" x2="119.66" y2="496.50" stroke="#666" stroke-width="0.9"/>
<line x1="124.64" y1="494.30" x2="124.64" y2="497.30" stroke="#666" stroke-width="0.9"/>
<line x1="129.62" y1="494.30" x2="129.62" y2="496.50" stroke="#666" stroke-width="0.9"/>
<line x1="134.59" y1="494.30" x2="134.59" y2="496.50" stroke="#666" stroke-width="0.9"/>
<line x1="139.57" y1="494.30" x2="139.57" y2="496.50" stroke="#666" stroke-width="0.9"/>
<line x1="144.54" y1="494.30" x2="144.54" y2="496.50" stroke="#666" stroke-width="0.9"/>
<line x1="149.52" y1="494.30" x2="149.52" y2="497.30" stroke="#666" stroke-width="0.9"/>
<line x1="154.50" y1="494.30" x2="154.50" y2="496.50" stroke="#666" stroke-width="0.9"/>
<line x1="159.47" y1="494.30" x2="159.47" y2="496.50" stroke="#666" stroke-width="0.9"/>
<line x1="164.45" y1="494.30" x2="164.45" y2="496.50" stroke="#666" stroke-width="0.9"/>
<line x1="169.42" y1="494.30" x2="169.42" y2="496.50" stroke="#666" stroke-width="0.9"/>
<line x1="174.40" y1="494.30" x2="174.40" y2="497.30" stroke="#666" stroke-width="0.9"/>
<text x="50.00" y="503.99" font-size="5.8" text-anchor="middle" fill="#333" stroke="#333" stroke-width="0.3">300</text>
<text x="74.88" y="503.99" font-size="5.8" text-anchor="middle" fill="#333" stroke="#333" stroke-width="0.3">350</text>
<text x="99.76" y="503.99" font-size="5.8" text-anchor="middle" fill="#333" stroke="#333" stroke-width="0.3">400</text>
<text x="124.64" y="503.99" font-size="5.8" text-anchor="middle" fill="#333" stroke="#333" stroke-width="0.3">450</text>
<text x="149.52" y="503.99" font-size="5.8" text-anchor="middle" fill="#333" stroke="#333" stroke-width="0.3">500</text>
<text x="174.40" y="503.99" font-size="5.8" text-anchor="middle" fill="#333" stroke="#333" stroke-width="0.3">550</text>
<line x1="108.20" y1="477.70" x2="108.20" y2="494.30" stroke="#8a8a8a" stroke-width="1.0"/>
<line x1="117.60" y1="470.30" x2="117.60" y2="494.30" stroke="#8a8a8a" stroke-width="1.0"/>
<line x1="135.10" y1="468.90" x2="135.10" y2="494.30" stroke="#8a8a8a" stroke-width="1.0"/>
<line x1="77.50" y1="488.20" x2="77.50" y2="494.30" stroke="#525252" stroke-width="1.0"/>
<line x1="80.60" y1="479.50" x2="80.60" y2="494.30" stroke="#525252" stroke-width="1.0"/>
<line x1="81.60" y1="481.40" x2="81.60" y2="494.30" stroke="#525252" stroke-width="1.0"/>
<line x1="85.40" y1="481.90" x2="85.40" y2="494.30" stroke="#525252" stroke-width="1.0"/>
<line x1="87.30" y1="488.20" x2="87.30" y2="494.30" stroke="#525252" stroke-width="1.0"/>
<line x1="88.20" y1="487.40" x2="88.20" y2="494.30" stroke="#525252" stroke-width="1.0"/>
<line x1="94.40" y1="447.70" x2="94.40" y2="494.30" stroke="#525252" stroke-width="1.0"/>
<line x1="95.40" y1="483.20" x2="95.40" y2="494.30" stroke="#525252" stroke-width="1.0"/>
<line x1="100.10" y1="486.00" x2="100.10" y2="494.30" stroke="#525252" stroke-width="1.0"/>
<line x1="102.70" y1="475.80" x2="102.70" y2="494.30" stroke="#525252" stroke-width="1.0"/>
<line x1="103.60" y1="475.80" x2="103.60" y2="494.30" stroke="#525252" stroke-width="1.0"/>
<line x1="107.50" y1="486.00" x2="107.50" y2="494.30" stroke="#525252" stroke-width="1.0"/>
<line x1="112.10" y1="488.70" x2="112.10" y2="494.30" stroke="#525252" stroke-width="1.0"/>
<line x1="118.30" y1="475.80" x2="118.30" y2="494.30" stroke="#525252" stroke-width="1.0"/>
<line x1="120.20" y1="483.80" x2="120.20" y2="494.30" stroke="#525252" stroke-width="1.0"/>
<line x1="135.50" y1="476.50" x2="135.50" y2="494.30" stroke="#525252" stroke-width="1.0"/>
<line x1="141.60" y1="455.40" x2="141.60" y2="494.30" stroke="#525252" stroke-width="1.0"/>
<text x="67.00" y="485.87" font-size="5.9" text-anchor="middle" font-weight="bold" fill="#000" stroke="#000" stroke-width="0.25">354.74</text>
<text x="80.30" y="477.02" font-size="5.9" text-anchor="middle" font-weight="bold" fill="#000" stroke="#000" stroke-width="0.25">361.33</text>
<text x="94.10" y="444.92" font-size="5.9" text-anchor="middle" font-weight="bold" fill="#000" stroke="#000" stroke-width="0.25">389.34</text>
<text x="109.20" y="467.82" font-size="5.9" text-anchor="middle" font-weight="bold" fill="#000" stroke="#000" stroke-width="0.25">435.11</text>
<text x="129.00" y="467.32" font-size="5.9" text-anchor="middle" font-weight="bold" fill="#000" stroke="#000" stroke-width="0.25">471.36</text>
<text x="141.70" y="453.32" font-size="5.9" text-anchor="middle" font-weight="bold" fill="#000" stroke="#000" stroke-width="0.25">483.27</text>
<text x="50.2" y="455.1" font-size="9.8" font-weight="bold" font-family="Liberation Serif" fill="#000" stroke="#000" stroke-width="0.35" style="font-family:'Liberation Serif',serif">M<tspan font-size="6.8" dy="1.8">8</tspan></text>
<line x1="301.50" y1="449.40" x2="301.50" y2="527.40" stroke="#666" stroke-width="1.0"/>
<line x1="301.50" y1="527.00" x2="531.50" y2="527.00" stroke="#444" stroke-width="1.0"/>
<line x1="298.50" y1="527.00" x2="301.50" y2="527.00" stroke="#666" stroke-width="0.9"/>
<line x1="299.50" y1="523.13" x2="301.50" y2="523.13" stroke="#666" stroke-width="0.9"/>
<line x1="299.50" y1="519.27" x2="301.50" y2="519.27" stroke="#666" stroke-width="0.9"/>
<line x1="299.50" y1="515.40" x2="301.50" y2="515.40" stroke="#666" stroke-width="0.9"/>
<line x1="298.50" y1="511.54" x2="301.50" y2="511.54" stroke="#666" stroke-width="0.9"/>
<line x1="299.50" y1="507.68" x2="301.50" y2="507.68" stroke="#666" stroke-width="0.9"/>
<line x1="299.50" y1="503.81" x2="301.50" y2="503.81" stroke="#666" stroke-width="0.9"/>
<line x1="299.50" y1="499.94" x2="301.50" y2="499.94" stroke="#666" stroke-width="0.9"/>
<line x1="298.50" y1="496.08" x2="301.50" y2="496.08" stroke="#666" stroke-width="0.9"/>
<line x1="299.50" y1="492.21" x2="301.50" y2="492.21" stroke="#666" stroke-width="0.9"/>
<line x1="299.50" y1="488.35" x2="301.50" y2="488.35" stroke="#666" stroke-width="0.9"/>
<line x1="299.50" y1="484.49" x2="301.50" y2="484.49" stroke="#666" stroke-width="0.9"/>
<line x1="298.50" y1="480.62" x2="301.50" y2="480.62" stroke="#666" stroke-width="0.9"/>
<line x1="299.50" y1="476.75" x2="301.50" y2="476.75" stroke="#666" stroke-width="0.9"/>
<line x1="299.50" y1="472.89" x2="301.50" y2="472.89" stroke="#666" stroke-width="0.9"/>
<line x1="299.50" y1="469.02" x2="301.50" y2="469.02" stroke="#666" stroke-width="0.9"/>
<line x1="298.50" y1="465.16" x2="301.50" y2="465.16" stroke="#666" stroke-width="0.9"/>
<line x1="299.50" y1="461.29" x2="301.50" y2="461.29" stroke="#666" stroke-width="0.9"/>
<line x1="299.50" y1="457.43" x2="301.50" y2="457.43" stroke="#666" stroke-width="0.9"/>
<line x1="299.50" y1="453.56" x2="301.50" y2="453.56" stroke="#666" stroke-width="0.9"/>
<line x1="298.50" y1="449.70" x2="301.50" y2="449.70" stroke="#666" stroke-width="0.9"/>
<text x="298.00" y="529.16" font-size="6.0" text-anchor="end" fill="#111" stroke="#111" stroke-width="0.3">0</text>
<text x="298.00" y="513.70" font-size="6.0" text-anchor="end" fill="#111" stroke="#111" stroke-width="0.3">20</text>
<text x="298.00" y="498.24" font-size="6.0" text-anchor="end" fill="#111" stroke="#111" stroke-width="0.3">40</text>
<text x="298.00" y="482.78" font-size="6.0" text-anchor="end" fill="#111" stroke="#111" stroke-width="0.3">60</text>
<text x="298.00" y="467.32" font-size="6.0" text-anchor="end" fill="#111" stroke="#111" stroke-width="0.3">80</text>
<text x="298.00" y="451.86" font-size="6.0" text-anchor="end" fill="#111" stroke="#111" stroke-width="0.3">100</text>
<line x1="301.90" y1="527.00" x2="301.90" y2="530.80" stroke="#666" stroke-width="0.9"/>
<line x1="308.45" y1="527.00" x2="308.45" y2="530.20" stroke="#666" stroke-width="0.9"/>
<line x1="314.99" y1="527.00" x2="314.99" y2="530.20" stroke="#666" stroke-width="0.9"/>
<line x1="321.54" y1="527.00" x2="321.54" y2="530.20" stroke="#666" stroke-width="0.9"/>
<line x1="328.08" y1="527.00" x2="328.08" y2="530.20" stroke="#666" stroke-width="0.9"/>
<line x1="334.63" y1="527.00" x2="334.63" y2="530.80" stroke="#666" stroke-width="0.9"/>
<line x1="341.18" y1="527.00" x2="341.18" y2="530.20" stroke="#666" stroke-width="0.9"/>
<line x1="347.72" y1="527.00" x2="347.72" y2="530.20" stroke="#666" stroke-width="0.9"/>
<line x1="354.27" y1="527.00" x2="354.27" y2="530.20" stroke="#666" stroke-width="0.9"/>
<line x1="360.81" y1="527.00" x2="360.81" y2="530.20" stroke="#666" stroke-width="0.9"/>
<line x1="367.36" y1="527.00" x2="367.36" y2="530.80" stroke="#666" stroke-width="0.9"/>
<line x1="373.91" y1="527.00" x2="373.91" y2="530.20" stroke="#666" stroke-width="0.9"/>
<line x1="380.45" y1="527.00" x2="380.45" y2="530.20" stroke="#666" stroke-width="0.9"/>
<line x1="387.00" y1="527.00" x2="387.00" y2="530.20" stroke="#666" stroke-width="0.9"/>
<line x1="393.54" y1="527.00" x2="393.54" y2="530.20" stroke="#666" stroke-width="0.9"/>
<line x1="400.09" y1="527.00" x2="400.09" y2="530.80" stroke="#666" stroke-width="0.9"/>
<line x1="406.64" y1="527.00" x2="406.64" y2="530.20" stroke="#666" stroke-width="0.9"/>
<line x1="413.18" y1="527.00" x2="413.18" y2="530.20" stroke="#666" stroke-width="0.9"/>
<line x1="419.73" y1="527.00" x2="419.73" y2="530.20" stroke="#666" stroke-width="0.9"/>
<line x1="426.27" y1="527.00" x2="426.27" y2="530.20" stroke="#666" stroke-width="0.9"/>
<line x1="432.82" y1="527.00" x2="432.82" y2="530.80" stroke="#666" stroke-width="0.9"/>
<line x1="439.37" y1="527.00" x2="439.37" y2="530.20" stroke="#666" stroke-width="0.9"/>
<line x1="445.91" y1="527.00" x2="445.91" y2="530.20" stroke="#666" stroke-width="0.9"/>
<line x1="452.46" y1="527.00" x2="452.46" y2="530.20" stroke="#666" stroke-width="0.9"/>
<line x1="459.00" y1="527.00" x2="459.00" y2="530.20" stroke="#666" stroke-width="0.9"/>
<line x1="465.55" y1="527.00" x2="465.55" y2="530.80" stroke="#666" stroke-width="0.9"/>
<line x1="472.10" y1="527.00" x2="472.10" y2="530.20" stroke="#666" stroke-width="0.9"/>
<line x1="478.64" y1="527.00" x2="478.64" y2="530.20" stroke="#666" stroke-width="0.9"/>
<line x1="485.19" y1="527.00" x2="485.19" y2="530.20" stroke="#666" stroke-width="0.9"/>
<line x1="491.73" y1="527.00" x2="491.73" y2="530.20" stroke="#666" stroke-width="0.9"/>
<line x1="498.28" y1="527.00" x2="498.28" y2="530.80" stroke="#666" stroke-width="0.9"/>
<line x1="504.83" y1="527.00" x2="504.83" y2="530.20" stroke="#666" stroke-width="0.9"/>
<line x1="511.37" y1="527.00" x2="511.37" y2="530.20" stroke="#666" stroke-width="0.9"/>
<line x1="517.92" y1="527.00" x2="517.92" y2="530.20" stroke="#666" stroke-width="0.9"/>
<line x1="524.46" y1="527.00" x2="524.46" y2="530.20" stroke="#666" stroke-width="0.9"/>
<line x1="531.01" y1="527.00" x2="531.01" y2="530.80" stroke="#666" stroke-width="0.9"/>
<text x="301.90" y="537.56" font-size="6.0" text-anchor="middle" fill="#111" stroke="#111" stroke-width="0.3">200</text>
<text x="334.63" y="537.56" font-size="6.0" text-anchor="middle" fill="#111" stroke="#111" stroke-width="0.3">250</text>
<text x="367.36" y="537.56" font-size="6.0" text-anchor="middle" fill="#111" stroke="#111" stroke-width="0.3">300</text>
<text x="400.09" y="537.56" font-size="6.0" text-anchor="middle" fill="#111" stroke="#111" stroke-width="0.3">350</text>
<text x="432.82" y="537.56" font-size="6.0" text-anchor="middle" fill="#111" stroke="#111" stroke-width="0.3">400</text>
<text x="465.55" y="537.56" font-size="6.0" text-anchor="middle" fill="#111" stroke="#111" stroke-width="0.3">450</text>
<text x="498.28" y="537.56" font-size="6.0" text-anchor="middle" fill="#111" stroke="#111" stroke-width="0.3">500</text>
<text x="531.01" y="537.56" font-size="6.0" text-anchor="middle" fill="#111" stroke="#111" stroke-width="0.3">550</text>
<text x="0" y="0" font-size="6.0" text-anchor="middle" fill="#222" stroke="#222" stroke-width="0.3" transform="translate(285.66,488.40) rotate(-90)">Relative Abundance</text>
<text x="416.50" y="544.46" font-size="5.6" text-anchor="middle" fill="#222" stroke="#222" stroke-width="0.3">m/z</text>
<line x1="311.00" y1="525.50" x2="311.00" y2="527.00" stroke="#525252" stroke-width="1.0"/>
<line x1="337.00" y1="525.50" x2="337.00" y2="527.00" stroke="#525252" stroke-width="1.0"/>
<line x1="355.00" y1="525.50" x2="355.00" y2="527.00" stroke="#525252" stroke-width="1.0"/>
<line x1="383.50" y1="525.50" x2="383.50" y2="527.00" stroke="#525252" stroke-width="1.0"/>
<line x1="395.50" y1="524.50" x2="395.50" y2="527.00" stroke="#525252" stroke-width="1.0"/>
<line x1="409.50" y1="525.00" x2="409.50" y2="527.00" stroke="#525252" stroke-width="1.0"/>
<line x1="430.00" y1="525.00" x2="430.00" y2="527.00" stroke="#525252" stroke-width="1.0"/>
<line x1="446.00" y1="525.00" x2="446.00" y2="527.00" stroke="#525252" stroke-width="1.0"/>
<line x1="477.80" y1="524.40" x2="477.80" y2="527.00" stroke="#525252" stroke-width="1.0"/>
<line x1="478.50" y1="524.70" x2="478.50" y2="527.00" stroke="#525252" stroke-width="1.0"/>
<line x1="481.50" y1="525.00" x2="481.50" y2="527.00" stroke="#525252" stroke-width="1.0"/>
<line x1="490.10" y1="449.90" x2="490.10" y2="527.00" stroke="#444" stroke-width="1.0"/>
<line x1="490.90" y1="509.00" x2="490.90" y2="527.00" stroke="#666" stroke-width="1.2"/>
<line x1="520.10" y1="520.00" x2="520.10" y2="527.00" stroke="#525252" stroke-width="1.0"/>
<text x="313.10" y="525.06" font-size="6" text-anchor="middle" font-weight="bold" fill="#000" stroke="#000" stroke-width="0.25">211.07</text>
<text x="335.10" y="525.06" font-size="6" text-anchor="middle" font-weight="bold" fill="#000" stroke="#000" stroke-width="0.25">249.93</text>
<text x="356.60" y="525.06" font-size="6" text-anchor="middle" font-weight="bold" fill="#000" stroke="#000" stroke-width="0.25">277.07</text>
<text x="382.40" y="525.06" font-size="6" text-anchor="middle" font-weight="bold" fill="#000" stroke="#000" stroke-width="0.25">323.33</text>
<text x="406.70" y="525.06" font-size="6" text-anchor="middle" font-weight="bold" fill="#000" stroke="#000" stroke-width="0.25">370.27</text>
<text x="428.30" y="525.36" font-size="6" text-anchor="middle" font-weight="bold" fill="#000" stroke="#000" stroke-width="0.25">403.07</text>
<text x="449.50" y="525.36" font-size="6" text-anchor="middle" font-weight="bold" fill="#000" stroke="#000" stroke-width="0.25">425.33</text>
<text x="477.00" y="522.86" font-size="6" text-anchor="middle" font-weight="bold" fill="#000" stroke="#000" stroke-width="0.25">469.40</text>
<text x="490.00" y="447.56" font-size="6" text-anchor="middle" font-weight="bold" fill="#000" stroke="#000" stroke-width="0.25">487.33</text>
<text x="502.50" y="507.46" font-size="6" text-anchor="middle" font-weight="bold" fill="#000" stroke="#000" stroke-width="0.25">489.40</text>
<text x="520.00" y="517.76" font-size="6" text-anchor="middle" font-weight="bold" fill="#000" stroke="#000" stroke-width="0.25">533.40</text>
<line x1="318.00" y1="446.70" x2="318.00" y2="498.40" stroke="#666" stroke-width="1.0"/>
<line x1="318.00" y1="498.00" x2="462.40" y2="498.00" stroke="#444" stroke-width="1.0"/>
<line x1="315.00" y1="498.00" x2="318.00" y2="498.00" stroke="#666" stroke-width="0.9"/>
<line x1="316.20" y1="492.90" x2="318.00" y2="492.90" stroke="#666" stroke-width="0.9"/>
<line x1="316.20" y1="487.80" x2="318.00" y2="487.80" stroke="#666" stroke-width="0.9"/>
<line x1="316.20" y1="482.70" x2="318.00" y2="482.70" stroke="#666" stroke-width="0.9"/>
<line x1="316.20" y1="477.60" x2="318.00" y2="477.60" stroke="#666" stroke-width="0.9"/>
<line x1="315.00" y1="472.50" x2="318.00" y2="472.50" stroke="#666" stroke-width="0.9"/>
<line x1="316.20" y1="467.40" x2="318.00" y2="467.40" stroke="#666" stroke-width="0.9"/>
<line x1="316.20" y1="462.30" x2="318.00" y2="462.30" stroke="#666" stroke-width="0.9"/>
<line x1="316.20" y1="457.20" x2="318.00" y2="457.20" stroke="#666" stroke-width="0.9"/>
<line x1="316.20" y1="452.10" x2="318.00" y2="452.10" stroke="#666" stroke-width="0.9"/>
<line x1="315.00" y1="447.00" x2="318.00" y2="447.00" stroke="#666" stroke-width="0.9"/>
<text x="313.10" y="499.98" font-size="5.5" text-anchor="end" fill="#333" stroke="#333" stroke-width="0.3">0</text>
<text x="313.10" y="474.48" font-size="5.5" text-anchor="end" fill="#333" stroke="#333" stroke-width="0.3">50</text>
<text x="313.10" y="448.98" font-size="5.5" text-anchor="end" fill="#333" stroke="#333" stroke-width="0.3">100</text>
<line x1="317.30" y1="498.00" x2="317.30" y2="500.20" stroke="#666" stroke-width="0.9"/>
<line x1="322.65" y1="498.00" x2="322.65" y2="500.20" stroke="#666" stroke-width="0.9"/>
<line x1="328.00" y1="498.00" x2="328.00" y2="501.00" stroke="#666" stroke-width="0.9"/>
<line x1="333.35" y1="498.00" x2="333.35" y2="500.20" stroke="#666" stroke-width="0.9"/>
<line x1="338.70" y1="498.00" x2="338.70" y2="500.20" stroke="#666" stroke-width="0.9"/>
<line x1="344.05" y1="498.00" x2="344.05" y2="500.20" stroke="#666" stroke-width="0.9"/>
<line x1="349.40" y1="498.00" x2="349.40" y2="500.20" stroke="#666" stroke-width="0.9"/>
<line x1="354.75" y1="498.00" x2="354.75" y2="501.00" stroke="#666" stroke-width="0.9"/>
<line x1="360.10" y1="498.00" x2="360.10" y2="500.20" stroke="#666" stroke-width="0.9"/>
<line x1="365.45" y1="498.00" x2="365.45" y2="500.20" stroke="#666" stroke-width="0.9"/>
<line x1="370.80" y1="498.00" x2="370.80" y2="500.20" stroke="#666" stroke-width="0.9"/>
<line x1="376.15" y1="498.00" x2="376.15" y2="500.20" stroke="#666" stroke-width="0.9"/>
<line x1="381.50" y1="498.00" x2="381.50" y2="501.00" stroke="#666" stroke-width="0.9"/>
<line x1="386.85" y1="498.00" x2="386.85" y2="500.20" stroke="#666" stroke-width="0.9"/>
<line x1="392.20" y1="498.00" x2="392.20" y2="500.20" stroke="#666" stroke-width="0.9"/>
<line x1="397.55" y1="498.00" x2="397.55" y2="500.20" stroke="#666" stroke-width="0.9"/>
<line x1="402.90" y1="498.00" x2="402.90" y2="500.20" stroke="#666" stroke-width="0.9"/>
<line x1="408.25" y1="498.00" x2="408.25" y2="501.00" stroke="#666" stroke-width="0.9"/>
<line x1="413.60" y1="498.00" x2="413.60" y2="500.20" stroke="#666" stroke-width="0.9"/>
<line x1="418.95" y1="498.00" x2="418.95" y2="500.20" stroke="#666" stroke-width="0.9"/>
<line x1="424.30" y1="498.00" x2="424.30" y2="500.20" stroke="#666" stroke-width="0.9"/>
<line x1="429.65" y1="498.00" x2="429.65" y2="500.20" stroke="#666" stroke-width="0.9"/>
<line x1="435.00" y1="498.00" x2="435.00" y2="501.00" stroke="#666" stroke-width="0.9"/>
<line x1="440.35" y1="498.00" x2="440.35" y2="500.20" stroke="#666" stroke-width="0.9"/>
<line x1="445.70" y1="498.00" x2="445.70" y2="500.20" stroke="#666" stroke-width="0.9"/>
<line x1="451.05" y1="498.00" x2="451.05" y2="500.20" stroke="#666" stroke-width="0.9"/>
<line x1="456.40" y1="498.00" x2="456.40" y2="500.20" stroke="#666" stroke-width="0.9"/>
<line x1="461.75" y1="498.00" x2="461.75" y2="501.00" stroke="#666" stroke-width="0.9"/>
<text x="328.00" y="507.62" font-size="5.6" text-anchor="middle" fill="#333" stroke="#333" stroke-width="0.3">300</text>
<text x="354.75" y="507.62" font-size="5.6" text-anchor="middle" fill="#333" stroke="#333" stroke-width="0.3">350</text>
<text x="381.50" y="507.62" font-size="5.6" text-anchor="middle" fill="#333" stroke="#333" stroke-width="0.3">400</text>
<text x="408.25" y="507.62" font-size="5.6" text-anchor="middle" fill="#333" stroke="#333" stroke-width="0.3">450</text>
<text x="435.00" y="507.62" font-size="5.6" text-anchor="middle" fill="#333" stroke="#333" stroke-width="0.3">500</text>
<text x="461.75" y="507.62" font-size="5.6" text-anchor="middle" fill="#333" stroke="#333" stroke-width="0.3">550</text>
<line x1="418.90" y1="457.90" x2="418.90" y2="498.00" stroke="#8a8a8a" stroke-width="1.0"/>
<line x1="362.40" y1="494.20" x2="362.40" y2="498.00" stroke="#525252" stroke-width="1.0"/>
<line x1="368.30" y1="495.10" x2="368.30" y2="498.00" stroke="#525252" stroke-width="1.0"/>
<line x1="377.50" y1="495.30" x2="377.50" y2="498.00" stroke="#525252" stroke-width="1.0"/>
<line x1="383.30" y1="494.30" x2="383.30" y2="498.00" stroke="#525252" stroke-width="1.0"/>
<line x1="392.40" y1="489.30" x2="392.40" y2="498.00" stroke="#525252" stroke-width="1.0"/>
<line x1="393.20" y1="474.40" x2="393.20" y2="498.00" stroke="#444" stroke-width="1.0"/>
<line x1="394.60" y1="494.30" x2="394.60" y2="498.00" stroke="#525252" stroke-width="1.0"/>
<line x1="402.80" y1="485.20" x2="402.80" y2="498.00" stroke="#525252" stroke-width="1.0"/>
<line x1="411.50" y1="493.50" x2="411.50" y2="498.00" stroke="#525252" stroke-width="1.0"/>
<line x1="412.30" y1="474.40" x2="412.30" y2="498.00" stroke="#525252" stroke-width="1.0"/>
<line x1="419.10" y1="468.00" x2="419.10" y2="498.00" stroke="#444" stroke-width="1.0"/>
<line x1="419.70" y1="495.00" x2="419.70" y2="498.00" stroke="#525252" stroke-width="1.0"/>
<line x1="428.50" y1="447.10" x2="428.50" y2="498.00" stroke="#525252" stroke-width="1.0"/>
<text x="339.60" y="493.78" font-size="5.5" text-anchor="middle" font-weight="bold" fill="#000" stroke="#000" stroke-width="0.25">321.40</text>
<text x="361.90" y="491.58" font-size="5.5" text-anchor="middle" font-weight="bold" fill="#000" stroke="#000" stroke-width="0.25">363.18</text>
<text x="392.70" y="472.28" font-size="5.5" text-anchor="middle" font-weight="bold" fill="#000" stroke="#000" stroke-width="0.25">421.39</text>
<text x="414.40" y="455.68" font-size="5.5" text-anchor="middle" font-weight="bold" fill="#000" stroke="#000" stroke-width="0.25">469.29</text>
<text x="428.40" y="444.58" font-size="5.5" text-anchor="middle" font-weight="bold" fill="#000" stroke="#000" stroke-width="0.25">487.45</text>
<text x="327.4" y="453.6" font-size="9.8" font-weight="bold" font-family="Liberation Serif" fill="#000" stroke="#000" stroke-width="0.35" style="font-family:'Liberation Serif',serif">M<tspan font-size="6.8" dy="1.8">9</tspan></text>
</svg></body></html>
